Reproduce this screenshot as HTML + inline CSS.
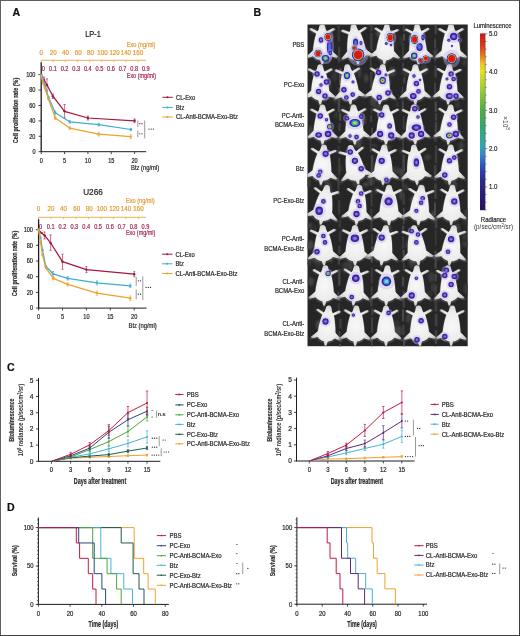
<!DOCTYPE html>
<html><head><meta charset="utf-8"><style>
html,body{margin:0;padding:0;background:#fff;}
svg{display:block;will-change:transform;}
text{font-family:"Liberation Sans",sans-serif;}
</style></head><body>
<svg width="520" height="636" viewBox="0 0 520 636">
<rect x="0" y="0" width="520" height="636" fill="#fff"/>
<text x="93.00" y="37.25" font-size="8.2" fill="#222" stroke="#222" stroke-width="0.2" text-anchor="middle" textLength="15.60" lengthAdjust="spacingAndGlyphs">LP-1</text>
<line x1="41.20" y1="60.30" x2="146.00" y2="60.30" stroke="#e59a30" stroke-width="0.8" />
<line x1="41.20" y1="60.30" x2="41.20" y2="62.10" stroke="#e59a30" stroke-width="0.7" />
<text x="41.20" y="54.54" font-size="6.5" fill="#e59a30" stroke="#e59a30" stroke-width="0.2" text-anchor="middle" textLength="3.43" lengthAdjust="spacingAndGlyphs">0</text>
<line x1="53.30" y1="60.30" x2="53.30" y2="62.10" stroke="#e59a30" stroke-width="0.7" />
<text x="53.30" y="54.54" font-size="6.5" fill="#e59a30" stroke="#e59a30" stroke-width="0.2" text-anchor="middle" textLength="6.87" lengthAdjust="spacingAndGlyphs">20</text>
<line x1="65.40" y1="60.30" x2="65.40" y2="62.10" stroke="#e59a30" stroke-width="0.7" />
<text x="65.40" y="54.54" font-size="6.5" fill="#e59a30" stroke="#e59a30" stroke-width="0.2" text-anchor="middle" textLength="6.87" lengthAdjust="spacingAndGlyphs">40</text>
<line x1="77.50" y1="60.30" x2="77.50" y2="62.10" stroke="#e59a30" stroke-width="0.7" />
<text x="78.30" y="54.54" font-size="6.5" fill="#e59a30" stroke="#e59a30" stroke-width="0.2" text-anchor="middle" textLength="6.87" lengthAdjust="spacingAndGlyphs">60</text>
<line x1="89.60" y1="60.30" x2="89.60" y2="62.10" stroke="#e59a30" stroke-width="0.7" />
<text x="90.40" y="54.54" font-size="6.5" fill="#e59a30" stroke="#e59a30" stroke-width="0.2" text-anchor="middle" textLength="6.87" lengthAdjust="spacingAndGlyphs">80</text>
<line x1="101.70" y1="60.30" x2="101.70" y2="62.10" stroke="#e59a30" stroke-width="0.7" />
<text x="102.50" y="54.54" font-size="6.5" fill="#e59a30" stroke="#e59a30" stroke-width="0.2" text-anchor="middle" textLength="10.30" lengthAdjust="spacingAndGlyphs">100</text>
<line x1="113.80" y1="60.30" x2="113.80" y2="62.10" stroke="#e59a30" stroke-width="0.7" />
<text x="114.60" y="54.54" font-size="6.5" fill="#e59a30" stroke="#e59a30" stroke-width="0.2" text-anchor="middle" textLength="10.30" lengthAdjust="spacingAndGlyphs">120</text>
<line x1="125.90" y1="60.30" x2="125.90" y2="62.10" stroke="#e59a30" stroke-width="0.7" />
<text x="125.90" y="54.54" font-size="6.5" fill="#e59a30" stroke="#e59a30" stroke-width="0.2" text-anchor="middle" textLength="10.30" lengthAdjust="spacingAndGlyphs">140</text>
<line x1="138.00" y1="60.30" x2="138.00" y2="62.10" stroke="#e59a30" stroke-width="0.7" />
<text x="138.00" y="54.54" font-size="6.5" fill="#e59a30" stroke="#e59a30" stroke-width="0.2" text-anchor="middle" textLength="10.30" lengthAdjust="spacingAndGlyphs">160</text>
<text x="126.80" y="47.48" font-size="6.9" fill="#e59a30" stroke="#e59a30" stroke-width="0.2" textLength="28.60" lengthAdjust="spacingAndGlyphs">Exo (ng/ml)</text>
<text x="43.20" y="71.18" font-size="6.6" fill="#a3254c" stroke="#a3254c" stroke-width="0.2" text-anchor="middle" textLength="3.12" lengthAdjust="spacingAndGlyphs">0</text>
<text x="53.00" y="71.18" font-size="6.6" fill="#a3254c" stroke="#a3254c" stroke-width="0.2" text-anchor="middle" textLength="7.80" lengthAdjust="spacingAndGlyphs">0.1</text>
<text x="64.60" y="71.18" font-size="6.6" fill="#a3254c" stroke="#a3254c" stroke-width="0.2" text-anchor="middle" textLength="7.80" lengthAdjust="spacingAndGlyphs">0.2</text>
<text x="76.20" y="71.18" font-size="6.6" fill="#a3254c" stroke="#a3254c" stroke-width="0.2" text-anchor="middle" textLength="7.80" lengthAdjust="spacingAndGlyphs">0.3</text>
<text x="87.80" y="71.18" font-size="6.6" fill="#a3254c" stroke="#a3254c" stroke-width="0.2" text-anchor="middle" textLength="7.80" lengthAdjust="spacingAndGlyphs">0.4</text>
<text x="99.40" y="71.18" font-size="6.6" fill="#a3254c" stroke="#a3254c" stroke-width="0.2" text-anchor="middle" textLength="7.80" lengthAdjust="spacingAndGlyphs">0.5</text>
<text x="111.00" y="71.18" font-size="6.6" fill="#a3254c" stroke="#a3254c" stroke-width="0.2" text-anchor="middle" textLength="7.80" lengthAdjust="spacingAndGlyphs">0.6</text>
<text x="122.60" y="71.18" font-size="6.6" fill="#a3254c" stroke="#a3254c" stroke-width="0.2" text-anchor="middle" textLength="7.80" lengthAdjust="spacingAndGlyphs">0.7</text>
<text x="134.20" y="71.18" font-size="6.6" fill="#a3254c" stroke="#a3254c" stroke-width="0.2" text-anchor="middle" textLength="7.80" lengthAdjust="spacingAndGlyphs">0.8</text>
<text x="145.80" y="71.18" font-size="6.6" fill="#a3254c" stroke="#a3254c" stroke-width="0.2" text-anchor="middle" textLength="7.80" lengthAdjust="spacingAndGlyphs">0.9</text>
<text x="126.80" y="78.08" font-size="6.9" fill="#a3254c" stroke="#a3254c" stroke-width="0.2" textLength="29.20" lengthAdjust="spacingAndGlyphs">Exo (mg/ml)</text>
<line x1="41.20" y1="62.30" x2="41.20" y2="152.10" stroke="#1c1c1c" stroke-width="1.3" />
<line x1="38.50" y1="151.70" x2="41.20" y2="151.70" stroke="#1c1c1c" stroke-width="0.8" />
<text x="35.50" y="154.08" font-size="6.6" fill="#262626" stroke="#262626" stroke-width="0.2" text-anchor="end" textLength="3.12" lengthAdjust="spacingAndGlyphs">0</text>
<line x1="38.50" y1="136.28" x2="41.20" y2="136.28" stroke="#1c1c1c" stroke-width="0.8" />
<text x="35.50" y="138.66" font-size="6.6" fill="#262626" stroke="#262626" stroke-width="0.2" text-anchor="end" textLength="6.24" lengthAdjust="spacingAndGlyphs">20</text>
<line x1="38.50" y1="120.86" x2="41.20" y2="120.86" stroke="#1c1c1c" stroke-width="0.8" />
<text x="35.50" y="123.24" font-size="6.6" fill="#262626" stroke="#262626" stroke-width="0.2" text-anchor="end" textLength="6.24" lengthAdjust="spacingAndGlyphs">40</text>
<line x1="38.50" y1="105.44" x2="41.20" y2="105.44" stroke="#1c1c1c" stroke-width="0.8" />
<text x="35.50" y="107.82" font-size="6.6" fill="#262626" stroke="#262626" stroke-width="0.2" text-anchor="end" textLength="6.24" lengthAdjust="spacingAndGlyphs">60</text>
<line x1="38.50" y1="90.02" x2="41.20" y2="90.02" stroke="#1c1c1c" stroke-width="0.8" />
<text x="35.50" y="92.40" font-size="6.6" fill="#262626" stroke="#262626" stroke-width="0.2" text-anchor="end" textLength="6.24" lengthAdjust="spacingAndGlyphs">80</text>
<line x1="38.50" y1="74.60" x2="41.20" y2="74.60" stroke="#1c1c1c" stroke-width="0.8" />
<text x="35.50" y="76.98" font-size="6.6" fill="#262626" stroke="#262626" stroke-width="0.2" text-anchor="end" textLength="9.36" lengthAdjust="spacingAndGlyphs">100</text>
<line x1="41.20" y1="151.70" x2="146.20" y2="151.70" stroke="#1c1c1c" stroke-width="1.0" />
<line x1="41.20" y1="151.70" x2="41.20" y2="154.10" stroke="#1c1c1c" stroke-width="0.8" />
<text x="41.20" y="162.98" font-size="6.6" fill="#262626" stroke="#262626" stroke-width="0.2" text-anchor="middle" textLength="3.12" lengthAdjust="spacingAndGlyphs">0</text>
<line x1="64.55" y1="151.70" x2="64.55" y2="154.10" stroke="#1c1c1c" stroke-width="0.8" />
<text x="64.55" y="162.98" font-size="6.6" fill="#262626" stroke="#262626" stroke-width="0.2" text-anchor="middle" textLength="3.12" lengthAdjust="spacingAndGlyphs">5</text>
<line x1="87.90" y1="151.70" x2="87.90" y2="154.10" stroke="#1c1c1c" stroke-width="0.8" />
<text x="87.90" y="162.98" font-size="6.6" fill="#262626" stroke="#262626" stroke-width="0.2" text-anchor="middle" textLength="6.24" lengthAdjust="spacingAndGlyphs">10</text>
<line x1="111.25" y1="151.70" x2="111.25" y2="154.10" stroke="#1c1c1c" stroke-width="0.8" />
<text x="111.25" y="162.98" font-size="6.6" fill="#262626" stroke="#262626" stroke-width="0.2" text-anchor="middle" textLength="6.24" lengthAdjust="spacingAndGlyphs">15</text>
<line x1="134.60" y1="151.70" x2="134.60" y2="154.10" stroke="#1c1c1c" stroke-width="0.8" />
<text x="134.60" y="162.98" font-size="6.6" fill="#262626" stroke="#262626" stroke-width="0.2" text-anchor="middle" textLength="6.24" lengthAdjust="spacingAndGlyphs">20</text>
<text x="131.00" y="170.35" font-size="6.8" fill="#262626" stroke="#262626" stroke-width="0.2" textLength="28.20" lengthAdjust="spacingAndGlyphs">Btz (ng/ml)</text>
<text transform="translate(16.00,110.40) rotate(-90)" x="0" y="2.48" font-size="6.9" fill="#2a2a2a" stroke="#2a2a2a" stroke-width="0.2" font-weight="bold" text-anchor="middle" textLength="65.50" lengthAdjust="spacingAndGlyphs">Cell proliferation rate (%)</text>
<line x1="47.00" y1="78.80" x2="47.00" y2="91.00" stroke="#a8163f" stroke-width="0.6" />
<line x1="45.90" y1="78.80" x2="48.10" y2="78.80" stroke="#a8163f" stroke-width="0.6" />
<line x1="45.90" y1="91.00" x2="48.10" y2="91.00" stroke="#a8163f" stroke-width="0.6" />
<line x1="52.90" y1="94.00" x2="52.90" y2="98.50" stroke="#a8163f" stroke-width="0.6" />
<line x1="51.80" y1="94.00" x2="54.00" y2="94.00" stroke="#a8163f" stroke-width="0.6" />
<line x1="51.80" y1="98.50" x2="54.00" y2="98.50" stroke="#a8163f" stroke-width="0.6" />
<line x1="64.55" y1="104.50" x2="64.55" y2="118.00" stroke="#a8163f" stroke-width="0.6" />
<line x1="63.45" y1="104.50" x2="65.65" y2="104.50" stroke="#a8163f" stroke-width="0.6" />
<line x1="63.45" y1="118.00" x2="65.65" y2="118.00" stroke="#a8163f" stroke-width="0.6" />
<line x1="87.90" y1="116.00" x2="87.90" y2="120.00" stroke="#a8163f" stroke-width="0.6" />
<line x1="86.80" y1="116.00" x2="89.00" y2="116.00" stroke="#a8163f" stroke-width="0.6" />
<line x1="86.80" y1="120.00" x2="89.00" y2="120.00" stroke="#a8163f" stroke-width="0.6" />
<line x1="134.60" y1="119.00" x2="134.60" y2="122.60" stroke="#a8163f" stroke-width="0.6" />
<line x1="133.50" y1="119.00" x2="135.70" y2="119.00" stroke="#a8163f" stroke-width="0.6" />
<line x1="133.50" y1="122.60" x2="135.70" y2="122.60" stroke="#a8163f" stroke-width="0.6" />
<line x1="44.10" y1="77.00" x2="44.10" y2="83.00" stroke="#a8163f" stroke-width="0.6" />
<line x1="43.00" y1="77.00" x2="45.20" y2="77.00" stroke="#a8163f" stroke-width="0.6" />
<line x1="43.00" y1="83.00" x2="45.20" y2="83.00" stroke="#a8163f" stroke-width="0.6" />
<polyline points="41.20,75.00 44.10,80.00 47.00,85.00 52.90,96.20 64.55,111.30 87.90,118.00 134.60,120.80" fill="none" stroke="#a8163f" stroke-width="1.25" stroke-linejoin="round" />
<circle cx="41.20" cy="75.00" r="1.2" fill="#a8163f"/>
<circle cx="44.10" cy="80.00" r="1.2" fill="#a8163f"/>
<circle cx="47.00" cy="85.00" r="1.2" fill="#a8163f"/>
<circle cx="52.90" cy="96.20" r="1.2" fill="#a8163f"/>
<circle cx="64.55" cy="111.30" r="1.2" fill="#a8163f"/>
<circle cx="87.90" cy="118.00" r="1.2" fill="#a8163f"/>
<circle cx="134.60" cy="120.80" r="1.2" fill="#a8163f"/>
<line x1="55.20" y1="111.00" x2="55.20" y2="114.60" stroke="#3eaed4" stroke-width="0.6" />
<line x1="54.10" y1="111.00" x2="56.30" y2="111.00" stroke="#3eaed4" stroke-width="0.6" />
<line x1="54.10" y1="114.60" x2="56.30" y2="114.60" stroke="#3eaed4" stroke-width="0.6" />
<line x1="69.70" y1="120.30" x2="69.70" y2="123.30" stroke="#3eaed4" stroke-width="0.6" />
<line x1="68.60" y1="120.30" x2="70.80" y2="120.30" stroke="#3eaed4" stroke-width="0.6" />
<line x1="68.60" y1="123.30" x2="70.80" y2="123.30" stroke="#3eaed4" stroke-width="0.6" />
<line x1="98.80" y1="123.20" x2="98.80" y2="126.00" stroke="#3eaed4" stroke-width="0.6" />
<line x1="97.70" y1="123.20" x2="99.90" y2="123.20" stroke="#3eaed4" stroke-width="0.6" />
<line x1="97.70" y1="126.00" x2="99.90" y2="126.00" stroke="#3eaed4" stroke-width="0.6" />
<line x1="130.80" y1="128.30" x2="130.80" y2="130.70" stroke="#3eaed4" stroke-width="0.6" />
<line x1="129.70" y1="128.30" x2="131.90" y2="128.30" stroke="#3eaed4" stroke-width="0.6" />
<line x1="129.70" y1="130.70" x2="131.90" y2="130.70" stroke="#3eaed4" stroke-width="0.6" />
<polyline points="41.20,75.00 43.00,79.00 44.80,85.00 48.40,97.00 55.20,112.80 69.70,121.80 98.80,124.60 130.80,129.50" fill="none" stroke="#3eaed4" stroke-width="1.25" stroke-linejoin="round" />
<circle cx="41.20" cy="75.00" r="1.2" fill="#3eaed4"/>
<circle cx="43.00" cy="79.00" r="1.2" fill="#3eaed4"/>
<circle cx="44.80" cy="85.00" r="1.2" fill="#3eaed4"/>
<circle cx="48.40" cy="97.00" r="1.2" fill="#3eaed4"/>
<circle cx="55.20" cy="112.80" r="1.2" fill="#3eaed4"/>
<circle cx="69.70" cy="121.80" r="1.2" fill="#3eaed4"/>
<circle cx="98.80" cy="124.60" r="1.2" fill="#3eaed4"/>
<circle cx="130.80" cy="129.50" r="1.2" fill="#3eaed4"/>
<line x1="55.30" y1="116.30" x2="55.30" y2="119.70" stroke="#eea22a" stroke-width="0.6" />
<line x1="54.20" y1="116.30" x2="56.40" y2="116.30" stroke="#eea22a" stroke-width="0.6" />
<line x1="54.20" y1="119.70" x2="56.40" y2="119.70" stroke="#eea22a" stroke-width="0.6" />
<line x1="69.70" y1="126.80" x2="69.70" y2="129.40" stroke="#eea22a" stroke-width="0.6" />
<line x1="68.60" y1="126.80" x2="70.80" y2="126.80" stroke="#eea22a" stroke-width="0.6" />
<line x1="68.60" y1="129.40" x2="70.80" y2="129.40" stroke="#eea22a" stroke-width="0.6" />
<line x1="98.80" y1="132.40" x2="98.80" y2="136.00" stroke="#eea22a" stroke-width="0.6" />
<line x1="97.70" y1="132.40" x2="99.90" y2="132.40" stroke="#eea22a" stroke-width="0.6" />
<line x1="97.70" y1="136.00" x2="99.90" y2="136.00" stroke="#eea22a" stroke-width="0.6" />
<line x1="130.80" y1="134.80" x2="130.80" y2="138.40" stroke="#eea22a" stroke-width="0.6" />
<line x1="129.70" y1="134.80" x2="131.90" y2="134.80" stroke="#eea22a" stroke-width="0.6" />
<line x1="129.70" y1="138.40" x2="131.90" y2="138.40" stroke="#eea22a" stroke-width="0.6" />
<polyline points="41.20,76.00 43.00,83.00 44.80,88.00 48.40,99.00 55.30,118.00 69.70,128.10 98.80,134.20 130.80,136.60" fill="none" stroke="#eea22a" stroke-width="1.25" stroke-linejoin="round" />
<circle cx="41.20" cy="76.00" r="1.2" fill="#eea22a"/>
<circle cx="43.00" cy="83.00" r="1.2" fill="#eea22a"/>
<circle cx="44.80" cy="88.00" r="1.2" fill="#eea22a"/>
<circle cx="48.40" cy="99.00" r="1.2" fill="#eea22a"/>
<circle cx="55.30" cy="118.00" r="1.2" fill="#eea22a"/>
<circle cx="69.70" cy="128.10" r="1.2" fill="#eea22a"/>
<circle cx="98.80" cy="134.20" r="1.2" fill="#eea22a"/>
<circle cx="130.80" cy="136.60" r="1.2" fill="#eea22a"/>
<line x1="162.30" y1="97.30" x2="172.80" y2="97.30" stroke="#a8163f" stroke-width="1.0" />
<circle cx="167.50" cy="97.30" r="1.0" fill="#a8163f"/>
<text x="176.00" y="99.60" font-size="6.4" fill="#262626" stroke="#262626" stroke-width="0.2" textLength="19.21" lengthAdjust="spacingAndGlyphs">CL-Exo</text>
<line x1="162.30" y1="107.40" x2="172.80" y2="107.40" stroke="#3eaed4" stroke-width="1.0" />
<circle cx="167.50" cy="107.40" r="1.0" fill="#3eaed4"/>
<text x="176.00" y="109.70" font-size="6.4" fill="#262626" stroke="#262626" stroke-width="0.2" textLength="8.32" lengthAdjust="spacingAndGlyphs">Btz</text>
<line x1="162.30" y1="117.00" x2="172.80" y2="117.00" stroke="#eea22a" stroke-width="1.0" />
<circle cx="167.50" cy="117.00" r="1.0" fill="#eea22a"/>
<text x="176.00" y="119.30" font-size="6.4" fill="#262626" stroke="#262626" stroke-width="0.2" textLength="61.90" lengthAdjust="spacingAndGlyphs">CL-Anti-BCMA-Exo-Btz</text>
<line x1="137.80" y1="120.50" x2="137.80" y2="127.10" stroke="#555" stroke-width="0.6" />
<line x1="137.80" y1="130.30" x2="137.80" y2="137.20" stroke="#555" stroke-width="0.6" />
<line x1="144.70" y1="120.50" x2="144.70" y2="138.40" stroke="#555" stroke-width="0.6" />
<circle cx="139.80" cy="123.70" r="0.62" fill="#222"/>
<circle cx="142.00" cy="123.70" r="0.62" fill="#222"/>
<circle cx="139.80" cy="133.75" r="0.62" fill="#222"/>
<circle cx="142.00" cy="133.75" r="0.62" fill="#222"/>
<circle cx="149.00" cy="129.10" r="0.62" fill="#222"/>
<circle cx="151.20" cy="129.10" r="0.62" fill="#222"/>
<circle cx="153.40" cy="129.10" r="0.62" fill="#222"/>
<text x="93.00" y="195.45" font-size="8.2" fill="#222" stroke="#222" stroke-width="0.2" text-anchor="middle">U266</text>
<line x1="38.50" y1="217.30" x2="146.00" y2="217.30" stroke="#e59a30" stroke-width="0.8" />
<line x1="38.50" y1="217.30" x2="38.50" y2="219.10" stroke="#e59a30" stroke-width="0.7" />
<text x="38.50" y="211.14" font-size="6.5" fill="#e59a30" stroke="#e59a30" stroke-width="0.2" text-anchor="middle" textLength="3.43" lengthAdjust="spacingAndGlyphs">0</text>
<line x1="51.00" y1="217.30" x2="51.00" y2="219.10" stroke="#e59a30" stroke-width="0.7" />
<text x="51.00" y="211.14" font-size="6.5" fill="#e59a30" stroke="#e59a30" stroke-width="0.2" text-anchor="middle" textLength="6.87" lengthAdjust="spacingAndGlyphs">20</text>
<line x1="63.50" y1="217.30" x2="63.50" y2="219.10" stroke="#e59a30" stroke-width="0.7" />
<text x="63.50" y="211.14" font-size="6.5" fill="#e59a30" stroke="#e59a30" stroke-width="0.2" text-anchor="middle" textLength="6.87" lengthAdjust="spacingAndGlyphs">40</text>
<line x1="76.00" y1="217.30" x2="76.00" y2="219.10" stroke="#e59a30" stroke-width="0.7" />
<text x="76.80" y="211.14" font-size="6.5" fill="#e59a30" stroke="#e59a30" stroke-width="0.2" text-anchor="middle" textLength="6.87" lengthAdjust="spacingAndGlyphs">60</text>
<line x1="88.50" y1="217.30" x2="88.50" y2="219.10" stroke="#e59a30" stroke-width="0.7" />
<text x="89.30" y="211.14" font-size="6.5" fill="#e59a30" stroke="#e59a30" stroke-width="0.2" text-anchor="middle" textLength="6.87" lengthAdjust="spacingAndGlyphs">80</text>
<line x1="101.00" y1="217.30" x2="101.00" y2="219.10" stroke="#e59a30" stroke-width="0.7" />
<text x="101.80" y="211.14" font-size="6.5" fill="#e59a30" stroke="#e59a30" stroke-width="0.2" text-anchor="middle" textLength="10.30" lengthAdjust="spacingAndGlyphs">100</text>
<line x1="113.50" y1="217.30" x2="113.50" y2="219.10" stroke="#e59a30" stroke-width="0.7" />
<text x="114.30" y="211.14" font-size="6.5" fill="#e59a30" stroke="#e59a30" stroke-width="0.2" text-anchor="middle" textLength="10.30" lengthAdjust="spacingAndGlyphs">120</text>
<line x1="126.00" y1="217.30" x2="126.00" y2="219.10" stroke="#e59a30" stroke-width="0.7" />
<text x="126.00" y="211.14" font-size="6.5" fill="#e59a30" stroke="#e59a30" stroke-width="0.2" text-anchor="middle" textLength="10.30" lengthAdjust="spacingAndGlyphs">140</text>
<line x1="138.50" y1="217.30" x2="138.50" y2="219.10" stroke="#e59a30" stroke-width="0.7" />
<text x="138.50" y="211.14" font-size="6.5" fill="#e59a30" stroke="#e59a30" stroke-width="0.2" text-anchor="middle" textLength="10.30" lengthAdjust="spacingAndGlyphs">160</text>
<text x="126.00" y="202.98" font-size="6.9" fill="#e59a30" stroke="#e59a30" stroke-width="0.2" textLength="28.60" lengthAdjust="spacingAndGlyphs">Exo (ng/ml)</text>
<text x="40.60" y="228.58" font-size="6.6" fill="#a3254c" stroke="#a3254c" stroke-width="0.2" text-anchor="middle" textLength="3.12" lengthAdjust="spacingAndGlyphs">0</text>
<text x="50.65" y="228.58" font-size="6.6" fill="#a3254c" stroke="#a3254c" stroke-width="0.2" text-anchor="middle" textLength="7.80" lengthAdjust="spacingAndGlyphs">0.1</text>
<text x="62.50" y="228.58" font-size="6.6" fill="#a3254c" stroke="#a3254c" stroke-width="0.2" text-anchor="middle" textLength="7.80" lengthAdjust="spacingAndGlyphs">0.2</text>
<text x="74.35" y="228.58" font-size="6.6" fill="#a3254c" stroke="#a3254c" stroke-width="0.2" text-anchor="middle" textLength="7.80" lengthAdjust="spacingAndGlyphs">0.3</text>
<text x="86.20" y="228.58" font-size="6.6" fill="#a3254c" stroke="#a3254c" stroke-width="0.2" text-anchor="middle" textLength="7.80" lengthAdjust="spacingAndGlyphs">0.4</text>
<text x="98.05" y="228.58" font-size="6.6" fill="#a3254c" stroke="#a3254c" stroke-width="0.2" text-anchor="middle" textLength="7.80" lengthAdjust="spacingAndGlyphs">0.5</text>
<text x="109.90" y="228.58" font-size="6.6" fill="#a3254c" stroke="#a3254c" stroke-width="0.2" text-anchor="middle" textLength="7.80" lengthAdjust="spacingAndGlyphs">0.6</text>
<text x="121.75" y="228.58" font-size="6.6" fill="#a3254c" stroke="#a3254c" stroke-width="0.2" text-anchor="middle" textLength="7.80" lengthAdjust="spacingAndGlyphs">0.7</text>
<text x="133.60" y="228.58" font-size="6.6" fill="#a3254c" stroke="#a3254c" stroke-width="0.2" text-anchor="middle" textLength="7.80" lengthAdjust="spacingAndGlyphs">0.8</text>
<text x="145.45" y="228.58" font-size="6.6" fill="#a3254c" stroke="#a3254c" stroke-width="0.2" text-anchor="middle" textLength="7.80" lengthAdjust="spacingAndGlyphs">0.9</text>
<text x="126.00" y="235.48" font-size="6.9" fill="#a3254c" stroke="#a3254c" stroke-width="0.2" textLength="29.20" lengthAdjust="spacingAndGlyphs">Exo (mg/ml)</text>
<line x1="38.60" y1="219.20" x2="38.60" y2="308.50" stroke="#1c1c1c" stroke-width="1.3" />
<line x1="35.90" y1="308.10" x2="38.60" y2="308.10" stroke="#1c1c1c" stroke-width="0.8" />
<text x="33.00" y="310.48" font-size="6.6" fill="#262626" stroke="#262626" stroke-width="0.2" text-anchor="end" textLength="3.12" lengthAdjust="spacingAndGlyphs">0</text>
<line x1="35.90" y1="292.40" x2="38.60" y2="292.40" stroke="#1c1c1c" stroke-width="0.8" />
<text x="33.00" y="294.78" font-size="6.6" fill="#262626" stroke="#262626" stroke-width="0.2" text-anchor="end" textLength="6.24" lengthAdjust="spacingAndGlyphs">20</text>
<line x1="35.90" y1="276.70" x2="38.60" y2="276.70" stroke="#1c1c1c" stroke-width="0.8" />
<text x="33.00" y="279.08" font-size="6.6" fill="#262626" stroke="#262626" stroke-width="0.2" text-anchor="end" textLength="6.24" lengthAdjust="spacingAndGlyphs">40</text>
<line x1="35.90" y1="261.00" x2="38.60" y2="261.00" stroke="#1c1c1c" stroke-width="0.8" />
<text x="33.00" y="263.38" font-size="6.6" fill="#262626" stroke="#262626" stroke-width="0.2" text-anchor="end" textLength="6.24" lengthAdjust="spacingAndGlyphs">60</text>
<line x1="35.90" y1="245.30" x2="38.60" y2="245.30" stroke="#1c1c1c" stroke-width="0.8" />
<text x="33.00" y="247.68" font-size="6.6" fill="#262626" stroke="#262626" stroke-width="0.2" text-anchor="end" textLength="6.24" lengthAdjust="spacingAndGlyphs">80</text>
<line x1="35.90" y1="229.60" x2="38.60" y2="229.60" stroke="#1c1c1c" stroke-width="0.8" />
<text x="33.00" y="231.98" font-size="6.6" fill="#262626" stroke="#262626" stroke-width="0.2" text-anchor="end" textLength="9.36" lengthAdjust="spacingAndGlyphs">100</text>
<line x1="38.60" y1="308.10" x2="146.60" y2="308.10" stroke="#1c1c1c" stroke-width="1.0" />
<line x1="38.60" y1="308.10" x2="38.60" y2="310.50" stroke="#1c1c1c" stroke-width="0.8" />
<text x="38.60" y="319.38" font-size="6.6" fill="#262626" stroke="#262626" stroke-width="0.2" text-anchor="middle" textLength="3.12" lengthAdjust="spacingAndGlyphs">0</text>
<line x1="62.50" y1="308.10" x2="62.50" y2="310.50" stroke="#1c1c1c" stroke-width="0.8" />
<text x="62.50" y="319.38" font-size="6.6" fill="#262626" stroke="#262626" stroke-width="0.2" text-anchor="middle" textLength="3.12" lengthAdjust="spacingAndGlyphs">5</text>
<line x1="86.40" y1="308.10" x2="86.40" y2="310.50" stroke="#1c1c1c" stroke-width="0.8" />
<text x="86.40" y="319.38" font-size="6.6" fill="#262626" stroke="#262626" stroke-width="0.2" text-anchor="middle" textLength="6.24" lengthAdjust="spacingAndGlyphs">10</text>
<line x1="110.30" y1="308.10" x2="110.30" y2="310.50" stroke="#1c1c1c" stroke-width="0.8" />
<text x="110.30" y="319.38" font-size="6.6" fill="#262626" stroke="#262626" stroke-width="0.2" text-anchor="middle" textLength="6.24" lengthAdjust="spacingAndGlyphs">15</text>
<line x1="134.20" y1="308.10" x2="134.20" y2="310.50" stroke="#1c1c1c" stroke-width="0.8" />
<text x="134.20" y="319.38" font-size="6.6" fill="#262626" stroke="#262626" stroke-width="0.2" text-anchor="middle" textLength="6.24" lengthAdjust="spacingAndGlyphs">20</text>
<text x="128.50" y="327.65" font-size="6.8" fill="#262626" stroke="#262626" stroke-width="0.2" textLength="28.20" lengthAdjust="spacingAndGlyphs">Btz (ng/ml)</text>
<text transform="translate(15.00,263.50) rotate(-90)" x="0" y="2.48" font-size="6.9" fill="#2a2a2a" stroke="#2a2a2a" stroke-width="0.2" font-weight="bold" text-anchor="middle" textLength="65.50" lengthAdjust="spacingAndGlyphs">Cell proliferation rate (%)</text>
<line x1="44.60" y1="232.00" x2="44.60" y2="239.00" stroke="#a8163f" stroke-width="0.6" />
<line x1="43.50" y1="232.00" x2="45.70" y2="232.00" stroke="#a8163f" stroke-width="0.6" />
<line x1="43.50" y1="239.00" x2="45.70" y2="239.00" stroke="#a8163f" stroke-width="0.6" />
<line x1="50.60" y1="234.90" x2="50.60" y2="250.40" stroke="#a8163f" stroke-width="0.6" />
<line x1="49.50" y1="234.90" x2="51.70" y2="234.90" stroke="#a8163f" stroke-width="0.6" />
<line x1="49.50" y1="250.40" x2="51.70" y2="250.40" stroke="#a8163f" stroke-width="0.6" />
<line x1="62.50" y1="254.20" x2="62.50" y2="269.30" stroke="#a8163f" stroke-width="0.6" />
<line x1="61.40" y1="254.20" x2="63.60" y2="254.20" stroke="#a8163f" stroke-width="0.6" />
<line x1="61.40" y1="269.30" x2="63.60" y2="269.30" stroke="#a8163f" stroke-width="0.6" />
<line x1="86.40" y1="266.60" x2="86.40" y2="272.60" stroke="#a8163f" stroke-width="0.6" />
<line x1="85.30" y1="266.60" x2="87.50" y2="266.60" stroke="#a8163f" stroke-width="0.6" />
<line x1="85.30" y1="272.60" x2="87.50" y2="272.60" stroke="#a8163f" stroke-width="0.6" />
<line x1="134.20" y1="271.70" x2="134.20" y2="276.70" stroke="#a8163f" stroke-width="0.6" />
<line x1="133.10" y1="271.70" x2="135.30" y2="271.70" stroke="#a8163f" stroke-width="0.6" />
<line x1="133.10" y1="276.70" x2="135.30" y2="276.70" stroke="#a8163f" stroke-width="0.6" />
<polyline points="38.60,229.60 41.60,233.10 44.60,235.40 50.60,242.90 62.50,261.70 86.40,269.60 134.20,274.20" fill="none" stroke="#a8163f" stroke-width="1.25" stroke-linejoin="round" />
<circle cx="38.60" cy="229.60" r="1.2" fill="#a8163f"/>
<circle cx="41.60" cy="233.10" r="1.2" fill="#a8163f"/>
<circle cx="44.60" cy="235.40" r="1.2" fill="#a8163f"/>
<circle cx="50.60" cy="242.90" r="1.2" fill="#a8163f"/>
<circle cx="62.50" cy="261.70" r="1.2" fill="#a8163f"/>
<circle cx="86.40" cy="269.60" r="1.2" fill="#a8163f"/>
<circle cx="134.20" cy="274.20" r="1.2" fill="#a8163f"/>
<line x1="52.90" y1="271.50" x2="52.90" y2="276.00" stroke="#3eaed4" stroke-width="0.6" />
<line x1="51.80" y1="271.50" x2="54.00" y2="271.50" stroke="#3eaed4" stroke-width="0.6" />
<line x1="51.80" y1="276.00" x2="54.00" y2="276.00" stroke="#3eaed4" stroke-width="0.6" />
<line x1="67.70" y1="276.60" x2="67.70" y2="280.00" stroke="#3eaed4" stroke-width="0.6" />
<line x1="66.60" y1="276.60" x2="68.80" y2="276.60" stroke="#3eaed4" stroke-width="0.6" />
<line x1="66.60" y1="280.00" x2="68.80" y2="280.00" stroke="#3eaed4" stroke-width="0.6" />
<line x1="96.90" y1="280.80" x2="96.90" y2="284.80" stroke="#3eaed4" stroke-width="0.6" />
<line x1="95.80" y1="280.80" x2="98.00" y2="280.80" stroke="#3eaed4" stroke-width="0.6" />
<line x1="95.80" y1="284.80" x2="98.00" y2="284.80" stroke="#3eaed4" stroke-width="0.6" />
<line x1="130.30" y1="284.00" x2="130.30" y2="287.60" stroke="#3eaed4" stroke-width="0.6" />
<line x1="129.20" y1="284.00" x2="131.40" y2="284.00" stroke="#3eaed4" stroke-width="0.6" />
<line x1="129.20" y1="287.60" x2="131.40" y2="287.60" stroke="#3eaed4" stroke-width="0.6" />
<polyline points="38.60,229.60 40.50,237.60 42.50,250.00 45.80,266.30 52.90,273.80 67.70,278.30 96.90,282.80 130.30,285.80" fill="none" stroke="#3eaed4" stroke-width="1.25" stroke-linejoin="round" />
<circle cx="38.60" cy="229.60" r="1.2" fill="#3eaed4"/>
<circle cx="40.50" cy="237.60" r="1.2" fill="#3eaed4"/>
<circle cx="42.50" cy="250.00" r="1.2" fill="#3eaed4"/>
<circle cx="45.80" cy="266.30" r="1.2" fill="#3eaed4"/>
<circle cx="52.90" cy="273.80" r="1.2" fill="#3eaed4"/>
<circle cx="67.70" cy="278.30" r="1.2" fill="#3eaed4"/>
<circle cx="96.90" cy="282.80" r="1.2" fill="#3eaed4"/>
<circle cx="130.30" cy="285.80" r="1.2" fill="#3eaed4"/>
<line x1="53.30" y1="276.50" x2="53.30" y2="280.00" stroke="#eea22a" stroke-width="0.6" />
<line x1="52.20" y1="276.50" x2="54.40" y2="276.50" stroke="#eea22a" stroke-width="0.6" />
<line x1="52.20" y1="280.00" x2="54.40" y2="280.00" stroke="#eea22a" stroke-width="0.6" />
<line x1="67.70" y1="282.80" x2="67.70" y2="286.00" stroke="#eea22a" stroke-width="0.6" />
<line x1="66.60" y1="282.80" x2="68.80" y2="282.80" stroke="#eea22a" stroke-width="0.6" />
<line x1="66.60" y1="286.00" x2="68.80" y2="286.00" stroke="#eea22a" stroke-width="0.6" />
<line x1="96.90" y1="291.00" x2="96.90" y2="295.20" stroke="#eea22a" stroke-width="0.6" />
<line x1="95.80" y1="291.00" x2="98.00" y2="291.00" stroke="#eea22a" stroke-width="0.6" />
<line x1="95.80" y1="295.20" x2="98.00" y2="295.20" stroke="#eea22a" stroke-width="0.6" />
<line x1="130.30" y1="296.00" x2="130.30" y2="300.40" stroke="#eea22a" stroke-width="0.6" />
<line x1="129.20" y1="296.00" x2="131.40" y2="296.00" stroke="#eea22a" stroke-width="0.6" />
<line x1="129.20" y1="300.40" x2="131.40" y2="300.40" stroke="#eea22a" stroke-width="0.6" />
<polyline points="38.60,229.60 40.50,242.00 42.50,255.00 45.80,267.80 53.30,278.30 67.70,284.40 96.90,293.10 130.30,298.20" fill="none" stroke="#eea22a" stroke-width="1.25" stroke-linejoin="round" />
<circle cx="38.60" cy="229.60" r="1.2" fill="#eea22a"/>
<circle cx="40.50" cy="242.00" r="1.2" fill="#eea22a"/>
<circle cx="42.50" cy="255.00" r="1.2" fill="#eea22a"/>
<circle cx="45.80" cy="267.80" r="1.2" fill="#eea22a"/>
<circle cx="53.30" cy="278.30" r="1.2" fill="#eea22a"/>
<circle cx="67.70" cy="284.40" r="1.2" fill="#eea22a"/>
<circle cx="96.90" cy="293.10" r="1.2" fill="#eea22a"/>
<circle cx="130.30" cy="298.20" r="1.2" fill="#eea22a"/>
<line x1="162.00" y1="254.20" x2="172.50" y2="254.20" stroke="#a8163f" stroke-width="1.0" />
<circle cx="167.20" cy="254.20" r="1.0" fill="#a8163f"/>
<text x="175.50" y="256.50" font-size="6.4" fill="#262626" stroke="#262626" stroke-width="0.2" textLength="19.21" lengthAdjust="spacingAndGlyphs">CL-Exo</text>
<line x1="162.00" y1="263.80" x2="172.50" y2="263.80" stroke="#3eaed4" stroke-width="1.0" />
<circle cx="167.20" cy="263.80" r="1.0" fill="#3eaed4"/>
<text x="175.50" y="266.10" font-size="6.4" fill="#262626" stroke="#262626" stroke-width="0.2" textLength="8.32" lengthAdjust="spacingAndGlyphs">Btz</text>
<line x1="162.00" y1="273.50" x2="172.50" y2="273.50" stroke="#eea22a" stroke-width="1.0" />
<circle cx="167.20" cy="273.50" r="1.0" fill="#eea22a"/>
<text x="175.50" y="275.80" font-size="6.4" fill="#262626" stroke="#262626" stroke-width="0.2" textLength="61.90" lengthAdjust="spacingAndGlyphs">CL-Anti-BCMA-Exo-Btz</text>
<line x1="136.20" y1="276.90" x2="136.20" y2="285.80" stroke="#555" stroke-width="0.6" />
<line x1="136.20" y1="289.50" x2="136.20" y2="299.20" stroke="#555" stroke-width="0.6" />
<line x1="142.80" y1="276.20" x2="142.80" y2="300.00" stroke="#555" stroke-width="0.6" />
<circle cx="138.30" cy="280.80" r="0.62" fill="#222"/>
<circle cx="140.50" cy="280.80" r="0.62" fill="#222"/>
<circle cx="138.30" cy="294.20" r="0.62" fill="#222"/>
<circle cx="140.50" cy="294.20" r="0.62" fill="#222"/>
<circle cx="146.10" cy="287.40" r="0.62" fill="#222"/>
<circle cx="148.30" cy="287.40" r="0.62" fill="#222"/>
<circle cx="150.50" cy="287.40" r="0.62" fill="#222"/>
<text x="12.60" y="15.77" font-size="10.6" fill="#111" stroke="#111" stroke-width="0.2" font-weight="bold">A</text>
<text x="253.60" y="15.82" font-size="10.6" fill="#111" stroke="#111" stroke-width="0.2" font-weight="bold">B</text>
<text x="7.00" y="371.42" font-size="10.6" fill="#111" stroke="#111" stroke-width="0.2" font-weight="bold">C</text>
<text x="7.00" y="510.82" font-size="10.6" fill="#111" stroke="#111" stroke-width="0.2" font-weight="bold">D</text>
<line x1="38.50" y1="378.00" x2="38.50" y2="461.70" stroke="#1c1c1c" stroke-width="1.0" />
<line x1="35.90" y1="461.30" x2="38.50" y2="461.30" stroke="#1c1c1c" stroke-width="0.8" />
<text x="31.50" y="463.68" font-size="6.6" fill="#262626" stroke="#262626" stroke-width="0.2" text-anchor="middle">0</text>
<line x1="35.90" y1="445.10" x2="38.50" y2="445.10" stroke="#1c1c1c" stroke-width="0.8" />
<text x="31.50" y="447.48" font-size="6.6" fill="#262626" stroke="#262626" stroke-width="0.2" text-anchor="middle">1</text>
<line x1="35.90" y1="428.90" x2="38.50" y2="428.90" stroke="#1c1c1c" stroke-width="0.8" />
<text x="31.50" y="431.28" font-size="6.6" fill="#262626" stroke="#262626" stroke-width="0.2" text-anchor="middle">2</text>
<line x1="35.90" y1="412.70" x2="38.50" y2="412.70" stroke="#1c1c1c" stroke-width="0.8" />
<text x="31.50" y="415.08" font-size="6.6" fill="#262626" stroke="#262626" stroke-width="0.2" text-anchor="middle">3</text>
<line x1="35.90" y1="396.50" x2="38.50" y2="396.50" stroke="#1c1c1c" stroke-width="0.8" />
<text x="31.50" y="398.88" font-size="6.6" fill="#262626" stroke="#262626" stroke-width="0.2" text-anchor="middle">4</text>
<line x1="35.90" y1="380.30" x2="38.50" y2="380.30" stroke="#1c1c1c" stroke-width="0.8" />
<text x="31.50" y="382.68" font-size="6.6" fill="#262626" stroke="#262626" stroke-width="0.2" text-anchor="middle">5</text>
<line x1="38.50" y1="461.30" x2="160.30" y2="461.30" stroke="#1c1c1c" stroke-width="1.0" />
<line x1="51.50" y1="461.30" x2="51.50" y2="463.70" stroke="#1c1c1c" stroke-width="0.8" />
<text x="51.50" y="472.38" font-size="6.6" fill="#262626" stroke="#262626" stroke-width="0.2" text-anchor="middle" textLength="3.30" lengthAdjust="spacingAndGlyphs">0</text>
<line x1="70.61" y1="461.30" x2="70.61" y2="463.70" stroke="#1c1c1c" stroke-width="0.8" />
<text x="70.61" y="472.38" font-size="6.6" fill="#262626" stroke="#262626" stroke-width="0.2" text-anchor="middle" textLength="3.30" lengthAdjust="spacingAndGlyphs">3</text>
<line x1="89.72" y1="461.30" x2="89.72" y2="463.70" stroke="#1c1c1c" stroke-width="0.8" />
<text x="89.72" y="472.38" font-size="6.6" fill="#262626" stroke="#262626" stroke-width="0.2" text-anchor="middle" textLength="3.30" lengthAdjust="spacingAndGlyphs">6</text>
<line x1="108.83" y1="461.30" x2="108.83" y2="463.70" stroke="#1c1c1c" stroke-width="0.8" />
<text x="108.83" y="472.38" font-size="6.6" fill="#262626" stroke="#262626" stroke-width="0.2" text-anchor="middle" textLength="3.30" lengthAdjust="spacingAndGlyphs">9</text>
<line x1="127.94" y1="461.30" x2="127.94" y2="463.70" stroke="#1c1c1c" stroke-width="0.8" />
<text x="127.94" y="472.38" font-size="6.6" fill="#262626" stroke="#262626" stroke-width="0.2" text-anchor="middle" textLength="6.61" lengthAdjust="spacingAndGlyphs">12</text>
<line x1="147.05" y1="461.30" x2="147.05" y2="463.70" stroke="#1c1c1c" stroke-width="0.8" />
<text x="147.05" y="472.38" font-size="6.6" fill="#262626" stroke="#262626" stroke-width="0.2" text-anchor="middle" textLength="6.61" lengthAdjust="spacingAndGlyphs">15</text>
<text x="100.00" y="484.15" font-size="8.2" fill="#2a2a2a" stroke="#2a2a2a" stroke-width="0.2" font-weight="bold" text-anchor="middle" textLength="52.40" lengthAdjust="spacingAndGlyphs">Days after treatment</text>
<text transform="translate(11.80,420.00) rotate(-90)" x="0" y="2.45" font-size="6.8" fill="#2a2a2a" stroke="#2a2a2a" stroke-width="0.2" font-weight="bold" text-anchor="middle" textLength="43.00" lengthAdjust="spacingAndGlyphs">Bioluminescence</text>
<text transform="translate(20.80,420.00) rotate(-90)" x="0" y="2.45" font-size="6.8" fill="#2a2a2a" font-weight="bold" text-anchor="middle" textLength="72.4" lengthAdjust="spacingAndGlyphs"><tspan>10</tspan><tspan font-size="4.42" dy="-2.58">8</tspan><tspan dy="2.58"> radiance (p/sec/cm</tspan><tspan font-size="4.42" dy="-2.58">2</tspan><tspan dy="2.58">/sr)</tspan></text>
<line x1="70.61" y1="457.50" x2="70.61" y2="459.00" stroke="#f0a22c" stroke-width="0.7" />
<line x1="69.41" y1="457.50" x2="71.81" y2="457.50" stroke="#f0a22c" stroke-width="0.7" />
<line x1="69.41" y1="459.00" x2="71.81" y2="459.00" stroke="#f0a22c" stroke-width="0.7" />
<line x1="89.72" y1="456.50" x2="89.72" y2="458.20" stroke="#f0a22c" stroke-width="0.7" />
<line x1="88.52" y1="456.50" x2="90.92" y2="456.50" stroke="#f0a22c" stroke-width="0.7" />
<line x1="88.52" y1="458.20" x2="90.92" y2="458.20" stroke="#f0a22c" stroke-width="0.7" />
<line x1="108.83" y1="455.70" x2="108.83" y2="457.30" stroke="#f0a22c" stroke-width="0.7" />
<line x1="107.63" y1="455.70" x2="110.03" y2="455.70" stroke="#f0a22c" stroke-width="0.7" />
<line x1="107.63" y1="457.30" x2="110.03" y2="457.30" stroke="#f0a22c" stroke-width="0.7" />
<line x1="127.94" y1="454.80" x2="127.94" y2="456.60" stroke="#f0a22c" stroke-width="0.7" />
<line x1="126.74" y1="454.80" x2="129.14" y2="454.80" stroke="#f0a22c" stroke-width="0.7" />
<line x1="126.74" y1="456.60" x2="129.14" y2="456.60" stroke="#f0a22c" stroke-width="0.7" />
<line x1="147.05" y1="454.20" x2="147.05" y2="456.00" stroke="#f0a22c" stroke-width="0.7" />
<line x1="145.85" y1="454.20" x2="148.25" y2="454.20" stroke="#f0a22c" stroke-width="0.7" />
<line x1="145.85" y1="456.00" x2="148.25" y2="456.00" stroke="#f0a22c" stroke-width="0.7" />
<polyline points="51.50,461.30 70.61,458.30 89.72,457.30 108.83,456.50 127.94,455.70 147.05,455.10" fill="none" stroke="#f0a22c" stroke-width="1.0" stroke-linejoin="round" />
<circle cx="70.61" cy="458.30" r="1.0" fill="#f0a22c"/>
<circle cx="89.72" cy="457.30" r="1.0" fill="#f0a22c"/>
<circle cx="108.83" cy="456.50" r="1.0" fill="#f0a22c"/>
<circle cx="127.94" cy="455.70" r="1.0" fill="#f0a22c"/>
<circle cx="147.05" cy="455.10" r="1.0" fill="#f0a22c"/>
<line x1="70.61" y1="457.00" x2="70.61" y2="458.60" stroke="#1d5a4c" stroke-width="0.7" />
<line x1="69.41" y1="457.00" x2="71.81" y2="457.00" stroke="#1d5a4c" stroke-width="0.7" />
<line x1="69.41" y1="458.60" x2="71.81" y2="458.60" stroke="#1d5a4c" stroke-width="0.7" />
<line x1="89.72" y1="455.00" x2="89.72" y2="457.20" stroke="#1d5a4c" stroke-width="0.7" />
<line x1="88.52" y1="455.00" x2="90.92" y2="455.00" stroke="#1d5a4c" stroke-width="0.7" />
<line x1="88.52" y1="457.20" x2="90.92" y2="457.20" stroke="#1d5a4c" stroke-width="0.7" />
<line x1="108.83" y1="453.20" x2="108.83" y2="456.00" stroke="#1d5a4c" stroke-width="0.7" />
<line x1="107.63" y1="453.20" x2="110.03" y2="453.20" stroke="#1d5a4c" stroke-width="0.7" />
<line x1="107.63" y1="456.00" x2="110.03" y2="456.00" stroke="#1d5a4c" stroke-width="0.7" />
<line x1="127.94" y1="449.60" x2="127.94" y2="452.60" stroke="#1d5a4c" stroke-width="0.7" />
<line x1="126.74" y1="449.60" x2="129.14" y2="449.60" stroke="#1d5a4c" stroke-width="0.7" />
<line x1="126.74" y1="452.60" x2="129.14" y2="452.60" stroke="#1d5a4c" stroke-width="0.7" />
<line x1="147.05" y1="446.40" x2="147.05" y2="449.60" stroke="#1d5a4c" stroke-width="0.7" />
<line x1="145.85" y1="446.40" x2="148.25" y2="446.40" stroke="#1d5a4c" stroke-width="0.7" />
<line x1="145.85" y1="449.60" x2="148.25" y2="449.60" stroke="#1d5a4c" stroke-width="0.7" />
<polyline points="51.50,461.30 70.61,457.80 89.72,456.10 108.83,454.60 127.94,451.10 147.05,448.00" fill="none" stroke="#1d5a4c" stroke-width="1.0" stroke-linejoin="round" />
<circle cx="70.61" cy="457.80" r="1.0" fill="#1d5a4c"/>
<circle cx="89.72" cy="456.10" r="1.0" fill="#1d5a4c"/>
<circle cx="108.83" cy="454.60" r="1.0" fill="#1d5a4c"/>
<circle cx="127.94" cy="451.10" r="1.0" fill="#1d5a4c"/>
<circle cx="147.05" cy="448.00" r="1.0" fill="#1d5a4c"/>
<line x1="70.61" y1="456.00" x2="70.61" y2="458.60" stroke="#44b2da" stroke-width="0.7" />
<line x1="69.41" y1="456.00" x2="71.81" y2="456.00" stroke="#44b2da" stroke-width="0.7" />
<line x1="69.41" y1="458.60" x2="71.81" y2="458.60" stroke="#44b2da" stroke-width="0.7" />
<line x1="89.72" y1="452.00" x2="89.72" y2="455.80" stroke="#44b2da" stroke-width="0.7" />
<line x1="88.52" y1="452.00" x2="90.92" y2="452.00" stroke="#44b2da" stroke-width="0.7" />
<line x1="88.52" y1="455.80" x2="90.92" y2="455.80" stroke="#44b2da" stroke-width="0.7" />
<line x1="108.83" y1="446.30" x2="108.83" y2="451.30" stroke="#44b2da" stroke-width="0.7" />
<line x1="107.63" y1="446.30" x2="110.03" y2="446.30" stroke="#44b2da" stroke-width="0.7" />
<line x1="107.63" y1="451.30" x2="110.03" y2="451.30" stroke="#44b2da" stroke-width="0.7" />
<line x1="127.94" y1="439.90" x2="127.94" y2="446.90" stroke="#44b2da" stroke-width="0.7" />
<line x1="126.74" y1="439.90" x2="129.14" y2="439.90" stroke="#44b2da" stroke-width="0.7" />
<line x1="126.74" y1="446.90" x2="129.14" y2="446.90" stroke="#44b2da" stroke-width="0.7" />
<line x1="147.05" y1="430.80" x2="147.05" y2="443.00" stroke="#44b2da" stroke-width="0.7" />
<line x1="145.85" y1="430.80" x2="148.25" y2="430.80" stroke="#44b2da" stroke-width="0.7" />
<line x1="145.85" y1="443.00" x2="148.25" y2="443.00" stroke="#44b2da" stroke-width="0.7" />
<polyline points="51.50,461.30 70.61,457.30 89.72,453.90 108.83,448.80 127.94,443.40 147.05,436.90" fill="none" stroke="#44b2da" stroke-width="1.0" stroke-linejoin="round" />
<circle cx="70.61" cy="457.30" r="1.0" fill="#44b2da"/>
<circle cx="89.72" cy="453.90" r="1.0" fill="#44b2da"/>
<circle cx="108.83" cy="448.80" r="1.0" fill="#44b2da"/>
<circle cx="127.94" cy="443.40" r="1.0" fill="#44b2da"/>
<circle cx="147.05" cy="436.90" r="1.0" fill="#44b2da"/>
<line x1="70.61" y1="455.80" x2="70.61" y2="458.20" stroke="#4aa83c" stroke-width="0.7" />
<line x1="69.41" y1="455.80" x2="71.81" y2="455.80" stroke="#4aa83c" stroke-width="0.7" />
<line x1="69.41" y1="458.20" x2="71.81" y2="458.20" stroke="#4aa83c" stroke-width="0.7" />
<line x1="89.72" y1="447.60" x2="89.72" y2="451.60" stroke="#4aa83c" stroke-width="0.7" />
<line x1="88.52" y1="447.60" x2="90.92" y2="447.60" stroke="#4aa83c" stroke-width="0.7" />
<line x1="88.52" y1="451.60" x2="90.92" y2="451.60" stroke="#4aa83c" stroke-width="0.7" />
<line x1="108.83" y1="437.60" x2="108.83" y2="445.60" stroke="#4aa83c" stroke-width="0.7" />
<line x1="107.63" y1="437.60" x2="110.03" y2="437.60" stroke="#4aa83c" stroke-width="0.7" />
<line x1="107.63" y1="445.60" x2="110.03" y2="445.60" stroke="#4aa83c" stroke-width="0.7" />
<line x1="127.94" y1="426.50" x2="127.94" y2="436.50" stroke="#4aa83c" stroke-width="0.7" />
<line x1="126.74" y1="426.50" x2="129.14" y2="426.50" stroke="#4aa83c" stroke-width="0.7" />
<line x1="126.74" y1="436.50" x2="129.14" y2="436.50" stroke="#4aa83c" stroke-width="0.7" />
<line x1="147.05" y1="412.90" x2="147.05" y2="420.90" stroke="#4aa83c" stroke-width="0.7" />
<line x1="145.85" y1="412.90" x2="148.25" y2="412.90" stroke="#4aa83c" stroke-width="0.7" />
<line x1="145.85" y1="420.90" x2="148.25" y2="420.90" stroke="#4aa83c" stroke-width="0.7" />
<polyline points="51.50,461.30 70.61,457.00 89.72,449.60 108.83,441.60 127.94,431.50 147.05,416.90" fill="none" stroke="#4aa83c" stroke-width="1.0" stroke-linejoin="round" />
<circle cx="70.61" cy="457.00" r="1.0" fill="#4aa83c"/>
<circle cx="89.72" cy="449.60" r="1.0" fill="#4aa83c"/>
<circle cx="108.83" cy="441.60" r="1.0" fill="#4aa83c"/>
<circle cx="127.94" cy="431.50" r="1.0" fill="#4aa83c"/>
<circle cx="147.05" cy="416.90" r="1.0" fill="#4aa83c"/>
<line x1="70.61" y1="454.50" x2="70.61" y2="457.10" stroke="#234a7c" stroke-width="0.7" />
<line x1="69.41" y1="454.50" x2="71.81" y2="454.50" stroke="#234a7c" stroke-width="0.7" />
<line x1="69.41" y1="457.10" x2="71.81" y2="457.10" stroke="#234a7c" stroke-width="0.7" />
<line x1="89.72" y1="446.10" x2="89.72" y2="450.10" stroke="#234a7c" stroke-width="0.7" />
<line x1="88.52" y1="446.10" x2="90.92" y2="446.10" stroke="#234a7c" stroke-width="0.7" />
<line x1="88.52" y1="450.10" x2="90.92" y2="450.10" stroke="#234a7c" stroke-width="0.7" />
<line x1="108.83" y1="426.30" x2="108.83" y2="438.30" stroke="#234a7c" stroke-width="0.7" />
<line x1="107.63" y1="426.30" x2="110.03" y2="426.30" stroke="#234a7c" stroke-width="0.7" />
<line x1="107.63" y1="438.30" x2="110.03" y2="438.30" stroke="#234a7c" stroke-width="0.7" />
<line x1="127.94" y1="413.70" x2="127.94" y2="425.70" stroke="#234a7c" stroke-width="0.7" />
<line x1="126.74" y1="413.70" x2="129.14" y2="413.70" stroke="#234a7c" stroke-width="0.7" />
<line x1="126.74" y1="425.70" x2="129.14" y2="425.70" stroke="#234a7c" stroke-width="0.7" />
<line x1="147.05" y1="407.20" x2="147.05" y2="415.20" stroke="#234a7c" stroke-width="0.7" />
<line x1="145.85" y1="407.20" x2="148.25" y2="407.20" stroke="#234a7c" stroke-width="0.7" />
<line x1="145.85" y1="415.20" x2="148.25" y2="415.20" stroke="#234a7c" stroke-width="0.7" />
<polyline points="51.50,461.30 70.61,455.80 89.72,448.10 108.83,432.30 127.94,419.70 147.05,411.20" fill="none" stroke="#234a7c" stroke-width="1.0" stroke-linejoin="round" />
<circle cx="70.61" cy="455.80" r="1.0" fill="#234a7c"/>
<circle cx="89.72" cy="448.10" r="1.0" fill="#234a7c"/>
<circle cx="108.83" cy="432.30" r="1.0" fill="#234a7c"/>
<circle cx="127.94" cy="419.70" r="1.0" fill="#234a7c"/>
<circle cx="147.05" cy="411.20" r="1.0" fill="#234a7c"/>
<line x1="70.61" y1="452.30" x2="70.61" y2="457.30" stroke="#c01a45" stroke-width="0.7" />
<line x1="69.41" y1="452.30" x2="71.81" y2="452.30" stroke="#c01a45" stroke-width="0.7" />
<line x1="69.41" y1="457.30" x2="71.81" y2="457.30" stroke="#c01a45" stroke-width="0.7" />
<line x1="89.72" y1="442.60" x2="89.72" y2="447.00" stroke="#c01a45" stroke-width="0.7" />
<line x1="88.52" y1="442.60" x2="90.92" y2="442.60" stroke="#c01a45" stroke-width="0.7" />
<line x1="88.52" y1="447.00" x2="90.92" y2="447.00" stroke="#c01a45" stroke-width="0.7" />
<line x1="108.83" y1="424.60" x2="108.83" y2="435.40" stroke="#c01a45" stroke-width="0.7" />
<line x1="107.63" y1="424.60" x2="110.03" y2="424.60" stroke="#c01a45" stroke-width="0.7" />
<line x1="107.63" y1="435.40" x2="110.03" y2="435.40" stroke="#c01a45" stroke-width="0.7" />
<line x1="127.94" y1="406.50" x2="127.94" y2="418.50" stroke="#c01a45" stroke-width="0.7" />
<line x1="126.74" y1="406.50" x2="129.14" y2="406.50" stroke="#c01a45" stroke-width="0.7" />
<line x1="126.74" y1="418.50" x2="129.14" y2="418.50" stroke="#c01a45" stroke-width="0.7" />
<line x1="147.05" y1="391.00" x2="147.05" y2="414.60" stroke="#c01a45" stroke-width="0.7" />
<line x1="145.85" y1="391.00" x2="148.25" y2="391.00" stroke="#c01a45" stroke-width="0.7" />
<line x1="145.85" y1="414.60" x2="148.25" y2="414.60" stroke="#c01a45" stroke-width="0.7" />
<polyline points="51.50,461.30 70.61,454.30 89.72,444.80 108.83,430.60 127.94,412.60 147.05,403.00" fill="none" stroke="#c01a45" stroke-width="1.0" stroke-linejoin="round" />
<circle cx="70.61" cy="454.30" r="1.0" fill="#c01a45"/>
<circle cx="89.72" cy="444.80" r="1.0" fill="#c01a45"/>
<circle cx="108.83" cy="430.60" r="1.0" fill="#c01a45"/>
<circle cx="127.94" cy="412.60" r="1.0" fill="#c01a45"/>
<circle cx="147.05" cy="403.00" r="1.0" fill="#c01a45"/>
<line x1="175.30" y1="394.50" x2="183.50" y2="394.50" stroke="#c01a45" stroke-width="1.0" />
<circle cx="179.40" cy="394.50" r="0.9" fill="#c01a45"/>
<text x="186.80" y="396.84" font-size="6.5" fill="#262626" stroke="#262626" stroke-width="0.2" textLength="11.97" lengthAdjust="spacingAndGlyphs">PBS</text>
<line x1="175.30" y1="404.90" x2="183.50" y2="404.90" stroke="#234a7c" stroke-width="1.0" />
<circle cx="179.40" cy="404.90" r="0.9" fill="#234a7c"/>
<text x="186.80" y="407.24" font-size="6.5" fill="#262626" stroke="#262626" stroke-width="0.2" textLength="20.60" lengthAdjust="spacingAndGlyphs">PC-Exo</text>
<line x1="175.30" y1="414.80" x2="183.50" y2="414.80" stroke="#4aa83c" stroke-width="1.0" />
<circle cx="179.40" cy="414.80" r="0.9" fill="#4aa83c"/>
<text x="186.80" y="417.14" font-size="6.5" fill="#262626" stroke="#262626" stroke-width="0.2" textLength="52.17" lengthAdjust="spacingAndGlyphs">PC-Anti-BCMA-Exo</text>
<line x1="175.30" y1="424.40" x2="183.50" y2="424.40" stroke="#44b2da" stroke-width="1.0" />
<circle cx="179.40" cy="424.40" r="0.9" fill="#44b2da"/>
<text x="186.80" y="426.74" font-size="6.5" fill="#262626" stroke="#262626" stroke-width="0.2" textLength="8.64" lengthAdjust="spacingAndGlyphs">Btz</text>
<line x1="175.30" y1="434.30" x2="183.50" y2="434.30" stroke="#1d5a4c" stroke-width="1.0" />
<circle cx="179.40" cy="434.30" r="0.9" fill="#1d5a4c"/>
<text x="186.80" y="436.64" font-size="6.5" fill="#262626" stroke="#262626" stroke-width="0.2" textLength="31.23" lengthAdjust="spacingAndGlyphs">PC-Exo-Btz</text>
<line x1="175.30" y1="443.80" x2="183.50" y2="443.80" stroke="#f0a22c" stroke-width="1.0" />
<circle cx="179.40" cy="443.80" r="0.9" fill="#f0a22c"/>
<text x="186.80" y="446.14" font-size="6.5" fill="#262626" stroke="#262626" stroke-width="0.2" textLength="63.20" lengthAdjust="spacingAndGlyphs">PC-Anti-BCMA-Exo-Btz</text>
<circle cx="152.10" cy="410.50" r="0.62" fill="#222"/>
<circle cx="152.10" cy="417.00" r="0.62" fill="#222"/>
<line x1="156.60" y1="410.80" x2="156.60" y2="417.70" stroke="#555" stroke-width="0.6" />
<text x="157.70" y="416.18" font-size="5.5" fill="#333" stroke="#333" stroke-width="0.2" textLength="7.70" lengthAdjust="spacingAndGlyphs">n.s</text>
<circle cx="152.30" cy="438.20" r="0.62" fill="#222"/>
<circle cx="154.50" cy="438.20" r="0.62" fill="#222"/>
<circle cx="156.70" cy="438.20" r="0.62" fill="#222"/>
<circle cx="152.30" cy="447.20" r="0.62" fill="#222"/>
<circle cx="154.50" cy="447.20" r="0.62" fill="#222"/>
<circle cx="156.70" cy="447.20" r="0.62" fill="#222"/>
<circle cx="152.10" cy="455.10" r="0.62" fill="#222"/>
<circle cx="154.30" cy="455.10" r="0.62" fill="#222"/>
<circle cx="156.50" cy="455.10" r="0.62" fill="#222"/>
<circle cx="158.70" cy="455.10" r="0.62" fill="#222"/>
<line x1="159.20" y1="436.20" x2="159.20" y2="446.20" stroke="#555" stroke-width="0.6" />
<circle cx="163.10" cy="440.00" r="0.62" fill="#222"/>
<circle cx="165.30" cy="440.00" r="0.62" fill="#222"/>
<line x1="161.20" y1="448.50" x2="161.20" y2="456.20" stroke="#555" stroke-width="0.6" />
<circle cx="164.10" cy="452.00" r="0.62" fill="#222"/>
<circle cx="166.30" cy="452.00" r="0.62" fill="#222"/>
<circle cx="168.50" cy="452.00" r="0.62" fill="#222"/>
<line x1="296.50" y1="377.70" x2="296.50" y2="461.40" stroke="#1c1c1c" stroke-width="1.0" />
<line x1="293.90" y1="461.00" x2="296.50" y2="461.00" stroke="#1c1c1c" stroke-width="0.8" />
<text x="290.20" y="463.38" font-size="6.6" fill="#262626" stroke="#262626" stroke-width="0.2" text-anchor="middle">0</text>
<line x1="293.90" y1="444.80" x2="296.50" y2="444.80" stroke="#1c1c1c" stroke-width="0.8" />
<text x="290.20" y="447.18" font-size="6.6" fill="#262626" stroke="#262626" stroke-width="0.2" text-anchor="middle">1</text>
<line x1="293.90" y1="428.60" x2="296.50" y2="428.60" stroke="#1c1c1c" stroke-width="0.8" />
<text x="290.20" y="430.98" font-size="6.6" fill="#262626" stroke="#262626" stroke-width="0.2" text-anchor="middle">2</text>
<line x1="293.90" y1="412.40" x2="296.50" y2="412.40" stroke="#1c1c1c" stroke-width="0.8" />
<text x="290.20" y="414.78" font-size="6.6" fill="#262626" stroke="#262626" stroke-width="0.2" text-anchor="middle">3</text>
<line x1="293.90" y1="396.20" x2="296.50" y2="396.20" stroke="#1c1c1c" stroke-width="0.8" />
<text x="290.20" y="398.58" font-size="6.6" fill="#262626" stroke="#262626" stroke-width="0.2" text-anchor="middle">4</text>
<line x1="293.90" y1="380.00" x2="296.50" y2="380.00" stroke="#1c1c1c" stroke-width="0.8" />
<text x="290.20" y="382.38" font-size="6.6" fill="#262626" stroke="#262626" stroke-width="0.2" text-anchor="middle">5</text>
<line x1="296.50" y1="461.00" x2="414.60" y2="461.00" stroke="#1c1c1c" stroke-width="1.0" />
<line x1="309.30" y1="461.00" x2="309.30" y2="463.40" stroke="#1c1c1c" stroke-width="0.8" />
<text x="309.30" y="472.38" font-size="6.6" fill="#262626" stroke="#262626" stroke-width="0.2" text-anchor="middle" textLength="3.30" lengthAdjust="spacingAndGlyphs">0</text>
<line x1="327.81" y1="461.00" x2="327.81" y2="463.40" stroke="#1c1c1c" stroke-width="0.8" />
<text x="327.81" y="472.38" font-size="6.6" fill="#262626" stroke="#262626" stroke-width="0.2" text-anchor="middle" textLength="3.30" lengthAdjust="spacingAndGlyphs">3</text>
<line x1="346.32" y1="461.00" x2="346.32" y2="463.40" stroke="#1c1c1c" stroke-width="0.8" />
<text x="346.32" y="472.38" font-size="6.6" fill="#262626" stroke="#262626" stroke-width="0.2" text-anchor="middle" textLength="3.30" lengthAdjust="spacingAndGlyphs">6</text>
<line x1="364.83" y1="461.00" x2="364.83" y2="463.40" stroke="#1c1c1c" stroke-width="0.8" />
<text x="364.83" y="472.38" font-size="6.6" fill="#262626" stroke="#262626" stroke-width="0.2" text-anchor="middle" textLength="3.30" lengthAdjust="spacingAndGlyphs">9</text>
<line x1="383.34" y1="461.00" x2="383.34" y2="463.40" stroke="#1c1c1c" stroke-width="0.8" />
<text x="383.34" y="472.38" font-size="6.6" fill="#262626" stroke="#262626" stroke-width="0.2" text-anchor="middle" textLength="6.61" lengthAdjust="spacingAndGlyphs">12</text>
<line x1="401.85" y1="461.00" x2="401.85" y2="463.40" stroke="#1c1c1c" stroke-width="0.8" />
<text x="401.85" y="472.38" font-size="6.6" fill="#262626" stroke="#262626" stroke-width="0.2" text-anchor="middle" textLength="6.61" lengthAdjust="spacingAndGlyphs">15</text>
<text x="356.90" y="484.15" font-size="8.2" fill="#2a2a2a" stroke="#2a2a2a" stroke-width="0.2" font-weight="bold" text-anchor="middle" textLength="52.40" lengthAdjust="spacingAndGlyphs">Days after treatment</text>
<text transform="translate(269.80,420.00) rotate(-90)" x="0" y="2.45" font-size="6.8" fill="#2a2a2a" stroke="#2a2a2a" stroke-width="0.2" font-weight="bold" text-anchor="middle" textLength="43.00" lengthAdjust="spacingAndGlyphs">Bioluminescence</text>
<text transform="translate(278.80,420.00) rotate(-90)" x="0" y="2.45" font-size="6.8" fill="#2a2a2a" font-weight="bold" text-anchor="middle" textLength="72.4" lengthAdjust="spacingAndGlyphs"><tspan>10</tspan><tspan font-size="4.42" dy="-2.58">8</tspan><tspan dy="2.58"> radiance (p/sec/cm</tspan><tspan font-size="4.42" dy="-2.58">2</tspan><tspan dy="2.58">/sr)</tspan></text>
<line x1="327.81" y1="458.20" x2="327.81" y2="459.80" stroke="#f0a22c" stroke-width="0.7" />
<line x1="326.61" y1="458.20" x2="329.01" y2="458.20" stroke="#f0a22c" stroke-width="0.7" />
<line x1="326.61" y1="459.80" x2="329.01" y2="459.80" stroke="#f0a22c" stroke-width="0.7" />
<line x1="346.32" y1="457.90" x2="346.32" y2="459.50" stroke="#f0a22c" stroke-width="0.7" />
<line x1="345.12" y1="457.90" x2="347.52" y2="457.90" stroke="#f0a22c" stroke-width="0.7" />
<line x1="345.12" y1="459.50" x2="347.52" y2="459.50" stroke="#f0a22c" stroke-width="0.7" />
<line x1="364.83" y1="457.20" x2="364.83" y2="458.80" stroke="#f0a22c" stroke-width="0.7" />
<line x1="363.63" y1="457.20" x2="366.03" y2="457.20" stroke="#f0a22c" stroke-width="0.7" />
<line x1="363.63" y1="458.80" x2="366.03" y2="458.80" stroke="#f0a22c" stroke-width="0.7" />
<line x1="383.34" y1="456.50" x2="383.34" y2="458.10" stroke="#f0a22c" stroke-width="0.7" />
<line x1="382.14" y1="456.50" x2="384.54" y2="456.50" stroke="#f0a22c" stroke-width="0.7" />
<line x1="382.14" y1="458.10" x2="384.54" y2="458.10" stroke="#f0a22c" stroke-width="0.7" />
<line x1="401.85" y1="455.60" x2="401.85" y2="457.60" stroke="#f0a22c" stroke-width="0.7" />
<line x1="400.65" y1="455.60" x2="403.05" y2="455.60" stroke="#f0a22c" stroke-width="0.7" />
<line x1="400.65" y1="457.60" x2="403.05" y2="457.60" stroke="#f0a22c" stroke-width="0.7" />
<polyline points="309.30,461.00 327.81,459.00 346.32,458.70 364.83,458.00 383.34,457.30 401.85,456.60" fill="none" stroke="#f0a22c" stroke-width="1.0" stroke-linejoin="round" />
<circle cx="327.81" cy="459.00" r="1.0" fill="#f0a22c"/>
<circle cx="346.32" cy="458.70" r="1.0" fill="#f0a22c"/>
<circle cx="364.83" cy="458.00" r="1.0" fill="#f0a22c"/>
<circle cx="383.34" cy="457.30" r="1.0" fill="#f0a22c"/>
<circle cx="401.85" cy="456.60" r="1.0" fill="#f0a22c"/>
<line x1="327.81" y1="455.70" x2="327.81" y2="458.30" stroke="#44b2da" stroke-width="0.7" />
<line x1="326.61" y1="455.70" x2="329.01" y2="455.70" stroke="#44b2da" stroke-width="0.7" />
<line x1="326.61" y1="458.30" x2="329.01" y2="458.30" stroke="#44b2da" stroke-width="0.7" />
<line x1="346.32" y1="451.10" x2="346.32" y2="454.70" stroke="#44b2da" stroke-width="0.7" />
<line x1="345.12" y1="451.10" x2="347.52" y2="451.10" stroke="#44b2da" stroke-width="0.7" />
<line x1="345.12" y1="454.70" x2="347.52" y2="454.70" stroke="#44b2da" stroke-width="0.7" />
<line x1="364.83" y1="446.50" x2="364.83" y2="450.50" stroke="#44b2da" stroke-width="0.7" />
<line x1="363.63" y1="446.50" x2="366.03" y2="446.50" stroke="#44b2da" stroke-width="0.7" />
<line x1="363.63" y1="450.50" x2="366.03" y2="450.50" stroke="#44b2da" stroke-width="0.7" />
<line x1="383.34" y1="440.20" x2="383.34" y2="448.20" stroke="#44b2da" stroke-width="0.7" />
<line x1="382.14" y1="440.20" x2="384.54" y2="440.20" stroke="#44b2da" stroke-width="0.7" />
<line x1="382.14" y1="448.20" x2="384.54" y2="448.20" stroke="#44b2da" stroke-width="0.7" />
<line x1="401.85" y1="430.40" x2="401.85" y2="442.40" stroke="#44b2da" stroke-width="0.7" />
<line x1="400.65" y1="430.40" x2="403.05" y2="430.40" stroke="#44b2da" stroke-width="0.7" />
<line x1="400.65" y1="442.40" x2="403.05" y2="442.40" stroke="#44b2da" stroke-width="0.7" />
<polyline points="309.30,461.00 327.81,457.00 346.32,452.90 364.83,448.50 383.34,444.20 401.85,436.40" fill="none" stroke="#44b2da" stroke-width="1.0" stroke-linejoin="round" />
<circle cx="327.81" cy="457.00" r="1.0" fill="#44b2da"/>
<circle cx="346.32" cy="452.90" r="1.0" fill="#44b2da"/>
<circle cx="364.83" cy="448.50" r="1.0" fill="#44b2da"/>
<circle cx="383.34" cy="444.20" r="1.0" fill="#44b2da"/>
<circle cx="401.85" cy="436.40" r="1.0" fill="#44b2da"/>
<line x1="327.81" y1="454.50" x2="327.81" y2="457.10" stroke="#5a2a78" stroke-width="0.7" />
<line x1="326.61" y1="454.50" x2="329.01" y2="454.50" stroke="#5a2a78" stroke-width="0.7" />
<line x1="326.61" y1="457.10" x2="329.01" y2="457.10" stroke="#5a2a78" stroke-width="0.7" />
<line x1="346.32" y1="446.50" x2="346.32" y2="450.50" stroke="#5a2a78" stroke-width="0.7" />
<line x1="345.12" y1="446.50" x2="347.52" y2="446.50" stroke="#5a2a78" stroke-width="0.7" />
<line x1="345.12" y1="450.50" x2="347.52" y2="450.50" stroke="#5a2a78" stroke-width="0.7" />
<line x1="364.83" y1="440.10" x2="364.83" y2="447.10" stroke="#5a2a78" stroke-width="0.7" />
<line x1="363.63" y1="440.10" x2="366.03" y2="440.10" stroke="#5a2a78" stroke-width="0.7" />
<line x1="363.63" y1="447.10" x2="366.03" y2="447.10" stroke="#5a2a78" stroke-width="0.7" />
<line x1="383.34" y1="425.70" x2="383.34" y2="439.70" stroke="#5a2a78" stroke-width="0.7" />
<line x1="382.14" y1="425.70" x2="384.54" y2="425.70" stroke="#5a2a78" stroke-width="0.7" />
<line x1="382.14" y1="439.70" x2="384.54" y2="439.70" stroke="#5a2a78" stroke-width="0.7" />
<line x1="401.85" y1="414.10" x2="401.85" y2="428.10" stroke="#5a2a78" stroke-width="0.7" />
<line x1="400.65" y1="414.10" x2="403.05" y2="414.10" stroke="#5a2a78" stroke-width="0.7" />
<line x1="400.65" y1="428.10" x2="403.05" y2="428.10" stroke="#5a2a78" stroke-width="0.7" />
<polyline points="309.30,461.00 327.81,455.80 346.32,448.50 364.83,443.60 383.34,432.70 401.85,421.10" fill="none" stroke="#5a2a78" stroke-width="1.0" stroke-linejoin="round" />
<circle cx="327.81" cy="455.80" r="1.0" fill="#5a2a78"/>
<circle cx="346.32" cy="448.50" r="1.0" fill="#5a2a78"/>
<circle cx="364.83" cy="443.60" r="1.0" fill="#5a2a78"/>
<circle cx="383.34" cy="432.70" r="1.0" fill="#5a2a78"/>
<circle cx="401.85" cy="421.10" r="1.0" fill="#5a2a78"/>
<line x1="327.81" y1="451.50" x2="327.81" y2="455.50" stroke="#c01a45" stroke-width="0.7" />
<line x1="326.61" y1="451.50" x2="329.01" y2="451.50" stroke="#c01a45" stroke-width="0.7" />
<line x1="326.61" y1="455.50" x2="329.01" y2="455.50" stroke="#c01a45" stroke-width="0.7" />
<line x1="346.32" y1="443.10" x2="346.32" y2="447.10" stroke="#c01a45" stroke-width="0.7" />
<line x1="345.12" y1="443.10" x2="347.52" y2="443.10" stroke="#c01a45" stroke-width="0.7" />
<line x1="345.12" y1="447.10" x2="347.52" y2="447.10" stroke="#c01a45" stroke-width="0.7" />
<line x1="364.83" y1="424.40" x2="364.83" y2="436.40" stroke="#c01a45" stroke-width="0.7" />
<line x1="363.63" y1="424.40" x2="366.03" y2="424.40" stroke="#c01a45" stroke-width="0.7" />
<line x1="363.63" y1="436.40" x2="366.03" y2="436.40" stroke="#c01a45" stroke-width="0.7" />
<line x1="383.34" y1="406.50" x2="383.34" y2="418.50" stroke="#c01a45" stroke-width="0.7" />
<line x1="382.14" y1="406.50" x2="384.54" y2="406.50" stroke="#c01a45" stroke-width="0.7" />
<line x1="382.14" y1="418.50" x2="384.54" y2="418.50" stroke="#c01a45" stroke-width="0.7" />
<line x1="401.85" y1="390.90" x2="401.85" y2="413.90" stroke="#c01a45" stroke-width="0.7" />
<line x1="400.65" y1="390.90" x2="403.05" y2="390.90" stroke="#c01a45" stroke-width="0.7" />
<line x1="400.65" y1="413.90" x2="403.05" y2="413.90" stroke="#c01a45" stroke-width="0.7" />
<polyline points="309.30,461.00 327.81,453.50 346.32,445.10 364.83,430.40 383.34,412.50 401.85,402.40" fill="none" stroke="#c01a45" stroke-width="1.0" stroke-linejoin="round" />
<circle cx="327.81" cy="453.50" r="1.0" fill="#c01a45"/>
<circle cx="346.32" cy="445.10" r="1.0" fill="#c01a45"/>
<circle cx="364.83" cy="430.40" r="1.0" fill="#c01a45"/>
<circle cx="383.34" cy="412.50" r="1.0" fill="#c01a45"/>
<circle cx="401.85" cy="402.40" r="1.0" fill="#c01a45"/>
<line x1="430.60" y1="404.40" x2="438.80" y2="404.40" stroke="#c01a45" stroke-width="1.0" />
<circle cx="434.70" cy="404.40" r="0.9" fill="#c01a45"/>
<text x="441.70" y="406.74" font-size="6.5" fill="#262626" stroke="#262626" stroke-width="0.2" textLength="11.97" lengthAdjust="spacingAndGlyphs">PBS</text>
<line x1="430.60" y1="414.40" x2="438.80" y2="414.40" stroke="#5a2a78" stroke-width="1.0" />
<circle cx="434.70" cy="414.40" r="0.9" fill="#5a2a78"/>
<text x="441.70" y="416.74" font-size="6.5" fill="#262626" stroke="#262626" stroke-width="0.2" textLength="51.50" lengthAdjust="spacingAndGlyphs">CL-Anti-BCMA-Exo</text>
<line x1="430.60" y1="424.20" x2="438.80" y2="424.20" stroke="#44b2da" stroke-width="1.0" />
<circle cx="434.70" cy="424.20" r="0.9" fill="#44b2da"/>
<text x="441.70" y="426.54" font-size="6.5" fill="#262626" stroke="#262626" stroke-width="0.2" textLength="8.64" lengthAdjust="spacingAndGlyphs">Btz</text>
<line x1="430.60" y1="434.20" x2="438.80" y2="434.20" stroke="#f0a22c" stroke-width="1.0" />
<circle cx="434.70" cy="434.20" r="0.9" fill="#f0a22c"/>
<text x="441.70" y="436.54" font-size="6.5" fill="#262626" stroke="#262626" stroke-width="0.2" textLength="62.50" lengthAdjust="spacingAndGlyphs">CL-Anti-BCMA-Exo-Btz</text>
<circle cx="405.40" cy="421.10" r="0.62" fill="#222"/>
<circle cx="407.60" cy="421.10" r="0.62" fill="#222"/>
<circle cx="405.40" cy="436.40" r="0.62" fill="#222"/>
<circle cx="407.60" cy="436.40" r="0.62" fill="#222"/>
<circle cx="409.80" cy="436.40" r="0.62" fill="#222"/>
<circle cx="405.49" cy="456.60" r="0.62" fill="#222"/>
<circle cx="407.86" cy="456.60" r="0.62" fill="#222"/>
<circle cx="410.24" cy="456.60" r="0.62" fill="#222"/>
<circle cx="412.61" cy="456.60" r="0.62" fill="#222"/>
<line x1="413.40" y1="419.70" x2="413.40" y2="435.60" stroke="#555" stroke-width="0.6" />
<circle cx="417.60" cy="428.40" r="0.62" fill="#222"/>
<circle cx="419.80" cy="428.40" r="0.62" fill="#222"/>
<line x1="415.50" y1="437.00" x2="415.50" y2="456.60" stroke="#555" stroke-width="0.6" />
<circle cx="419.10" cy="445.70" r="0.62" fill="#222"/>
<circle cx="421.30" cy="445.70" r="0.62" fill="#222"/>
<circle cx="423.50" cy="445.70" r="0.62" fill="#222"/>
<line x1="38.40" y1="517.50" x2="38.40" y2="604.80" stroke="#1c1c1c" stroke-width="1.0" />
<line x1="37.00" y1="604.40" x2="38.40" y2="604.40" stroke="#1c1c1c" stroke-width="0.6" />
<line x1="37.00" y1="600.56" x2="38.40" y2="600.56" stroke="#1c1c1c" stroke-width="0.6" />
<line x1="37.00" y1="596.72" x2="38.40" y2="596.72" stroke="#1c1c1c" stroke-width="0.6" />
<line x1="37.00" y1="592.88" x2="38.40" y2="592.88" stroke="#1c1c1c" stroke-width="0.6" />
<line x1="37.00" y1="589.04" x2="38.40" y2="589.04" stroke="#1c1c1c" stroke-width="0.6" />
<line x1="37.00" y1="585.20" x2="38.40" y2="585.20" stroke="#1c1c1c" stroke-width="0.6" />
<line x1="37.00" y1="581.36" x2="38.40" y2="581.36" stroke="#1c1c1c" stroke-width="0.6" />
<line x1="37.00" y1="577.52" x2="38.40" y2="577.52" stroke="#1c1c1c" stroke-width="0.6" />
<line x1="37.00" y1="573.68" x2="38.40" y2="573.68" stroke="#1c1c1c" stroke-width="0.6" />
<line x1="37.00" y1="569.84" x2="38.40" y2="569.84" stroke="#1c1c1c" stroke-width="0.6" />
<line x1="37.00" y1="566.00" x2="38.40" y2="566.00" stroke="#1c1c1c" stroke-width="0.6" />
<line x1="37.00" y1="562.16" x2="38.40" y2="562.16" stroke="#1c1c1c" stroke-width="0.6" />
<line x1="37.00" y1="558.32" x2="38.40" y2="558.32" stroke="#1c1c1c" stroke-width="0.6" />
<line x1="37.00" y1="554.48" x2="38.40" y2="554.48" stroke="#1c1c1c" stroke-width="0.6" />
<line x1="37.00" y1="550.64" x2="38.40" y2="550.64" stroke="#1c1c1c" stroke-width="0.6" />
<line x1="37.00" y1="546.80" x2="38.40" y2="546.80" stroke="#1c1c1c" stroke-width="0.6" />
<line x1="37.00" y1="542.96" x2="38.40" y2="542.96" stroke="#1c1c1c" stroke-width="0.6" />
<line x1="37.00" y1="539.12" x2="38.40" y2="539.12" stroke="#1c1c1c" stroke-width="0.6" />
<line x1="37.00" y1="535.28" x2="38.40" y2="535.28" stroke="#1c1c1c" stroke-width="0.6" />
<line x1="37.00" y1="531.44" x2="38.40" y2="531.44" stroke="#1c1c1c" stroke-width="0.6" />
<line x1="37.00" y1="527.60" x2="38.40" y2="527.60" stroke="#1c1c1c" stroke-width="0.6" />
<line x1="37.00" y1="523.76" x2="38.40" y2="523.76" stroke="#1c1c1c" stroke-width="0.6" />
<line x1="37.00" y1="519.92" x2="38.40" y2="519.92" stroke="#1c1c1c" stroke-width="0.6" />
<line x1="35.80" y1="604.40" x2="38.40" y2="604.40" stroke="#1c1c1c" stroke-width="0.8" />
<text x="33.60" y="606.78" font-size="6.6" fill="#262626" stroke="#262626" stroke-width="0.2" text-anchor="end" textLength="3.30" lengthAdjust="spacingAndGlyphs">0</text>
<line x1="35.80" y1="566.00" x2="38.40" y2="566.00" stroke="#1c1c1c" stroke-width="0.8" />
<text x="33.60" y="568.38" font-size="6.6" fill="#262626" stroke="#262626" stroke-width="0.2" text-anchor="end" textLength="6.61" lengthAdjust="spacingAndGlyphs">50</text>
<line x1="35.80" y1="527.60" x2="38.40" y2="527.60" stroke="#1c1c1c" stroke-width="0.8" />
<text x="33.60" y="529.98" font-size="6.6" fill="#262626" stroke="#262626" stroke-width="0.2" text-anchor="end" textLength="9.91" lengthAdjust="spacingAndGlyphs">100</text>
<line x1="38.40" y1="604.40" x2="168.80" y2="604.40" stroke="#1c1c1c" stroke-width="1.0" />
<line x1="38.40" y1="604.40" x2="38.40" y2="606.80" stroke="#1c1c1c" stroke-width="0.8" />
<text x="38.40" y="616.18" font-size="6.6" fill="#262626" stroke="#262626" stroke-width="0.2" text-anchor="middle" textLength="3.30" lengthAdjust="spacingAndGlyphs">0</text>
<line x1="70.10" y1="604.40" x2="70.10" y2="606.80" stroke="#1c1c1c" stroke-width="0.8" />
<text x="70.10" y="616.18" font-size="6.6" fill="#262626" stroke="#262626" stroke-width="0.2" text-anchor="middle" textLength="6.61" lengthAdjust="spacingAndGlyphs">20</text>
<line x1="101.80" y1="604.40" x2="101.80" y2="606.80" stroke="#1c1c1c" stroke-width="0.8" />
<text x="101.80" y="616.18" font-size="6.6" fill="#262626" stroke="#262626" stroke-width="0.2" text-anchor="middle" textLength="6.61" lengthAdjust="spacingAndGlyphs">40</text>
<line x1="133.50" y1="604.40" x2="133.50" y2="606.80" stroke="#1c1c1c" stroke-width="0.8" />
<text x="133.50" y="616.18" font-size="6.6" fill="#262626" stroke="#262626" stroke-width="0.2" text-anchor="middle" textLength="6.61" lengthAdjust="spacingAndGlyphs">60</text>
<line x1="165.20" y1="604.40" x2="165.20" y2="606.80" stroke="#1c1c1c" stroke-width="0.8" />
<text x="165.20" y="616.18" font-size="6.6" fill="#262626" stroke="#262626" stroke-width="0.2" text-anchor="middle" textLength="6.61" lengthAdjust="spacingAndGlyphs">80</text>
<text x="103.40" y="626.72" font-size="8.4" fill="#2a2a2a" stroke="#2a2a2a" stroke-width="0.2" font-weight="bold" text-anchor="middle" textLength="29.60" lengthAdjust="spacingAndGlyphs">Time (days)</text>
<text transform="translate(13.90,560.80) rotate(-90)" x="0" y="2.66" font-size="7.4" fill="#2a2a2a" stroke="#2a2a2a" stroke-width="0.2" font-weight="bold" text-anchor="middle" textLength="31.00" lengthAdjust="spacingAndGlyphs">Survival (%)</text>
<polyline points="38.40,527.60 134.20,527.60 134.20,558.32 143.70,558.32 143.70,573.68 148.10,573.68 148.10,589.04 155.30,589.04 155.30,604.40" fill="none" stroke="#f0a22c" stroke-width="1.0" stroke-linejoin="round" stroke-linejoin="miter" stroke-linecap="butt"/>
<polyline points="38.40,527.60 121.20,527.60 121.20,542.96 133.10,542.96 133.10,573.68 139.00,573.68 139.00,589.04 144.00,589.04 144.00,604.40" fill="none" stroke="#1d5a4c" stroke-width="1.0" stroke-linejoin="round" stroke-linejoin="miter" stroke-linecap="butt"/>
<polyline points="38.40,527.60 100.80,527.60 100.80,558.32 110.90,558.32 110.90,573.68 123.80,573.68 123.80,589.04 132.50,589.04 132.50,604.40" fill="none" stroke="#44b2da" stroke-width="1.0" stroke-linejoin="round" stroke-linejoin="miter" stroke-linecap="butt"/>
<polyline points="38.40,527.60 92.70,527.60 92.70,558.32 107.10,558.32 107.10,573.68 116.60,573.68 116.60,589.04 121.20,589.04 121.20,604.40" fill="none" stroke="#4aa83c" stroke-width="1.0" stroke-linejoin="round" stroke-linejoin="miter" stroke-linecap="butt"/>
<polyline points="38.40,527.60 78.70,527.60 78.70,542.96 94.20,542.96 94.20,573.68 101.90,573.68 101.90,589.04 105.60,589.04 105.60,604.40" fill="none" stroke="#234a7c" stroke-width="1.0" stroke-linejoin="round" stroke-linejoin="miter" stroke-linecap="butt"/>
<polyline points="38.40,527.60 76.30,527.60 76.30,542.96 79.60,542.96 79.60,558.32 88.30,558.32 88.30,573.68 92.70,573.68 92.70,589.04 96.00,589.04 96.00,604.40" fill="none" stroke="#c01a45" stroke-width="1.0" stroke-linejoin="round" stroke-linejoin="miter" stroke-linecap="butt"/>
<line x1="156.80" y1="535.60" x2="166.10" y2="535.60" stroke="#c01a45" stroke-width="1.0" />
<circle cx="161.40" cy="535.60" r="0.8" fill="#c01a45"/>
<text x="169.50" y="537.94" font-size="6.5" fill="#262626" stroke="#262626" stroke-width="0.2" textLength="11.97" lengthAdjust="spacingAndGlyphs">PBS</text>
<line x1="156.80" y1="545.70" x2="166.10" y2="545.70" stroke="#234a7c" stroke-width="1.0" />
<circle cx="161.40" cy="545.70" r="0.8" fill="#234a7c"/>
<text x="169.50" y="548.04" font-size="6.5" fill="#262626" stroke="#262626" stroke-width="0.2" textLength="20.60" lengthAdjust="spacingAndGlyphs">PC-Exo</text>
<line x1="156.80" y1="555.70" x2="166.10" y2="555.70" stroke="#4aa83c" stroke-width="1.0" />
<circle cx="161.40" cy="555.70" r="0.8" fill="#4aa83c"/>
<text x="169.50" y="558.04" font-size="6.5" fill="#262626" stroke="#262626" stroke-width="0.2" textLength="52.17" lengthAdjust="spacingAndGlyphs">PC-Anti-BCMA-Exo</text>
<line x1="156.80" y1="565.30" x2="166.10" y2="565.30" stroke="#44b2da" stroke-width="1.0" />
<circle cx="161.40" cy="565.30" r="0.8" fill="#44b2da"/>
<text x="169.50" y="567.64" font-size="6.5" fill="#262626" stroke="#262626" stroke-width="0.2" textLength="8.64" lengthAdjust="spacingAndGlyphs">Btz</text>
<line x1="156.80" y1="575.20" x2="166.10" y2="575.20" stroke="#1d5a4c" stroke-width="1.0" />
<circle cx="161.40" cy="575.20" r="0.8" fill="#1d5a4c"/>
<text x="169.50" y="577.54" font-size="6.5" fill="#262626" stroke="#262626" stroke-width="0.2" textLength="31.23" lengthAdjust="spacingAndGlyphs">PC-Exo-Btz</text>
<line x1="156.80" y1="585.30" x2="166.10" y2="585.30" stroke="#f0a22c" stroke-width="1.0" />
<circle cx="161.40" cy="585.30" r="0.8" fill="#f0a22c"/>
<text x="169.50" y="587.64" font-size="6.5" fill="#262626" stroke="#262626" stroke-width="0.2" textLength="62.60" lengthAdjust="spacingAndGlyphs">PC-Anti-BCMA-Exo-Btz</text>
<circle cx="236.90" cy="544.50" r="0.62" fill="#222"/>
<circle cx="236.90" cy="553.60" r="0.62" fill="#222"/>
<circle cx="236.90" cy="563.50" r="0.62" fill="#222"/>
<circle cx="236.70" cy="573.70" r="0.62" fill="#222"/>
<circle cx="238.90" cy="573.70" r="0.62" fill="#222"/>
<circle cx="236.70" cy="583.80" r="0.62" fill="#222"/>
<circle cx="238.90" cy="583.80" r="0.62" fill="#222"/>
<line x1="242.70" y1="562.70" x2="242.70" y2="574.10" stroke="#555" stroke-width="0.6" />
<circle cx="247.90" cy="568.40" r="0.62" fill="#222"/>
<line x1="296.90" y1="517.30" x2="296.90" y2="604.60" stroke="#1c1c1c" stroke-width="1.0" />
<line x1="295.50" y1="604.20" x2="296.90" y2="604.20" stroke="#1c1c1c" stroke-width="0.6" />
<line x1="295.50" y1="600.36" x2="296.90" y2="600.36" stroke="#1c1c1c" stroke-width="0.6" />
<line x1="295.50" y1="596.52" x2="296.90" y2="596.52" stroke="#1c1c1c" stroke-width="0.6" />
<line x1="295.50" y1="592.68" x2="296.90" y2="592.68" stroke="#1c1c1c" stroke-width="0.6" />
<line x1="295.50" y1="588.84" x2="296.90" y2="588.84" stroke="#1c1c1c" stroke-width="0.6" />
<line x1="295.50" y1="585.00" x2="296.90" y2="585.00" stroke="#1c1c1c" stroke-width="0.6" />
<line x1="295.50" y1="581.16" x2="296.90" y2="581.16" stroke="#1c1c1c" stroke-width="0.6" />
<line x1="295.50" y1="577.32" x2="296.90" y2="577.32" stroke="#1c1c1c" stroke-width="0.6" />
<line x1="295.50" y1="573.48" x2="296.90" y2="573.48" stroke="#1c1c1c" stroke-width="0.6" />
<line x1="295.50" y1="569.64" x2="296.90" y2="569.64" stroke="#1c1c1c" stroke-width="0.6" />
<line x1="295.50" y1="565.80" x2="296.90" y2="565.80" stroke="#1c1c1c" stroke-width="0.6" />
<line x1="295.50" y1="561.96" x2="296.90" y2="561.96" stroke="#1c1c1c" stroke-width="0.6" />
<line x1="295.50" y1="558.12" x2="296.90" y2="558.12" stroke="#1c1c1c" stroke-width="0.6" />
<line x1="295.50" y1="554.28" x2="296.90" y2="554.28" stroke="#1c1c1c" stroke-width="0.6" />
<line x1="295.50" y1="550.44" x2="296.90" y2="550.44" stroke="#1c1c1c" stroke-width="0.6" />
<line x1="295.50" y1="546.60" x2="296.90" y2="546.60" stroke="#1c1c1c" stroke-width="0.6" />
<line x1="295.50" y1="542.76" x2="296.90" y2="542.76" stroke="#1c1c1c" stroke-width="0.6" />
<line x1="295.50" y1="538.92" x2="296.90" y2="538.92" stroke="#1c1c1c" stroke-width="0.6" />
<line x1="295.50" y1="535.08" x2="296.90" y2="535.08" stroke="#1c1c1c" stroke-width="0.6" />
<line x1="295.50" y1="531.24" x2="296.90" y2="531.24" stroke="#1c1c1c" stroke-width="0.6" />
<line x1="295.50" y1="527.40" x2="296.90" y2="527.40" stroke="#1c1c1c" stroke-width="0.6" />
<line x1="295.50" y1="523.56" x2="296.90" y2="523.56" stroke="#1c1c1c" stroke-width="0.6" />
<line x1="295.50" y1="519.72" x2="296.90" y2="519.72" stroke="#1c1c1c" stroke-width="0.6" />
<line x1="294.30" y1="604.20" x2="296.90" y2="604.20" stroke="#1c1c1c" stroke-width="0.8" />
<text x="292.20" y="606.58" font-size="6.6" fill="#262626" stroke="#262626" stroke-width="0.2" text-anchor="end" textLength="3.30" lengthAdjust="spacingAndGlyphs">0</text>
<line x1="294.30" y1="565.90" x2="296.90" y2="565.90" stroke="#1c1c1c" stroke-width="0.8" />
<text x="292.20" y="568.28" font-size="6.6" fill="#262626" stroke="#262626" stroke-width="0.2" text-anchor="end" textLength="6.61" lengthAdjust="spacingAndGlyphs">50</text>
<line x1="294.30" y1="527.60" x2="296.90" y2="527.60" stroke="#1c1c1c" stroke-width="0.8" />
<text x="292.20" y="529.98" font-size="6.6" fill="#262626" stroke="#262626" stroke-width="0.2" text-anchor="end" textLength="9.91" lengthAdjust="spacingAndGlyphs">100</text>
<line x1="296.90" y1="604.20" x2="427.00" y2="604.20" stroke="#1c1c1c" stroke-width="1.0" />
<line x1="296.90" y1="604.20" x2="296.90" y2="606.60" stroke="#1c1c1c" stroke-width="0.8" />
<text x="296.90" y="616.18" font-size="6.6" fill="#262626" stroke="#262626" stroke-width="0.2" text-anchor="middle" textLength="3.30" lengthAdjust="spacingAndGlyphs">0</text>
<line x1="322.18" y1="604.20" x2="322.18" y2="606.60" stroke="#1c1c1c" stroke-width="0.8" />
<text x="322.18" y="616.18" font-size="6.6" fill="#262626" stroke="#262626" stroke-width="0.2" text-anchor="middle" textLength="6.61" lengthAdjust="spacingAndGlyphs">20</text>
<line x1="347.46" y1="604.20" x2="347.46" y2="606.60" stroke="#1c1c1c" stroke-width="0.8" />
<text x="347.46" y="616.18" font-size="6.6" fill="#262626" stroke="#262626" stroke-width="0.2" text-anchor="middle" textLength="6.61" lengthAdjust="spacingAndGlyphs">40</text>
<line x1="372.74" y1="604.20" x2="372.74" y2="606.60" stroke="#1c1c1c" stroke-width="0.8" />
<text x="372.74" y="616.18" font-size="6.6" fill="#262626" stroke="#262626" stroke-width="0.2" text-anchor="middle" textLength="6.61" lengthAdjust="spacingAndGlyphs">60</text>
<line x1="398.02" y1="604.20" x2="398.02" y2="606.60" stroke="#1c1c1c" stroke-width="0.8" />
<text x="398.02" y="616.18" font-size="6.6" fill="#262626" stroke="#262626" stroke-width="0.2" text-anchor="middle" textLength="6.61" lengthAdjust="spacingAndGlyphs">80</text>
<line x1="423.30" y1="604.20" x2="423.30" y2="606.60" stroke="#1c1c1c" stroke-width="0.8" />
<text x="423.30" y="616.18" font-size="6.6" fill="#262626" stroke="#262626" stroke-width="0.2" text-anchor="middle" textLength="9.91" lengthAdjust="spacingAndGlyphs">100</text>
<text x="362.10" y="626.72" font-size="8.4" fill="#2a2a2a" stroke="#2a2a2a" stroke-width="0.2" font-weight="bold" text-anchor="middle" textLength="29.60" lengthAdjust="spacingAndGlyphs">Time (days)</text>
<text transform="translate(272.10,560.80) rotate(-90)" x="0" y="2.66" font-size="7.4" fill="#2a2a2a" stroke="#2a2a2a" stroke-width="0.2" font-weight="bold" text-anchor="middle" textLength="31.00" lengthAdjust="spacingAndGlyphs">Survival (%)</text>
<polyline points="296.90,527.60 372.00,527.60 372.00,542.92 373.50,542.92 373.50,558.24 377.20,558.24 377.20,573.56 384.90,573.56 384.90,588.88 395.40,588.88 395.40,604.20" fill="none" stroke="#f0a22c" stroke-width="1.0" stroke-linejoin="round" stroke-linejoin="miter" stroke-linecap="butt"/>
<polyline points="296.90,527.60 346.50,527.60 346.50,542.92 347.70,542.92 347.70,558.24 355.70,558.24 355.70,573.56 365.70,573.56 365.70,588.88 372.30,588.88 372.30,604.20" fill="none" stroke="#44b2da" stroke-width="1.0" stroke-linejoin="round" stroke-linejoin="miter" stroke-linecap="butt"/>
<polyline points="296.90,527.60 341.50,527.60 341.50,558.24 350.50,558.24 350.50,573.56 358.20,573.56 358.20,588.88 364.60,588.88 364.60,604.20" fill="none" stroke="#5a2a78" stroke-width="1.0" stroke-linejoin="round" stroke-linejoin="miter" stroke-linecap="butt"/>
<polyline points="296.90,527.60 327.20,527.60 327.20,542.92 330.00,542.92 330.00,558.24 336.20,558.24 336.20,573.56 340.00,573.56 340.00,588.88 342.80,588.88 342.80,604.20" fill="none" stroke="#c01a45" stroke-width="1.0" stroke-linejoin="round" stroke-linejoin="miter" stroke-linecap="butt"/>
<line x1="414.30" y1="545.70" x2="423.60" y2="545.70" stroke="#c01a45" stroke-width="1.0" />
<circle cx="418.90" cy="545.70" r="0.8" fill="#c01a45"/>
<text x="425.80" y="548.04" font-size="6.5" fill="#262626" stroke="#262626" stroke-width="0.2" textLength="11.97" lengthAdjust="spacingAndGlyphs">PBS</text>
<line x1="414.30" y1="555.40" x2="423.60" y2="555.40" stroke="#5a2a78" stroke-width="1.0" />
<circle cx="418.90" cy="555.40" r="0.8" fill="#5a2a78"/>
<text x="425.80" y="557.74" font-size="6.5" fill="#262626" stroke="#262626" stroke-width="0.2" textLength="51.50" lengthAdjust="spacingAndGlyphs">CL-Anti-BCMA-Exo</text>
<line x1="414.30" y1="565.10" x2="423.60" y2="565.10" stroke="#44b2da" stroke-width="1.0" />
<circle cx="418.90" cy="565.10" r="0.8" fill="#44b2da"/>
<text x="425.80" y="567.44" font-size="6.5" fill="#262626" stroke="#262626" stroke-width="0.2" textLength="8.64" lengthAdjust="spacingAndGlyphs">Btz</text>
<line x1="414.30" y1="575.00" x2="423.60" y2="575.00" stroke="#f0a22c" stroke-width="1.0" />
<circle cx="418.90" cy="575.00" r="0.8" fill="#f0a22c"/>
<text x="425.80" y="577.34" font-size="6.5" fill="#262626" stroke="#262626" stroke-width="0.2" textLength="62.40" lengthAdjust="spacingAndGlyphs">CL-Anti-BCMA-Exo-Btz</text>
<circle cx="493.00" cy="553.50" r="0.62" fill="#222"/>
<circle cx="492.70" cy="564.20" r="0.62" fill="#222"/>
<circle cx="494.90" cy="564.20" r="0.62" fill="#222"/>
<circle cx="492.70" cy="573.40" r="0.62" fill="#222"/>
<circle cx="494.90" cy="573.40" r="0.62" fill="#222"/>
<line x1="499.70" y1="563.50" x2="499.70" y2="574.30" stroke="#555" stroke-width="0.6" />
<circle cx="503.10" cy="568.10" r="0.62" fill="#222"/>
<circle cx="505.30" cy="568.10" r="0.62" fill="#222"/>
<defs><radialGradient id="mg" cx="50%" cy="50%" r="60%"><stop offset="0" stop-color="#f8f8f8"/><stop offset="0.6" stop-color="#ececec"/><stop offset="0.85" stop-color="#d0d0d0"/><stop offset="1" stop-color="#9a9a9a"/></radialGradient><linearGradient id="cb" x1="0" y1="0" x2="0" y2="1"><stop offset="0" stop-color="#c81818"/><stop offset="0.07" stop-color="#dc3a18"/><stop offset="0.13" stop-color="#e88020"/><stop offset="0.17" stop-color="#f0c020"/><stop offset="0.21" stop-color="#e8e020"/><stop offset="0.31" stop-color="#a0d030"/><stop offset="0.43" stop-color="#50b040"/><stop offset="0.53" stop-color="#30a870"/><stop offset="0.63" stop-color="#30a8b0"/><stop offset="0.68" stop-color="#3090d0"/><stop offset="0.75" stop-color="#3050c0"/><stop offset="0.83" stop-color="#2a2a90"/><stop offset="1" stop-color="#2a1060"/></linearGradient><filter id="bl" x="-20%" y="-20%" width="140%" height="140%"><feGaussianBlur stdDeviation="0.45"/></filter><filter id="bl2" x="-20%" y="-20%" width="140%" height="140%"><feGaussianBlur stdDeviation="1.2"/></filter><clipPath id="pc"><rect x="307.5" y="24.5" width="160.2" height="321.7"/></clipPath></defs>
<rect x="307.5" y="24.5" width="160.2" height="321.7" fill="#262626"/>
<g clip-path="url(#pc)">
<g filter="url(#bl2)">
<ellipse cx="359.4" cy="73.0" rx="1.6" ry="5.3" fill="#484848" opacity="0.8"/>
<ellipse cx="322.6" cy="212.0" rx="2.0" ry="2.3" fill="#444444" opacity="0.8"/>
<ellipse cx="374.5" cy="101.9" rx="2.6" ry="5.3" fill="#454545" opacity="0.8"/>
<ellipse cx="327.3" cy="96.3" rx="3.0" ry="2.2" fill="#484848" opacity="0.8"/>
<ellipse cx="401.3" cy="40.5" rx="1.6" ry="5.4" fill="#3b3b3b" opacity="0.8"/>
<ellipse cx="353.9" cy="70.9" rx="2.9" ry="4.2" fill="#373737" opacity="0.8"/>
<ellipse cx="416.8" cy="57.7" rx="3.1" ry="3.5" fill="#464646" opacity="0.8"/>
<ellipse cx="395.2" cy="44.7" rx="3.0" ry="4.0" fill="#353535" opacity="0.8"/>
<ellipse cx="392.7" cy="274.5" rx="3.0" ry="3.8" fill="#424242" opacity="0.8"/>
<ellipse cx="355.5" cy="280.1" rx="3.4" ry="2.3" fill="#4a4a4a" opacity="0.8"/>
<ellipse cx="355.6" cy="183.8" rx="3.3" ry="3.2" fill="#3e3e3e" opacity="0.8"/>
<ellipse cx="464.5" cy="62.5" rx="1.9" ry="3.4" fill="#414141" opacity="0.8"/>
<ellipse cx="457.0" cy="160.2" rx="1.7" ry="4.2" fill="#494949" opacity="0.8"/>
<ellipse cx="433.9" cy="287.8" rx="3.2" ry="4.4" fill="#3e3e3e" opacity="0.8"/>
<ellipse cx="400.4" cy="171.3" rx="1.7" ry="3.1" fill="#4e4e4e" opacity="0.8"/>
<ellipse cx="419.2" cy="45.4" rx="3.3" ry="4.6" fill="#4b4b4b" opacity="0.8"/>
<ellipse cx="466.6" cy="288.9" rx="3.3" ry="5.5" fill="#3d3d3d" opacity="0.8"/>
<ellipse cx="363.1" cy="327.1" rx="1.9" ry="2.5" fill="#3f3f3f" opacity="0.8"/>
<ellipse cx="316.9" cy="271.6" rx="3.3" ry="3.6" fill="#383838" opacity="0.8"/>
<ellipse cx="454.4" cy="184.2" rx="2.6" ry="4.2" fill="#393939" opacity="0.8"/>
<ellipse cx="449.0" cy="288.1" rx="2.9" ry="4.8" fill="#4f4f4f" opacity="0.8"/>
<ellipse cx="465.5" cy="244.1" rx="3.9" ry="2.6" fill="#404040" opacity="0.8"/>
<ellipse cx="335.7" cy="99.1" rx="1.5" ry="5.3" fill="#3b3b3b" opacity="0.8"/>
<ellipse cx="336.7" cy="115.2" rx="2.5" ry="3.5" fill="#383838" opacity="0.8"/>
<ellipse cx="398.2" cy="331.1" rx="3.6" ry="5.8" fill="#4a4a4a" opacity="0.8"/>
<ellipse cx="412.4" cy="262.5" rx="3.7" ry="5.1" fill="#424242" opacity="0.8"/>
<ellipse cx="447.6" cy="281.2" rx="2.5" ry="3.6" fill="#404040" opacity="0.8"/>
<ellipse cx="384.6" cy="153.3" rx="1.7" ry="2.8" fill="#3a3a3a" opacity="0.8"/>
<ellipse cx="333.5" cy="133.9" rx="1.8" ry="4.3" fill="#353535" opacity="0.8"/>
<ellipse cx="393.5" cy="329.8" rx="1.6" ry="5.5" fill="#474747" opacity="0.8"/>
<ellipse cx="405.9" cy="72.3" rx="3.9" ry="4.4" fill="#3c3c3c" opacity="0.8"/>
<ellipse cx="383.5" cy="61.6" rx="4.0" ry="3.9" fill="#434343" opacity="0.8"/>
<ellipse cx="385.0" cy="52.1" rx="3.4" ry="5.0" fill="#373737" opacity="0.8"/>
<ellipse cx="384.2" cy="247.1" rx="1.6" ry="5.8" fill="#444444" opacity="0.8"/>
<ellipse cx="392.1" cy="71.7" rx="3.8" ry="5.0" fill="#454545" opacity="0.8"/>
<ellipse cx="355.3" cy="231.3" rx="3.2" ry="3.0" fill="#363636" opacity="0.8"/>
<ellipse cx="366.2" cy="78.2" rx="2.1" ry="4.2" fill="#4c4c4c" opacity="0.8"/>
<ellipse cx="388.0" cy="229.2" rx="3.5" ry="5.9" fill="#474747" opacity="0.8"/>
<ellipse cx="444.1" cy="283.8" rx="2.5" ry="5.2" fill="#4e4e4e" opacity="0.8"/>
<ellipse cx="339.5" cy="183.0" rx="1.6" ry="2.1" fill="#4b4b4b" opacity="0.8"/>
<ellipse cx="352.3" cy="107.9" rx="3.0" ry="3.4" fill="#4a4a4a" opacity="0.8"/>
<ellipse cx="437.0" cy="257.1" rx="3.9" ry="3.5" fill="#3f3f3f" opacity="0.8"/>
<ellipse cx="342.8" cy="97.5" rx="2.3" ry="3.9" fill="#3a3a3a" opacity="0.8"/>
<ellipse cx="465.3" cy="220.8" rx="2.7" ry="4.6" fill="#343434" opacity="0.8"/>
<ellipse cx="435.6" cy="51.8" rx="1.8" ry="3.6" fill="#494949" opacity="0.8"/>
<ellipse cx="421.5" cy="88.6" rx="1.9" ry="5.2" fill="#505050" opacity="0.8"/>
<ellipse cx="360.8" cy="282.1" rx="2.5" ry="3.6" fill="#4b4b4b" opacity="0.8"/>
<ellipse cx="459.2" cy="257.7" rx="4.0" ry="2.1" fill="#393939" opacity="0.8"/>
<ellipse cx="402.1" cy="174.2" rx="1.9" ry="5.3" fill="#484848" opacity="0.8"/>
<ellipse cx="464.5" cy="235.9" rx="1.9" ry="4.2" fill="#3f3f3f" opacity="0.8"/>
<ellipse cx="310.9" cy="281.7" rx="3.1" ry="4.1" fill="#4b4b4b" opacity="0.8"/>
<ellipse cx="457.1" cy="164.1" rx="2.0" ry="5.5" fill="#4f4f4f" opacity="0.8"/>
<ellipse cx="312.0" cy="93.0" rx="2.1" ry="4.3" fill="#444444" opacity="0.8"/>
<ellipse cx="349.1" cy="159.3" rx="1.7" ry="5.0" fill="#383838" opacity="0.8"/>
<ellipse cx="451.3" cy="237.6" rx="3.8" ry="3.7" fill="#4e4e4e" opacity="0.8"/>
<ellipse cx="454.5" cy="185.9" rx="1.9" ry="4.0" fill="#454545" opacity="0.8"/>
<ellipse cx="447.3" cy="274.3" rx="1.5" ry="5.2" fill="#474747" opacity="0.8"/>
<ellipse cx="335.1" cy="176.8" rx="1.8" ry="2.2" fill="#4b4b4b" opacity="0.8"/>
<ellipse cx="416.8" cy="195.2" rx="3.5" ry="2.4" fill="#434343" opacity="0.8"/>
<ellipse cx="397.3" cy="104.4" rx="1.6" ry="2.4" fill="#3c3c3c" opacity="0.8"/>
<ellipse cx="379.9" cy="33.5" rx="3.8" ry="3.8" fill="#505050" opacity="0.8"/>
<ellipse cx="405.6" cy="187.1" rx="2.0" ry="3.1" fill="#444444" opacity="0.8"/>
<ellipse cx="388.9" cy="284.2" rx="3.9" ry="4.8" fill="#444444" opacity="0.8"/>
<ellipse cx="447.9" cy="327.6" rx="3.8" ry="5.6" fill="#3c3c3c" opacity="0.8"/>
<ellipse cx="340.0" cy="168.5" rx="1.8" ry="3.8" fill="#414141" opacity="0.8"/>
<ellipse cx="319.1" cy="101.9" rx="2.0" ry="3.2" fill="#363636" opacity="0.8"/>
<ellipse cx="327.1" cy="274.4" rx="3.1" ry="3.5" fill="#4a4a4a" opacity="0.8"/>
<ellipse cx="348.0" cy="68.7" rx="2.0" ry="5.8" fill="#424242" opacity="0.8"/>
<ellipse cx="371.3" cy="181.3" rx="3.6" ry="2.6" fill="#494949" opacity="0.8"/>
<ellipse cx="376.6" cy="190.4" rx="2.6" ry="3.4" fill="#3e3e3e" opacity="0.8"/>
<ellipse cx="322.3" cy="142.2" rx="2.9" ry="3.8" fill="#3e3e3e" opacity="0.8"/>
<ellipse cx="310.4" cy="131.1" rx="2.2" ry="5.8" fill="#474747" opacity="0.8"/>
<ellipse cx="325.6" cy="320.0" rx="3.9" ry="2.4" fill="#3b3b3b" opacity="0.8"/>
<ellipse cx="350.0" cy="37.2" rx="2.0" ry="5.0" fill="#4c4c4c" opacity="0.8"/>
<ellipse cx="438.8" cy="297.8" rx="3.5" ry="3.0" fill="#494949" opacity="0.8"/>
<ellipse cx="331.4" cy="320.2" rx="2.7" ry="3.3" fill="#464646" opacity="0.8"/>
<ellipse cx="352.2" cy="281.7" rx="2.6" ry="2.3" fill="#393939" opacity="0.8"/>
<ellipse cx="457.8" cy="228.6" rx="2.2" ry="4.4" fill="#4d4d4d" opacity="0.8"/>
<ellipse cx="343.1" cy="109.6" rx="2.6" ry="3.4" fill="#373737" opacity="0.8"/>
<ellipse cx="396.1" cy="322.6" rx="3.1" ry="2.2" fill="#3c3c3c" opacity="0.8"/>
<ellipse cx="421.2" cy="326.3" rx="2.2" ry="2.7" fill="#393939" opacity="0.8"/>
<ellipse cx="456.8" cy="226.7" rx="3.4" ry="3.2" fill="#444444" opacity="0.8"/>
<ellipse cx="387.6" cy="81.7" rx="3.5" ry="6.0" fill="#3f3f3f" opacity="0.8"/>
<ellipse cx="313.4" cy="30.4" rx="2.9" ry="2.8" fill="#444444" opacity="0.8"/>
<ellipse cx="383.6" cy="325.2" rx="3.1" ry="4.6" fill="#373737" opacity="0.8"/>
<ellipse cx="412.7" cy="200.1" rx="2.5" ry="4.0" fill="#505050" opacity="0.8"/>
<ellipse cx="417.7" cy="340.6" rx="2.0" ry="5.5" fill="#3e3e3e" opacity="0.8"/>
<ellipse cx="424.3" cy="69.4" rx="4.0" ry="5.3" fill="#3f3f3f" opacity="0.8"/>
<ellipse cx="309.8" cy="225.7" rx="2.1" ry="2.7" fill="#505050" opacity="0.8"/>
<ellipse cx="321.0" cy="295.1" rx="2.8" ry="5.9" fill="#4f4f4f" opacity="0.8"/>
<ellipse cx="403.4" cy="247.3" rx="2.6" ry="2.6" fill="#353535" opacity="0.8"/>
<ellipse cx="378.9" cy="109.2" rx="3.9" ry="4.2" fill="#3e3e3e" opacity="0.8"/>
<ellipse cx="346.7" cy="335.2" rx="2.0" ry="2.7" fill="#3d3d3d" opacity="0.8"/>
<ellipse cx="361.2" cy="51.5" rx="2.8" ry="2.8" fill="#3c3c3c" opacity="0.8"/>
<ellipse cx="388.4" cy="26.1" rx="3.5" ry="2.6" fill="#3c3c3c" opacity="0.8"/>
<ellipse cx="401.5" cy="151.2" rx="2.3" ry="2.9" fill="#3d3d3d" opacity="0.8"/>
<ellipse cx="401.3" cy="194.7" rx="1.9" ry="5.6" fill="#4c4c4c" opacity="0.8"/>
<ellipse cx="433.1" cy="216.4" rx="2.3" ry="5.9" fill="#4c4c4c" opacity="0.8"/>
<ellipse cx="331.4" cy="257.5" rx="1.9" ry="5.3" fill="#484848" opacity="0.8"/>
<ellipse cx="422.0" cy="189.5" rx="3.3" ry="5.2" fill="#414141" opacity="0.8"/>
<ellipse cx="329.8" cy="193.0" rx="2.9" ry="5.3" fill="#444444" opacity="0.8"/>
<ellipse cx="310.1" cy="245.3" rx="3.7" ry="4.7" fill="#4d4d4d" opacity="0.8"/>
<ellipse cx="418.6" cy="98.5" rx="1.6" ry="4.5" fill="#343434" opacity="0.8"/>
<ellipse cx="461.2" cy="145.7" rx="2.9" ry="4.5" fill="#424242" opacity="0.8"/>
<ellipse cx="407.8" cy="243.5" rx="2.2" ry="3.8" fill="#434343" opacity="0.8"/>
<ellipse cx="318.7" cy="324.5" rx="2.8" ry="4.6" fill="#505050" opacity="0.8"/>
<ellipse cx="318.1" cy="261.5" rx="3.5" ry="5.4" fill="#3c3c3c" opacity="0.8"/>
<ellipse cx="345.1" cy="267.8" rx="3.3" ry="5.9" fill="#3b3b3b" opacity="0.8"/>
<ellipse cx="386.6" cy="147.6" rx="3.8" ry="3.1" fill="#434343" opacity="0.8"/>
<ellipse cx="315.0" cy="228.1" rx="1.7" ry="2.6" fill="#3a3a3a" opacity="0.8"/>
<ellipse cx="348.2" cy="263.6" rx="3.1" ry="2.5" fill="#3d3d3d" opacity="0.8"/>
<ellipse cx="384.8" cy="180.8" rx="1.7" ry="2.9" fill="#494949" opacity="0.8"/>
<ellipse cx="385.9" cy="252.5" rx="2.7" ry="3.9" fill="#3d3d3d" opacity="0.8"/>
<ellipse cx="326.5" cy="312.0" rx="2.3" ry="2.3" fill="#3a3a3a" opacity="0.8"/>
<ellipse cx="383.3" cy="117.7" rx="3.5" ry="5.9" fill="#363636" opacity="0.8"/>
<ellipse cx="379.5" cy="110.9" rx="3.8" ry="5.7" fill="#3a3a3a" opacity="0.8"/>
<ellipse cx="319.5" cy="53.6" rx="2.8" ry="5.8" fill="#4b4b4b" opacity="0.8"/>
<ellipse cx="328.7" cy="288.4" rx="2.2" ry="2.5" fill="#444444" opacity="0.8"/>
<ellipse cx="366.0" cy="184.7" rx="2.7" ry="2.1" fill="#505050" opacity="0.8"/>
<ellipse cx="308.1" cy="182.7" rx="2.5" ry="4.9" fill="#424242" opacity="0.8"/>
<ellipse cx="374.2" cy="145.5" rx="3.6" ry="2.0" fill="#373737" opacity="0.8"/>
<ellipse cx="427.8" cy="294.4" rx="3.8" ry="2.8" fill="#373737" opacity="0.8"/>
<ellipse cx="309.4" cy="262.5" rx="2.4" ry="3.6" fill="#3c3c3c" opacity="0.8"/>
<ellipse cx="467.5" cy="214.0" rx="3.8" ry="5.0" fill="#3f3f3f" opacity="0.8"/>
<ellipse cx="444.4" cy="114.8" rx="3.6" ry="3.1" fill="#353535" opacity="0.8"/>
<ellipse cx="457.4" cy="104.7" rx="2.6" ry="3.3" fill="#3c3c3c" opacity="0.8"/>
<ellipse cx="431.4" cy="277.1" rx="3.7" ry="5.2" fill="#414141" opacity="0.8"/>
<ellipse cx="408.6" cy="318.3" rx="2.9" ry="4.9" fill="#454545" opacity="0.8"/>
<ellipse cx="315.4" cy="260.1" rx="3.0" ry="2.6" fill="#424242" opacity="0.8"/>
<ellipse cx="446.8" cy="180.7" rx="1.8" ry="3.9" fill="#454545" opacity="0.8"/>
<ellipse cx="362.6" cy="120.3" rx="3.3" ry="4.6" fill="#4b4b4b" opacity="0.8"/>
<ellipse cx="372.6" cy="101.3" rx="2.9" ry="3.6" fill="#434343" opacity="0.8"/>
<ellipse cx="334.3" cy="76.5" rx="2.8" ry="5.2" fill="#3a3a3a" opacity="0.8"/>
<ellipse cx="395.7" cy="170.2" rx="4.0" ry="3.8" fill="#3e3e3e" opacity="0.8"/>
<ellipse cx="329.9" cy="86.4" rx="1.9" ry="4.2" fill="#363636" opacity="0.8"/>
<ellipse cx="358.6" cy="143.0" rx="2.9" ry="5.5" fill="#4d4d4d" opacity="0.8"/>
<ellipse cx="427.6" cy="157.3" rx="3.4" ry="2.8" fill="#414141" opacity="0.8"/>
<ellipse cx="350.8" cy="266.5" rx="2.2" ry="5.9" fill="#434343" opacity="0.8"/>
<ellipse cx="327.7" cy="186.4" rx="3.5" ry="5.4" fill="#484848" opacity="0.8"/>
<ellipse cx="322.3" cy="313.0" rx="2.5" ry="3.8" fill="#404040" opacity="0.8"/>
</g>
<g filter="url(#bl)">
<rect x="337.7" y="24.5" width="2.1" height="17.4" fill="#383838"/>
<rect x="338.3" y="46.8" width="1.6" height="15.7" fill="#4a4a4a"/>
<rect x="338.9" y="68.1" width="2.8" height="17.1" fill="#484848"/>
<rect x="337.8" y="87.4" width="2.8" height="7.3" fill="#3c3c3c"/>
<rect x="337.7" y="96.3" width="2.5" height="15.9" fill="#464646"/>
<rect x="339.0" y="113.2" width="2.3" height="7.5" fill="#4a4a4a"/>
<rect x="338.4" y="123.2" width="2.1" height="7.5" fill="#404040"/>
<rect x="338.4" y="135.6" width="2.3" height="7.2" fill="#414141"/>
<rect x="337.6" y="145.7" width="1.9" height="8.7" fill="#383838"/>
<rect x="338.3" y="157.7" width="1.8" height="17.5" fill="#3f3f3f"/>
<rect x="337.6" y="177.5" width="1.8" height="17.5" fill="#414141"/>
<rect x="338.0" y="200.4" width="2.4" height="13.8" fill="#3a3a3a"/>
<rect x="338.7" y="219.8" width="2.4" height="8.7" fill="#393939"/>
<rect x="338.8" y="231.3" width="2.5" height="10.8" fill="#383838"/>
<rect x="338.0" y="245.6" width="2.6" height="8.5" fill="#3e3e3e"/>
<rect x="337.7" y="256.2" width="2.3" height="8.7" fill="#414141"/>
<rect x="338.2" y="268.9" width="2.4" height="16.8" fill="#474747"/>
<rect x="337.6" y="291.4" width="1.5" height="7.8" fill="#444444"/>
<rect x="337.8" y="303.2" width="2.1" height="11.0" fill="#393939"/>
<rect x="339.1" y="318.7" width="2.7" height="9.8" fill="#3b3b3b"/>
<rect x="338.7" y="331.1" width="1.5" height="8.2" fill="#484848"/>
<rect x="339.1" y="343.7" width="2.1" height="10.5" fill="#434343"/>
<rect x="370.1" y="24.5" width="2.7" height="6.9" fill="#3a3a3a"/>
<rect x="370.2" y="33.1" width="2.5" height="17.6" fill="#3e3e3e"/>
<rect x="369.7" y="53.2" width="2.1" height="15.6" fill="#3a3a3a"/>
<rect x="370.1" y="71.7" width="2.5" height="17.0" fill="#3e3e3e"/>
<rect x="370.9" y="92.1" width="2.5" height="13.6" fill="#3f3f3f"/>
<rect x="370.9" y="106.9" width="1.6" height="6.4" fill="#3a3a3a"/>
<rect x="370.2" y="115.3" width="1.9" height="6.8" fill="#424242"/>
<rect x="371.1" y="127.8" width="1.9" height="6.5" fill="#424242"/>
<rect x="369.6" y="138.9" width="1.8" height="13.1" fill="#3a3a3a"/>
<rect x="370.8" y="155.4" width="2.7" height="17.5" fill="#444444"/>
<rect x="369.9" y="178.0" width="2.5" height="7.6" fill="#474747"/>
<rect x="370.6" y="190.3" width="1.9" height="15.9" fill="#3c3c3c"/>
<rect x="370.4" y="208.8" width="2.0" height="10.3" fill="#3a3a3a"/>
<rect x="370.4" y="220.9" width="2.2" height="10.9" fill="#393939"/>
<rect x="371.2" y="233.6" width="1.8" height="11.1" fill="#3b3b3b"/>
<rect x="371.2" y="246.1" width="2.8" height="7.2" fill="#474747"/>
<rect x="370.6" y="255.2" width="2.4" height="7.6" fill="#464646"/>
<rect x="370.8" y="267.5" width="1.9" height="16.2" fill="#3b3b3b"/>
<rect x="370.8" y="286.1" width="1.8" height="9.2" fill="#404040"/>
<rect x="370.0" y="297.5" width="2.7" height="8.9" fill="#3c3c3c"/>
<rect x="371.2" y="308.4" width="2.2" height="6.8" fill="#404040"/>
<rect x="371.2" y="317.3" width="1.6" height="15.7" fill="#464646"/>
<rect x="371.0" y="336.4" width="1.6" height="15.8" fill="#464646"/>
<rect x="402.6" y="24.5" width="2.6" height="7.4" fill="#3e3e3e"/>
<rect x="403.0" y="33.9" width="2.1" height="6.9" fill="#484848"/>
<rect x="401.8" y="43.1" width="2.3" height="15.3" fill="#383838"/>
<rect x="402.2" y="62.5" width="1.6" height="8.6" fill="#434343"/>
<rect x="402.9" y="77.1" width="2.6" height="6.5" fill="#3e3e3e"/>
<rect x="401.7" y="86.7" width="1.5" height="10.5" fill="#414141"/>
<rect x="401.8" y="100.6" width="2.0" height="11.8" fill="#454545"/>
<rect x="402.7" y="116.1" width="2.0" height="13.7" fill="#3a3a3a"/>
<rect x="402.3" y="132.2" width="1.6" height="17.9" fill="#414141"/>
<rect x="402.3" y="154.8" width="2.6" height="16.6" fill="#454545"/>
<rect x="402.2" y="177.3" width="2.0" height="10.4" fill="#3e3e3e"/>
<rect x="402.3" y="193.4" width="2.6" height="11.2" fill="#3d3d3d"/>
<rect x="402.9" y="207.7" width="1.7" height="16.6" fill="#464646"/>
<rect x="401.8" y="225.5" width="2.3" height="7.7" fill="#444444"/>
<rect x="402.2" y="236.1" width="1.7" height="12.1" fill="#3c3c3c"/>
<rect x="402.4" y="250.0" width="2.5" height="6.8" fill="#444444"/>
<rect x="403.0" y="262.6" width="1.6" height="8.4" fill="#3c3c3c"/>
<rect x="401.8" y="276.6" width="2.4" height="9.8" fill="#444444"/>
<rect x="402.6" y="290.8" width="2.3" height="16.7" fill="#3f3f3f"/>
<rect x="402.0" y="309.4" width="2.0" height="11.7" fill="#4a4a4a"/>
<rect x="401.9" y="324.7" width="2.8" height="10.6" fill="#3b3b3b"/>
<rect x="403.0" y="340.4" width="2.4" height="8.3" fill="#494949"/>
<rect x="434.6" y="24.5" width="2.2" height="9.9" fill="#444444"/>
<rect x="434.2" y="38.5" width="1.8" height="9.7" fill="#454545"/>
<rect x="434.4" y="51.1" width="1.5" height="10.4" fill="#484848"/>
<rect x="434.4" y="65.7" width="2.3" height="11.9" fill="#3f3f3f"/>
<rect x="434.3" y="82.6" width="1.6" height="16.0" fill="#474747"/>
<rect x="434.5" y="101.5" width="2.4" height="10.4" fill="#464646"/>
<rect x="434.9" y="113.0" width="2.2" height="7.6" fill="#424242"/>
<rect x="434.7" y="121.9" width="2.5" height="12.0" fill="#444444"/>
<rect x="434.0" y="135.0" width="2.8" height="6.8" fill="#3b3b3b"/>
<rect x="434.8" y="145.3" width="2.4" height="17.5" fill="#3d3d3d"/>
<rect x="433.9" y="164.9" width="2.7" height="16.0" fill="#404040"/>
<rect x="434.1" y="183.3" width="2.8" height="15.8" fill="#3c3c3c"/>
<rect x="434.0" y="202.4" width="2.0" height="13.1" fill="#484848"/>
<rect x="434.7" y="217.5" width="2.7" height="10.8" fill="#404040"/>
<rect x="434.9" y="230.2" width="1.6" height="15.4" fill="#3b3b3b"/>
<rect x="434.5" y="250.9" width="2.3" height="17.6" fill="#464646"/>
<rect x="434.7" y="273.9" width="2.0" height="7.3" fill="#494949"/>
<rect x="434.6" y="286.2" width="2.0" height="9.2" fill="#434343"/>
<rect x="434.6" y="300.2" width="2.7" height="11.3" fill="#3d3d3d"/>
<rect x="434.7" y="314.0" width="2.8" height="12.2" fill="#414141"/>
<rect x="434.8" y="330.1" width="2.5" height="14.0" fill="#424242"/>
<rect x="434.3" y="346.2" width="2.0" height="9.5" fill="#454545"/>
</g>
<g filter="url(#bl)">
<path d="M0,0 C1.8,0 2.6,1 2.9,2.6 L3.6,5.6 L4.6,7.4 L10.8,4.2 L12.6,4.6 L12.2,6.2 L6,9.6 C7.4,14 8.6,20 9.2,27 L14,31.5 L16,33.2 L14.6,34.6 L8.8,33 C7,35 4.6,36.4 2,36.8 L0.8,41 L-0.8,41 L-2,36.8 C-4.6,36.4 -7,35 -8.8,33 L-14.6,34.6 L-16,33.2 L-14,31.5 L-9.2,27 C-8.6,20 -7.4,14 -6,9.6 L-12.2,6.2 L-12.6,4.6 L-10.8,4.2 L-4.6,7.4 L-3.6,5.6 L-2.9,2.6 C-2.6,1 -1.8,0 0,0 Z" transform="translate(322.2,44.0) rotate(0.0) translate(0,-20) scale(1.10,1.03)" fill="#606060" opacity="0.5"/>
<path d="M0,0 C1.8,0 2.6,1 2.9,2.6 L3.6,5.6 L4.6,7.4 L10.8,4.2 L12.6,4.6 L12.2,6.2 L6,9.6 C7.4,14 8.6,20 9.2,27 L14,31.5 L16,33.2 L14.6,34.6 L8.8,33 C7,35 4.6,36.4 2,36.8 L0.8,41 L-0.8,41 L-2,36.8 C-4.6,36.4 -7,35 -8.8,33 L-14.6,34.6 L-16,33.2 L-14,31.5 L-9.2,27 C-8.6,20 -7.4,14 -6,9.6 L-12.2,6.2 L-12.6,4.6 L-10.8,4.2 L-4.6,7.4 L-3.6,5.6 L-2.9,2.6 C-2.6,1 -1.8,0 0,0 Z" transform="translate(322.2,44.0) rotate(0.0) translate(0,-20) scale(1.00,0.98)" fill="url(#mg)"/>
<path d="M0,0 C1.8,0 2.6,1 2.9,2.6 L3.6,5.6 L4.6,7.4 L10.8,4.2 L12.6,4.6 L12.2,6.2 L6,9.6 C7.4,14 8.6,20 9.2,27 L14,31.5 L16,33.2 L14.6,34.6 L8.8,33 C7,35 4.6,36.4 2,36.8 L0.8,41 L-0.8,41 L-2,36.8 C-4.6,36.4 -7,35 -8.8,33 L-14.6,34.6 L-16,33.2 L-14,31.5 L-9.2,27 C-8.6,20 -7.4,14 -6,9.6 L-12.2,6.2 L-12.6,4.6 L-10.8,4.2 L-4.6,7.4 L-3.6,5.6 L-2.9,2.6 C-2.6,1 -1.8,0 0,0 Z" transform="translate(355.7,44.0) rotate(-7.0) translate(0,-20) scale(1.11,1.03)" fill="#606060" opacity="0.5"/>
<path d="M0,0 C1.8,0 2.6,1 2.9,2.6 L3.6,5.6 L4.6,7.4 L10.8,4.2 L12.6,4.6 L12.2,6.2 L6,9.6 C7.4,14 8.6,20 9.2,27 L14,31.5 L16,33.2 L14.6,34.6 L8.8,33 C7,35 4.6,36.4 2,36.8 L0.8,41 L-0.8,41 L-2,36.8 C-4.6,36.4 -7,35 -8.8,33 L-14.6,34.6 L-16,33.2 L-14,31.5 L-9.2,27 C-8.6,20 -7.4,14 -6,9.6 L-12.2,6.2 L-12.6,4.6 L-10.8,4.2 L-4.6,7.4 L-3.6,5.6 L-2.9,2.6 C-2.6,1 -1.8,0 0,0 Z" transform="translate(355.7,44.0) rotate(-7.0) translate(0,-20) scale(1.01,0.98)" fill="url(#mg)"/>
<path d="M0,0 C1.8,0 2.6,1 2.9,2.6 L3.6,5.6 L4.6,7.4 L10.8,4.2 L12.6,4.6 L12.2,6.2 L6,9.6 C7.4,14 8.6,20 9.2,27 L14,31.5 L16,33.2 L14.6,34.6 L8.8,33 C7,35 4.6,36.4 2,36.8 L0.8,41 L-0.8,41 L-2,36.8 C-4.6,36.4 -7,35 -8.8,33 L-14.6,34.6 L-16,33.2 L-14,31.5 L-9.2,27 C-8.6,20 -7.4,14 -6,9.6 L-12.2,6.2 L-12.6,4.6 L-10.8,4.2 L-4.6,7.4 L-3.6,5.6 L-2.9,2.6 C-2.6,1 -1.8,0 0,0 Z" transform="translate(385.6,44.0) rotate(4.0) translate(0,-20) scale(1.06,1.03)" fill="#606060" opacity="0.5"/>
<path d="M0,0 C1.8,0 2.6,1 2.9,2.6 L3.6,5.6 L4.6,7.4 L10.8,4.2 L12.6,4.6 L12.2,6.2 L6,9.6 C7.4,14 8.6,20 9.2,27 L14,31.5 L16,33.2 L14.6,34.6 L8.8,33 C7,35 4.6,36.4 2,36.8 L0.8,41 L-0.8,41 L-2,36.8 C-4.6,36.4 -7,35 -8.8,33 L-14.6,34.6 L-16,33.2 L-14,31.5 L-9.2,27 C-8.6,20 -7.4,14 -6,9.6 L-12.2,6.2 L-12.6,4.6 L-10.8,4.2 L-4.6,7.4 L-3.6,5.6 L-2.9,2.6 C-2.6,1 -1.8,0 0,0 Z" transform="translate(385.6,44.0) rotate(4.0) translate(0,-20) scale(0.96,0.98)" fill="url(#mg)"/>
<path d="M0,0 C1.8,0 2.6,1 2.9,2.6 L3.6,5.6 L4.6,7.4 L10.8,4.2 L12.6,4.6 L12.2,6.2 L6,9.6 C7.4,14 8.6,20 9.2,27 L14,31.5 L16,33.2 L14.6,34.6 L8.8,33 C7,35 4.6,36.4 2,36.8 L0.8,41 L-0.8,41 L-2,36.8 C-4.6,36.4 -7,35 -8.8,33 L-14.6,34.6 L-16,33.2 L-14,31.5 L-9.2,27 C-8.6,20 -7.4,14 -6,9.6 L-12.2,6.2 L-12.6,4.6 L-10.8,4.2 L-4.6,7.4 L-3.6,5.6 L-2.9,2.6 C-2.6,1 -1.8,0 0,0 Z" transform="translate(417.7,44.0) rotate(-2.0) translate(0,-20) scale(1.06,1.03)" fill="#606060" opacity="0.5"/>
<path d="M0,0 C1.8,0 2.6,1 2.9,2.6 L3.6,5.6 L4.6,7.4 L10.8,4.2 L12.6,4.6 L12.2,6.2 L6,9.6 C7.4,14 8.6,20 9.2,27 L14,31.5 L16,33.2 L14.6,34.6 L8.8,33 C7,35 4.6,36.4 2,36.8 L0.8,41 L-0.8,41 L-2,36.8 C-4.6,36.4 -7,35 -8.8,33 L-14.6,34.6 L-16,33.2 L-14,31.5 L-9.2,27 C-8.6,20 -7.4,14 -6,9.6 L-12.2,6.2 L-12.6,4.6 L-10.8,4.2 L-4.6,7.4 L-3.6,5.6 L-2.9,2.6 C-2.6,1 -1.8,0 0,0 Z" transform="translate(417.7,44.0) rotate(-2.0) translate(0,-20) scale(0.96,0.98)" fill="url(#mg)"/>
<path d="M0,0 C1.8,0 2.6,1 2.9,2.6 L3.6,5.6 L4.6,7.4 L10.8,4.2 L12.6,4.6 L12.2,6.2 L6,9.6 C7.4,14 8.6,20 9.2,27 L14,31.5 L16,33.2 L14.6,34.6 L8.8,33 C7,35 4.6,36.4 2,36.8 L0.8,41 L-0.8,41 L-2,36.8 C-4.6,36.4 -7,35 -8.8,33 L-14.6,34.6 L-16,33.2 L-14,31.5 L-9.2,27 C-8.6,20 -7.4,14 -6,9.6 L-12.2,6.2 L-12.6,4.6 L-10.8,4.2 L-4.6,7.4 L-3.6,5.6 L-2.9,2.6 C-2.6,1 -1.8,0 0,0 Z" transform="translate(451.0,44.0) rotate(0.0) translate(0,-20) scale(1.11,1.03)" fill="#606060" opacity="0.5"/>
<path d="M0,0 C1.8,0 2.6,1 2.9,2.6 L3.6,5.6 L4.6,7.4 L10.8,4.2 L12.6,4.6 L12.2,6.2 L6,9.6 C7.4,14 8.6,20 9.2,27 L14,31.5 L16,33.2 L14.6,34.6 L8.8,33 C7,35 4.6,36.4 2,36.8 L0.8,41 L-0.8,41 L-2,36.8 C-4.6,36.4 -7,35 -8.8,33 L-14.6,34.6 L-16,33.2 L-14,31.5 L-9.2,27 C-8.6,20 -7.4,14 -6,9.6 L-12.2,6.2 L-12.6,4.6 L-10.8,4.2 L-4.6,7.4 L-3.6,5.6 L-2.9,2.6 C-2.6,1 -1.8,0 0,0 Z" transform="translate(451.0,44.0) rotate(0.0) translate(0,-20) scale(1.01,0.98)" fill="url(#mg)"/>
<path d="M0,0 C1.8,0 2.6,1 2.9,2.6 L3.6,5.6 L4.6,7.4 L10.8,4.2 L12.6,4.6 L12.2,6.2 L6,9.6 C7.4,14 8.6,20 9.2,27 L14,31.5 L16,33.2 L14.6,34.6 L8.8,33 C7,35 4.6,36.4 2,36.8 L0.8,41 L-0.8,41 L-2,36.8 C-4.6,36.4 -7,35 -8.8,33 L-14.6,34.6 L-16,33.2 L-14,31.5 L-9.2,27 C-8.6,20 -7.4,14 -6,9.6 L-12.2,6.2 L-12.6,4.6 L-10.8,4.2 L-4.6,7.4 L-3.6,5.6 L-2.9,2.6 C-2.6,1 -1.8,0 0,0 Z" transform="translate(320.2,84.2) rotate(0.0) translate(0,-20) scale(1.08,1.03)" fill="#606060" opacity="0.5"/>
<path d="M0,0 C1.8,0 2.6,1 2.9,2.6 L3.6,5.6 L4.6,7.4 L10.8,4.2 L12.6,4.6 L12.2,6.2 L6,9.6 C7.4,14 8.6,20 9.2,27 L14,31.5 L16,33.2 L14.6,34.6 L8.8,33 C7,35 4.6,36.4 2,36.8 L0.8,41 L-0.8,41 L-2,36.8 C-4.6,36.4 -7,35 -8.8,33 L-14.6,34.6 L-16,33.2 L-14,31.5 L-9.2,27 C-8.6,20 -7.4,14 -6,9.6 L-12.2,6.2 L-12.6,4.6 L-10.8,4.2 L-4.6,7.4 L-3.6,5.6 L-2.9,2.6 C-2.6,1 -1.8,0 0,0 Z" transform="translate(320.2,84.2) rotate(0.0) translate(0,-20) scale(0.98,0.98)" fill="url(#mg)"/>
<path d="M0,0 C1.8,0 2.6,1 2.9,2.6 L3.6,5.6 L4.6,7.4 L10.8,4.2 L12.6,4.6 L12.2,6.2 L6,9.6 C7.4,14 8.6,20 9.2,27 L14,31.5 L16,33.2 L14.6,34.6 L8.8,33 C7,35 4.6,36.4 2,36.8 L0.8,41 L-0.8,41 L-2,36.8 C-4.6,36.4 -7,35 -8.8,33 L-14.6,34.6 L-16,33.2 L-14,31.5 L-9.2,27 C-8.6,20 -7.4,14 -6,9.6 L-12.2,6.2 L-12.6,4.6 L-10.8,4.2 L-4.6,7.4 L-3.6,5.6 L-2.9,2.6 C-2.6,1 -1.8,0 0,0 Z" transform="translate(348.8,84.2) rotate(-5.0) translate(0,-20) scale(1.10,1.03)" fill="#606060" opacity="0.5"/>
<path d="M0,0 C1.8,0 2.6,1 2.9,2.6 L3.6,5.6 L4.6,7.4 L10.8,4.2 L12.6,4.6 L12.2,6.2 L6,9.6 C7.4,14 8.6,20 9.2,27 L14,31.5 L16,33.2 L14.6,34.6 L8.8,33 C7,35 4.6,36.4 2,36.8 L0.8,41 L-0.8,41 L-2,36.8 C-4.6,36.4 -7,35 -8.8,33 L-14.6,34.6 L-16,33.2 L-14,31.5 L-9.2,27 C-8.6,20 -7.4,14 -6,9.6 L-12.2,6.2 L-12.6,4.6 L-10.8,4.2 L-4.6,7.4 L-3.6,5.6 L-2.9,2.6 C-2.6,1 -1.8,0 0,0 Z" transform="translate(348.8,84.2) rotate(-5.0) translate(0,-20) scale(1.00,0.98)" fill="url(#mg)"/>
<path d="M0,0 C1.8,0 2.6,1 2.9,2.6 L3.6,5.6 L4.6,7.4 L10.8,4.2 L12.6,4.6 L12.2,6.2 L6,9.6 C7.4,14 8.6,20 9.2,27 L14,31.5 L16,33.2 L14.6,34.6 L8.8,33 C7,35 4.6,36.4 2,36.8 L0.8,41 L-0.8,41 L-2,36.8 C-4.6,36.4 -7,35 -8.8,33 L-14.6,34.6 L-16,33.2 L-14,31.5 L-9.2,27 C-8.6,20 -7.4,14 -6,9.6 L-12.2,6.2 L-12.6,4.6 L-10.8,4.2 L-4.6,7.4 L-3.6,5.6 L-2.9,2.6 C-2.6,1 -1.8,0 0,0 Z" transform="translate(381.3,84.2) rotate(5.0) translate(0,-20) scale(1.10,1.03)" fill="#606060" opacity="0.5"/>
<path d="M0,0 C1.8,0 2.6,1 2.9,2.6 L3.6,5.6 L4.6,7.4 L10.8,4.2 L12.6,4.6 L12.2,6.2 L6,9.6 C7.4,14 8.6,20 9.2,27 L14,31.5 L16,33.2 L14.6,34.6 L8.8,33 C7,35 4.6,36.4 2,36.8 L0.8,41 L-0.8,41 L-2,36.8 C-4.6,36.4 -7,35 -8.8,33 L-14.6,34.6 L-16,33.2 L-14,31.5 L-9.2,27 C-8.6,20 -7.4,14 -6,9.6 L-12.2,6.2 L-12.6,4.6 L-10.8,4.2 L-4.6,7.4 L-3.6,5.6 L-2.9,2.6 C-2.6,1 -1.8,0 0,0 Z" transform="translate(381.3,84.2) rotate(5.0) translate(0,-20) scale(1.00,0.98)" fill="url(#mg)"/>
<path d="M0,0 C1.8,0 2.6,1 2.9,2.6 L3.6,5.6 L4.6,7.4 L10.8,4.2 L12.6,4.6 L12.2,6.2 L6,9.6 C7.4,14 8.6,20 9.2,27 L14,31.5 L16,33.2 L14.6,34.6 L8.8,33 C7,35 4.6,36.4 2,36.8 L0.8,41 L-0.8,41 L-2,36.8 C-4.6,36.4 -7,35 -8.8,33 L-14.6,34.6 L-16,33.2 L-14,31.5 L-9.2,27 C-8.6,20 -7.4,14 -6,9.6 L-12.2,6.2 L-12.6,4.6 L-10.8,4.2 L-4.6,7.4 L-3.6,5.6 L-2.9,2.6 C-2.6,1 -1.8,0 0,0 Z" transform="translate(415.4,84.2) rotate(0.0) translate(0,-20) scale(1.09,1.03)" fill="#606060" opacity="0.5"/>
<path d="M0,0 C1.8,0 2.6,1 2.9,2.6 L3.6,5.6 L4.6,7.4 L10.8,4.2 L12.6,4.6 L12.2,6.2 L6,9.6 C7.4,14 8.6,20 9.2,27 L14,31.5 L16,33.2 L14.6,34.6 L8.8,33 C7,35 4.6,36.4 2,36.8 L0.8,41 L-0.8,41 L-2,36.8 C-4.6,36.4 -7,35 -8.8,33 L-14.6,34.6 L-16,33.2 L-14,31.5 L-9.2,27 C-8.6,20 -7.4,14 -6,9.6 L-12.2,6.2 L-12.6,4.6 L-10.8,4.2 L-4.6,7.4 L-3.6,5.6 L-2.9,2.6 C-2.6,1 -1.8,0 0,0 Z" transform="translate(415.4,84.2) rotate(0.0) translate(0,-20) scale(0.99,0.98)" fill="url(#mg)"/>
<path d="M0,0 C1.8,0 2.6,1 2.9,2.6 L3.6,5.6 L4.6,7.4 L10.8,4.2 L12.6,4.6 L12.2,6.2 L6,9.6 C7.4,14 8.6,20 9.2,27 L14,31.5 L16,33.2 L14.6,34.6 L8.8,33 C7,35 4.6,36.4 2,36.8 L0.8,41 L-0.8,41 L-2,36.8 C-4.6,36.4 -7,35 -8.8,33 L-14.6,34.6 L-16,33.2 L-14,31.5 L-9.2,27 C-8.6,20 -7.4,14 -6,9.6 L-12.2,6.2 L-12.6,4.6 L-10.8,4.2 L-4.6,7.4 L-3.6,5.6 L-2.9,2.6 C-2.6,1 -1.8,0 0,0 Z" transform="translate(448.7,84.2) rotate(2.0) translate(0,-20) scale(1.08,1.03)" fill="#606060" opacity="0.5"/>
<path d="M0,0 C1.8,0 2.6,1 2.9,2.6 L3.6,5.6 L4.6,7.4 L10.8,4.2 L12.6,4.6 L12.2,6.2 L6,9.6 C7.4,14 8.6,20 9.2,27 L14,31.5 L16,33.2 L14.6,34.6 L8.8,33 C7,35 4.6,36.4 2,36.8 L0.8,41 L-0.8,41 L-2,36.8 C-4.6,36.4 -7,35 -8.8,33 L-14.6,34.6 L-16,33.2 L-14,31.5 L-9.2,27 C-8.6,20 -7.4,14 -6,9.6 L-12.2,6.2 L-12.6,4.6 L-10.8,4.2 L-4.6,7.4 L-3.6,5.6 L-2.9,2.6 C-2.6,1 -1.8,0 0,0 Z" transform="translate(448.7,84.2) rotate(2.0) translate(0,-20) scale(0.98,0.98)" fill="url(#mg)"/>
<path d="M0,0 C1.8,0 2.6,1 2.9,2.6 L3.6,5.6 L4.6,7.4 L10.8,4.2 L12.6,4.6 L12.2,6.2 L6,9.6 C7.4,14 8.6,20 9.2,27 L14,31.5 L16,33.2 L14.6,34.6 L8.8,33 C7,35 4.6,36.4 2,36.8 L0.8,41 L-0.8,41 L-2,36.8 C-4.6,36.4 -7,35 -8.8,33 L-14.6,34.6 L-16,33.2 L-14,31.5 L-9.2,27 C-8.6,20 -7.4,14 -6,9.6 L-12.2,6.2 L-12.6,4.6 L-10.8,4.2 L-4.6,7.4 L-3.6,5.6 L-2.9,2.6 C-2.6,1 -1.8,0 0,0 Z" transform="translate(322.5,124.4) rotate(0.0) translate(0,-20) scale(1.07,1.03)" fill="#606060" opacity="0.5"/>
<path d="M0,0 C1.8,0 2.6,1 2.9,2.6 L3.6,5.6 L4.6,7.4 L10.8,4.2 L12.6,4.6 L12.2,6.2 L6,9.6 C7.4,14 8.6,20 9.2,27 L14,31.5 L16,33.2 L14.6,34.6 L8.8,33 C7,35 4.6,36.4 2,36.8 L0.8,41 L-0.8,41 L-2,36.8 C-4.6,36.4 -7,35 -8.8,33 L-14.6,34.6 L-16,33.2 L-14,31.5 L-9.2,27 C-8.6,20 -7.4,14 -6,9.6 L-12.2,6.2 L-12.6,4.6 L-10.8,4.2 L-4.6,7.4 L-3.6,5.6 L-2.9,2.6 C-2.6,1 -1.8,0 0,0 Z" transform="translate(322.5,124.4) rotate(0.0) translate(0,-20) scale(0.97,0.98)" fill="url(#mg)"/>
<path d="M0,0 C1.8,0 2.6,1 2.9,2.6 L3.6,5.6 L4.6,7.4 L10.8,4.2 L12.6,4.6 L12.2,6.2 L6,9.6 C7.4,14 8.6,20 9.2,27 L14,31.5 L16,33.2 L14.6,34.6 L8.8,33 C7,35 4.6,36.4 2,36.8 L0.8,41 L-0.8,41 L-2,36.8 C-4.6,36.4 -7,35 -8.8,33 L-14.6,34.6 L-16,33.2 L-14,31.5 L-9.2,27 C-8.6,20 -7.4,14 -6,9.6 L-12.2,6.2 L-12.6,4.6 L-10.8,4.2 L-4.6,7.4 L-3.6,5.6 L-2.9,2.6 C-2.6,1 -1.8,0 0,0 Z" transform="translate(354.2,124.4) rotate(-2.0) translate(0,-20) scale(1.09,1.03)" fill="#606060" opacity="0.5"/>
<path d="M0,0 C1.8,0 2.6,1 2.9,2.6 L3.6,5.6 L4.6,7.4 L10.8,4.2 L12.6,4.6 L12.2,6.2 L6,9.6 C7.4,14 8.6,20 9.2,27 L14,31.5 L16,33.2 L14.6,34.6 L8.8,33 C7,35 4.6,36.4 2,36.8 L0.8,41 L-0.8,41 L-2,36.8 C-4.6,36.4 -7,35 -8.8,33 L-14.6,34.6 L-16,33.2 L-14,31.5 L-9.2,27 C-8.6,20 -7.4,14 -6,9.6 L-12.2,6.2 L-12.6,4.6 L-10.8,4.2 L-4.6,7.4 L-3.6,5.6 L-2.9,2.6 C-2.6,1 -1.8,0 0,0 Z" transform="translate(354.2,124.4) rotate(-2.0) translate(0,-20) scale(0.99,0.98)" fill="url(#mg)"/>
<path d="M0,0 C1.8,0 2.6,1 2.9,2.6 L3.6,5.6 L4.6,7.4 L10.8,4.2 L12.6,4.6 L12.2,6.2 L6,9.6 C7.4,14 8.6,20 9.2,27 L14,31.5 L16,33.2 L14.6,34.6 L8.8,33 C7,35 4.6,36.4 2,36.8 L0.8,41 L-0.8,41 L-2,36.8 C-4.6,36.4 -7,35 -8.8,33 L-14.6,34.6 L-16,33.2 L-14,31.5 L-9.2,27 C-8.6,20 -7.4,14 -6,9.6 L-12.2,6.2 L-12.6,4.6 L-10.8,4.2 L-4.6,7.4 L-3.6,5.6 L-2.9,2.6 C-2.6,1 -1.8,0 0,0 Z" transform="translate(386.0,124.4) rotate(0.0) translate(0,-20) scale(1.13,1.03)" fill="#606060" opacity="0.5"/>
<path d="M0,0 C1.8,0 2.6,1 2.9,2.6 L3.6,5.6 L4.6,7.4 L10.8,4.2 L12.6,4.6 L12.2,6.2 L6,9.6 C7.4,14 8.6,20 9.2,27 L14,31.5 L16,33.2 L14.6,34.6 L8.8,33 C7,35 4.6,36.4 2,36.8 L0.8,41 L-0.8,41 L-2,36.8 C-4.6,36.4 -7,35 -8.8,33 L-14.6,34.6 L-16,33.2 L-14,31.5 L-9.2,27 C-8.6,20 -7.4,14 -6,9.6 L-12.2,6.2 L-12.6,4.6 L-10.8,4.2 L-4.6,7.4 L-3.6,5.6 L-2.9,2.6 C-2.6,1 -1.8,0 0,0 Z" transform="translate(386.0,124.4) rotate(0.0) translate(0,-20) scale(1.03,0.98)" fill="url(#mg)"/>
<path d="M0,0 C1.8,0 2.6,1 2.9,2.6 L3.6,5.6 L4.6,7.4 L10.8,4.2 L12.6,4.6 L12.2,6.2 L6,9.6 C7.4,14 8.6,20 9.2,27 L14,31.5 L16,33.2 L14.6,34.6 L8.8,33 C7,35 4.6,36.4 2,36.8 L0.8,41 L-0.8,41 L-2,36.8 C-4.6,36.4 -7,35 -8.8,33 L-14.6,34.6 L-16,33.2 L-14,31.5 L-9.2,27 C-8.6,20 -7.4,14 -6,9.6 L-12.2,6.2 L-12.6,4.6 L-10.8,4.2 L-4.6,7.4 L-3.6,5.6 L-2.9,2.6 C-2.6,1 -1.8,0 0,0 Z" transform="translate(414.6,124.4) rotate(-2.0) translate(0,-20) scale(1.07,1.03)" fill="#606060" opacity="0.5"/>
<path d="M0,0 C1.8,0 2.6,1 2.9,2.6 L3.6,5.6 L4.6,7.4 L10.8,4.2 L12.6,4.6 L12.2,6.2 L6,9.6 C7.4,14 8.6,20 9.2,27 L14,31.5 L16,33.2 L14.6,34.6 L8.8,33 C7,35 4.6,36.4 2,36.8 L0.8,41 L-0.8,41 L-2,36.8 C-4.6,36.4 -7,35 -8.8,33 L-14.6,34.6 L-16,33.2 L-14,31.5 L-9.2,27 C-8.6,20 -7.4,14 -6,9.6 L-12.2,6.2 L-12.6,4.6 L-10.8,4.2 L-4.6,7.4 L-3.6,5.6 L-2.9,2.6 C-2.6,1 -1.8,0 0,0 Z" transform="translate(414.6,124.4) rotate(-2.0) translate(0,-20) scale(0.97,0.98)" fill="url(#mg)"/>
<path d="M0,0 C1.8,0 2.6,1 2.9,2.6 L3.6,5.6 L4.6,7.4 L10.8,4.2 L12.6,4.6 L12.2,6.2 L6,9.6 C7.4,14 8.6,20 9.2,27 L14,31.5 L16,33.2 L14.6,34.6 L8.8,33 C7,35 4.6,36.4 2,36.8 L0.8,41 L-0.8,41 L-2,36.8 C-4.6,36.4 -7,35 -8.8,33 L-14.6,34.6 L-16,33.2 L-14,31.5 L-9.2,27 C-8.6,20 -7.4,14 -6,9.6 L-12.2,6.2 L-12.6,4.6 L-10.8,4.2 L-4.6,7.4 L-3.6,5.6 L-2.9,2.6 C-2.6,1 -1.8,0 0,0 Z" transform="translate(449.5,124.4) rotate(4.0) translate(0,-20) scale(1.06,1.03)" fill="#606060" opacity="0.5"/>
<path d="M0,0 C1.8,0 2.6,1 2.9,2.6 L3.6,5.6 L4.6,7.4 L10.8,4.2 L12.6,4.6 L12.2,6.2 L6,9.6 C7.4,14 8.6,20 9.2,27 L14,31.5 L16,33.2 L14.6,34.6 L8.8,33 C7,35 4.6,36.4 2,36.8 L0.8,41 L-0.8,41 L-2,36.8 C-4.6,36.4 -7,35 -8.8,33 L-14.6,34.6 L-16,33.2 L-14,31.5 L-9.2,27 C-8.6,20 -7.4,14 -6,9.6 L-12.2,6.2 L-12.6,4.6 L-10.8,4.2 L-4.6,7.4 L-3.6,5.6 L-2.9,2.6 C-2.6,1 -1.8,0 0,0 Z" transform="translate(449.5,124.4) rotate(4.0) translate(0,-20) scale(0.96,0.98)" fill="url(#mg)"/>
<path d="M0,0 C1.8,0 2.6,1 2.9,2.6 L3.6,5.6 L4.6,7.4 L10.8,4.2 L12.6,4.6 L12.2,6.2 L6,9.6 C7.4,14 8.6,20 9.2,27 L14,31.5 L16,33.2 L14.6,34.6 L8.8,33 C7,35 4.6,36.4 2,36.8 L0.8,41 L-0.8,41 L-2,36.8 C-4.6,36.4 -7,35 -8.8,33 L-14.6,34.6 L-16,33.2 L-14,31.5 L-9.2,27 C-8.6,20 -7.4,14 -6,9.6 L-12.2,6.2 L-12.6,4.6 L-10.8,4.2 L-4.6,7.4 L-3.6,5.6 L-2.9,2.6 C-2.6,1 -1.8,0 0,0 Z" transform="translate(322.5,164.6) rotate(5.0) translate(0,-20) scale(1.13,1.03)" fill="#606060" opacity="0.5"/>
<path d="M0,0 C1.8,0 2.6,1 2.9,2.6 L3.6,5.6 L4.6,7.4 L10.8,4.2 L12.6,4.6 L12.2,6.2 L6,9.6 C7.4,14 8.6,20 9.2,27 L14,31.5 L16,33.2 L14.6,34.6 L8.8,33 C7,35 4.6,36.4 2,36.8 L0.8,41 L-0.8,41 L-2,36.8 C-4.6,36.4 -7,35 -8.8,33 L-14.6,34.6 L-16,33.2 L-14,31.5 L-9.2,27 C-8.6,20 -7.4,14 -6,9.6 L-12.2,6.2 L-12.6,4.6 L-10.8,4.2 L-4.6,7.4 L-3.6,5.6 L-2.9,2.6 C-2.6,1 -1.8,0 0,0 Z" transform="translate(322.5,164.6) rotate(5.0) translate(0,-20) scale(1.02,0.98)" fill="url(#mg)"/>
<path d="M0,0 C1.8,0 2.6,1 2.9,2.6 L3.6,5.6 L4.6,7.4 L10.8,4.2 L12.6,4.6 L12.2,6.2 L6,9.6 C7.4,14 8.6,20 9.2,27 L14,31.5 L16,33.2 L14.6,34.6 L8.8,33 C7,35 4.6,36.4 2,36.8 L0.8,41 L-0.8,41 L-2,36.8 C-4.6,36.4 -7,35 -8.8,33 L-14.6,34.6 L-16,33.2 L-14,31.5 L-9.2,27 C-8.6,20 -7.4,14 -6,9.6 L-12.2,6.2 L-12.6,4.6 L-10.8,4.2 L-4.6,7.4 L-3.6,5.6 L-2.9,2.6 C-2.6,1 -1.8,0 0,0 Z" transform="translate(354.2,164.6) rotate(-12.0) translate(0,-20) scale(1.12,1.03)" fill="#606060" opacity="0.5"/>
<path d="M0,0 C1.8,0 2.6,1 2.9,2.6 L3.6,5.6 L4.6,7.4 L10.8,4.2 L12.6,4.6 L12.2,6.2 L6,9.6 C7.4,14 8.6,20 9.2,27 L14,31.5 L16,33.2 L14.6,34.6 L8.8,33 C7,35 4.6,36.4 2,36.8 L0.8,41 L-0.8,41 L-2,36.8 C-4.6,36.4 -7,35 -8.8,33 L-14.6,34.6 L-16,33.2 L-14,31.5 L-9.2,27 C-8.6,20 -7.4,14 -6,9.6 L-12.2,6.2 L-12.6,4.6 L-10.8,4.2 L-4.6,7.4 L-3.6,5.6 L-2.9,2.6 C-2.6,1 -1.8,0 0,0 Z" transform="translate(354.2,164.6) rotate(-12.0) translate(0,-20) scale(1.02,0.98)" fill="url(#mg)"/>
<path d="M0,0 C1.8,0 2.6,1 2.9,2.6 L3.6,5.6 L4.6,7.4 L10.8,4.2 L12.6,4.6 L12.2,6.2 L6,9.6 C7.4,14 8.6,20 9.2,27 L14,31.5 L16,33.2 L14.6,34.6 L8.8,33 C7,35 4.6,36.4 2,36.8 L0.8,41 L-0.8,41 L-2,36.8 C-4.6,36.4 -7,35 -8.8,33 L-14.6,34.6 L-16,33.2 L-14,31.5 L-9.2,27 C-8.6,20 -7.4,14 -6,9.6 L-12.2,6.2 L-12.6,4.6 L-10.8,4.2 L-4.6,7.4 L-3.6,5.6 L-2.9,2.6 C-2.6,1 -1.8,0 0,0 Z" transform="translate(383.6,164.6) rotate(2.0) translate(0,-20) scale(1.10,1.03)" fill="#606060" opacity="0.5"/>
<path d="M0,0 C1.8,0 2.6,1 2.9,2.6 L3.6,5.6 L4.6,7.4 L10.8,4.2 L12.6,4.6 L12.2,6.2 L6,9.6 C7.4,14 8.6,20 9.2,27 L14,31.5 L16,33.2 L14.6,34.6 L8.8,33 C7,35 4.6,36.4 2,36.8 L0.8,41 L-0.8,41 L-2,36.8 C-4.6,36.4 -7,35 -8.8,33 L-14.6,34.6 L-16,33.2 L-14,31.5 L-9.2,27 C-8.6,20 -7.4,14 -6,9.6 L-12.2,6.2 L-12.6,4.6 L-10.8,4.2 L-4.6,7.4 L-3.6,5.6 L-2.9,2.6 C-2.6,1 -1.8,0 0,0 Z" transform="translate(383.6,164.6) rotate(2.0) translate(0,-20) scale(1.00,0.98)" fill="url(#mg)"/>
<path d="M0,0 C1.8,0 2.6,1 2.9,2.6 L3.6,5.6 L4.6,7.4 L10.8,4.2 L12.6,4.6 L12.2,6.2 L6,9.6 C7.4,14 8.6,20 9.2,27 L14,31.5 L16,33.2 L14.6,34.6 L8.8,33 C7,35 4.6,36.4 2,36.8 L0.8,41 L-0.8,41 L-2,36.8 C-4.6,36.4 -7,35 -8.8,33 L-14.6,34.6 L-16,33.2 L-14,31.5 L-9.2,27 C-8.6,20 -7.4,14 -6,9.6 L-12.2,6.2 L-12.6,4.6 L-10.8,4.2 L-4.6,7.4 L-3.6,5.6 L-2.9,2.6 C-2.6,1 -1.8,0 0,0 Z" transform="translate(415.4,164.6) rotate(-5.0) translate(0,-20) scale(1.06,1.03)" fill="#606060" opacity="0.5"/>
<path d="M0,0 C1.8,0 2.6,1 2.9,2.6 L3.6,5.6 L4.6,7.4 L10.8,4.2 L12.6,4.6 L12.2,6.2 L6,9.6 C7.4,14 8.6,20 9.2,27 L14,31.5 L16,33.2 L14.6,34.6 L8.8,33 C7,35 4.6,36.4 2,36.8 L0.8,41 L-0.8,41 L-2,36.8 C-4.6,36.4 -7,35 -8.8,33 L-14.6,34.6 L-16,33.2 L-14,31.5 L-9.2,27 C-8.6,20 -7.4,14 -6,9.6 L-12.2,6.2 L-12.6,4.6 L-10.8,4.2 L-4.6,7.4 L-3.6,5.6 L-2.9,2.6 C-2.6,1 -1.8,0 0,0 Z" transform="translate(415.4,164.6) rotate(-5.0) translate(0,-20) scale(0.97,0.98)" fill="url(#mg)"/>
<path d="M0,0 C1.8,0 2.6,1 2.9,2.6 L3.6,5.6 L4.6,7.4 L10.8,4.2 L12.6,4.6 L12.2,6.2 L6,9.6 C7.4,14 8.6,20 9.2,27 L14,31.5 L16,33.2 L14.6,34.6 L8.8,33 C7,35 4.6,36.4 2,36.8 L0.8,41 L-0.8,41 L-2,36.8 C-4.6,36.4 -7,35 -8.8,33 L-14.6,34.6 L-16,33.2 L-14,31.5 L-9.2,27 C-8.6,20 -7.4,14 -6,9.6 L-12.2,6.2 L-12.6,4.6 L-10.8,4.2 L-4.6,7.4 L-3.6,5.6 L-2.9,2.6 C-2.6,1 -1.8,0 0,0 Z" transform="translate(450.2,164.6) rotate(2.0) translate(0,-20) scale(1.07,1.03)" fill="#606060" opacity="0.5"/>
<path d="M0,0 C1.8,0 2.6,1 2.9,2.6 L3.6,5.6 L4.6,7.4 L10.8,4.2 L12.6,4.6 L12.2,6.2 L6,9.6 C7.4,14 8.6,20 9.2,27 L14,31.5 L16,33.2 L14.6,34.6 L8.8,33 C7,35 4.6,36.4 2,36.8 L0.8,41 L-0.8,41 L-2,36.8 C-4.6,36.4 -7,35 -8.8,33 L-14.6,34.6 L-16,33.2 L-14,31.5 L-9.2,27 C-8.6,20 -7.4,14 -6,9.6 L-12.2,6.2 L-12.6,4.6 L-10.8,4.2 L-4.6,7.4 L-3.6,5.6 L-2.9,2.6 C-2.6,1 -1.8,0 0,0 Z" transform="translate(450.2,164.6) rotate(2.0) translate(0,-20) scale(0.97,0.98)" fill="url(#mg)"/>
<path d="M0,0 C1.8,0 2.6,1 2.9,2.6 L3.6,5.6 L4.6,7.4 L10.8,4.2 L12.6,4.6 L12.2,6.2 L6,9.6 C7.4,14 8.6,20 9.2,27 L14,31.5 L16,33.2 L14.6,34.6 L8.8,33 C7,35 4.6,36.4 2,36.8 L0.8,41 L-0.8,41 L-2,36.8 C-4.6,36.4 -7,35 -8.8,33 L-14.6,34.6 L-16,33.2 L-14,31.5 L-9.2,27 C-8.6,20 -7.4,14 -6,9.6 L-12.2,6.2 L-12.6,4.6 L-10.8,4.2 L-4.6,7.4 L-3.6,5.6 L-2.9,2.6 C-2.6,1 -1.8,0 0,0 Z" transform="translate(324.0,204.8) rotate(10.0) translate(0,-20) scale(1.11,1.03)" fill="#606060" opacity="0.5"/>
<path d="M0,0 C1.8,0 2.6,1 2.9,2.6 L3.6,5.6 L4.6,7.4 L10.8,4.2 L12.6,4.6 L12.2,6.2 L6,9.6 C7.4,14 8.6,20 9.2,27 L14,31.5 L16,33.2 L14.6,34.6 L8.8,33 C7,35 4.6,36.4 2,36.8 L0.8,41 L-0.8,41 L-2,36.8 C-4.6,36.4 -7,35 -8.8,33 L-14.6,34.6 L-16,33.2 L-14,31.5 L-9.2,27 C-8.6,20 -7.4,14 -6,9.6 L-12.2,6.2 L-12.6,4.6 L-10.8,4.2 L-4.6,7.4 L-3.6,5.6 L-2.9,2.6 C-2.6,1 -1.8,0 0,0 Z" transform="translate(324.0,204.8) rotate(10.0) translate(0,-20) scale(1.01,0.98)" fill="url(#mg)"/>
<path d="M0,0 C1.8,0 2.6,1 2.9,2.6 L3.6,5.6 L4.6,7.4 L10.8,4.2 L12.6,4.6 L12.2,6.2 L6,9.6 C7.4,14 8.6,20 9.2,27 L14,31.5 L16,33.2 L14.6,34.6 L8.8,33 C7,35 4.6,36.4 2,36.8 L0.8,41 L-0.8,41 L-2,36.8 C-4.6,36.4 -7,35 -8.8,33 L-14.6,34.6 L-16,33.2 L-14,31.5 L-9.2,27 C-8.6,20 -7.4,14 -6,9.6 L-12.2,6.2 L-12.6,4.6 L-10.8,4.2 L-4.6,7.4 L-3.6,5.6 L-2.9,2.6 C-2.6,1 -1.8,0 0,0 Z" transform="translate(358.0,204.8) rotate(5.0) translate(0,-20) scale(1.08,1.03)" fill="#606060" opacity="0.5"/>
<path d="M0,0 C1.8,0 2.6,1 2.9,2.6 L3.6,5.6 L4.6,7.4 L10.8,4.2 L12.6,4.6 L12.2,6.2 L6,9.6 C7.4,14 8.6,20 9.2,27 L14,31.5 L16,33.2 L14.6,34.6 L8.8,33 C7,35 4.6,36.4 2,36.8 L0.8,41 L-0.8,41 L-2,36.8 C-4.6,36.4 -7,35 -8.8,33 L-14.6,34.6 L-16,33.2 L-14,31.5 L-9.2,27 C-8.6,20 -7.4,14 -6,9.6 L-12.2,6.2 L-12.6,4.6 L-10.8,4.2 L-4.6,7.4 L-3.6,5.6 L-2.9,2.6 C-2.6,1 -1.8,0 0,0 Z" transform="translate(358.0,204.8) rotate(5.0) translate(0,-20) scale(0.98,0.98)" fill="url(#mg)"/>
<path d="M0,0 C1.8,0 2.6,1 2.9,2.6 L3.6,5.6 L4.6,7.4 L10.8,4.2 L12.6,4.6 L12.2,6.2 L6,9.6 C7.4,14 8.6,20 9.2,27 L14,31.5 L16,33.2 L14.6,34.6 L8.8,33 C7,35 4.6,36.4 2,36.8 L0.8,41 L-0.8,41 L-2,36.8 C-4.6,36.4 -7,35 -8.8,33 L-14.6,34.6 L-16,33.2 L-14,31.5 L-9.2,27 C-8.6,20 -7.4,14 -6,9.6 L-12.2,6.2 L-12.6,4.6 L-10.8,4.2 L-4.6,7.4 L-3.6,5.6 L-2.9,2.6 C-2.6,1 -1.8,0 0,0 Z" transform="translate(389.0,204.8) rotate(0.0) translate(0,-20) scale(1.13,1.03)" fill="#606060" opacity="0.5"/>
<path d="M0,0 C1.8,0 2.6,1 2.9,2.6 L3.6,5.6 L4.6,7.4 L10.8,4.2 L12.6,4.6 L12.2,6.2 L6,9.6 C7.4,14 8.6,20 9.2,27 L14,31.5 L16,33.2 L14.6,34.6 L8.8,33 C7,35 4.6,36.4 2,36.8 L0.8,41 L-0.8,41 L-2,36.8 C-4.6,36.4 -7,35 -8.8,33 L-14.6,34.6 L-16,33.2 L-14,31.5 L-9.2,27 C-8.6,20 -7.4,14 -6,9.6 L-12.2,6.2 L-12.6,4.6 L-10.8,4.2 L-4.6,7.4 L-3.6,5.6 L-2.9,2.6 C-2.6,1 -1.8,0 0,0 Z" transform="translate(389.0,204.8) rotate(0.0) translate(0,-20) scale(1.02,0.98)" fill="url(#mg)"/>
<path d="M0,0 C1.8,0 2.6,1 2.9,2.6 L3.6,5.6 L4.6,7.4 L10.8,4.2 L12.6,4.6 L12.2,6.2 L6,9.6 C7.4,14 8.6,20 9.2,27 L14,31.5 L16,33.2 L14.6,34.6 L8.8,33 C7,35 4.6,36.4 2,36.8 L0.8,41 L-0.8,41 L-2,36.8 C-4.6,36.4 -7,35 -8.8,33 L-14.6,34.6 L-16,33.2 L-14,31.5 L-9.2,27 C-8.6,20 -7.4,14 -6,9.6 L-12.2,6.2 L-12.6,4.6 L-10.8,4.2 L-4.6,7.4 L-3.6,5.6 L-2.9,2.6 C-2.6,1 -1.8,0 0,0 Z" transform="translate(420.0,204.8) rotate(5.0) translate(0,-20) scale(1.14,1.03)" fill="#606060" opacity="0.5"/>
<path d="M0,0 C1.8,0 2.6,1 2.9,2.6 L3.6,5.6 L4.6,7.4 L10.8,4.2 L12.6,4.6 L12.2,6.2 L6,9.6 C7.4,14 8.6,20 9.2,27 L14,31.5 L16,33.2 L14.6,34.6 L8.8,33 C7,35 4.6,36.4 2,36.8 L0.8,41 L-0.8,41 L-2,36.8 C-4.6,36.4 -7,35 -8.8,33 L-14.6,34.6 L-16,33.2 L-14,31.5 L-9.2,27 C-8.6,20 -7.4,14 -6,9.6 L-12.2,6.2 L-12.6,4.6 L-10.8,4.2 L-4.6,7.4 L-3.6,5.6 L-2.9,2.6 C-2.6,1 -1.8,0 0,0 Z" transform="translate(420.0,204.8) rotate(5.0) translate(0,-20) scale(1.04,0.98)" fill="url(#mg)"/>
<path d="M0,0 C1.8,0 2.6,1 2.9,2.6 L3.6,5.6 L4.6,7.4 L10.8,4.2 L12.6,4.6 L12.2,6.2 L6,9.6 C7.4,14 8.6,20 9.2,27 L14,31.5 L16,33.2 L14.6,34.6 L8.8,33 C7,35 4.6,36.4 2,36.8 L0.8,41 L-0.8,41 L-2,36.8 C-4.6,36.4 -7,35 -8.8,33 L-14.6,34.6 L-16,33.2 L-14,31.5 L-9.2,27 C-8.6,20 -7.4,14 -6,9.6 L-12.2,6.2 L-12.6,4.6 L-10.8,4.2 L-4.6,7.4 L-3.6,5.6 L-2.9,2.6 C-2.6,1 -1.8,0 0,0 Z" transform="translate(451.8,204.8) rotate(2.0) translate(0,-20) scale(1.06,1.03)" fill="#606060" opacity="0.5"/>
<path d="M0,0 C1.8,0 2.6,1 2.9,2.6 L3.6,5.6 L4.6,7.4 L10.8,4.2 L12.6,4.6 L12.2,6.2 L6,9.6 C7.4,14 8.6,20 9.2,27 L14,31.5 L16,33.2 L14.6,34.6 L8.8,33 C7,35 4.6,36.4 2,36.8 L0.8,41 L-0.8,41 L-2,36.8 C-4.6,36.4 -7,35 -8.8,33 L-14.6,34.6 L-16,33.2 L-14,31.5 L-9.2,27 C-8.6,20 -7.4,14 -6,9.6 L-12.2,6.2 L-12.6,4.6 L-10.8,4.2 L-4.6,7.4 L-3.6,5.6 L-2.9,2.6 C-2.6,1 -1.8,0 0,0 Z" transform="translate(451.8,204.8) rotate(2.0) translate(0,-20) scale(0.96,0.98)" fill="url(#mg)"/>
<path d="M0,0 C1.8,0 2.6,1 2.9,2.6 L3.6,5.6 L4.6,7.4 L10.8,4.2 L12.6,4.6 L12.2,6.2 L6,9.6 C7.4,14 8.6,20 9.2,27 L14,31.5 L16,33.2 L14.6,34.6 L8.8,33 C7,35 4.6,36.4 2,36.8 L0.8,41 L-0.8,41 L-2,36.8 C-4.6,36.4 -7,35 -8.8,33 L-14.6,34.6 L-16,33.2 L-14,31.5 L-9.2,27 C-8.6,20 -7.4,14 -6,9.6 L-12.2,6.2 L-12.6,4.6 L-10.8,4.2 L-4.6,7.4 L-3.6,5.6 L-2.9,2.6 C-2.6,1 -1.8,0 0,0 Z" transform="translate(323.3,245.1) rotate(-2.0) translate(0,-20) scale(1.13,1.03)" fill="#606060" opacity="0.5"/>
<path d="M0,0 C1.8,0 2.6,1 2.9,2.6 L3.6,5.6 L4.6,7.4 L10.8,4.2 L12.6,4.6 L12.2,6.2 L6,9.6 C7.4,14 8.6,20 9.2,27 L14,31.5 L16,33.2 L14.6,34.6 L8.8,33 C7,35 4.6,36.4 2,36.8 L0.8,41 L-0.8,41 L-2,36.8 C-4.6,36.4 -7,35 -8.8,33 L-14.6,34.6 L-16,33.2 L-14,31.5 L-9.2,27 C-8.6,20 -7.4,14 -6,9.6 L-12.2,6.2 L-12.6,4.6 L-10.8,4.2 L-4.6,7.4 L-3.6,5.6 L-2.9,2.6 C-2.6,1 -1.8,0 0,0 Z" transform="translate(323.3,245.1) rotate(-2.0) translate(0,-20) scale(1.03,0.98)" fill="url(#mg)"/>
<path d="M0,0 C1.8,0 2.6,1 2.9,2.6 L3.6,5.6 L4.6,7.4 L10.8,4.2 L12.6,4.6 L12.2,6.2 L6,9.6 C7.4,14 8.6,20 9.2,27 L14,31.5 L16,33.2 L14.6,34.6 L8.8,33 C7,35 4.6,36.4 2,36.8 L0.8,41 L-0.8,41 L-2,36.8 C-4.6,36.4 -7,35 -8.8,33 L-14.6,34.6 L-16,33.2 L-14,31.5 L-9.2,27 C-8.6,20 -7.4,14 -6,9.6 L-12.2,6.2 L-12.6,4.6 L-10.8,4.2 L-4.6,7.4 L-3.6,5.6 L-2.9,2.6 C-2.6,1 -1.8,0 0,0 Z" transform="translate(355.0,245.1) rotate(0.0) translate(0,-20) scale(1.13,1.03)" fill="#606060" opacity="0.5"/>
<path d="M0,0 C1.8,0 2.6,1 2.9,2.6 L3.6,5.6 L4.6,7.4 L10.8,4.2 L12.6,4.6 L12.2,6.2 L6,9.6 C7.4,14 8.6,20 9.2,27 L14,31.5 L16,33.2 L14.6,34.6 L8.8,33 C7,35 4.6,36.4 2,36.8 L0.8,41 L-0.8,41 L-2,36.8 C-4.6,36.4 -7,35 -8.8,33 L-14.6,34.6 L-16,33.2 L-14,31.5 L-9.2,27 C-8.6,20 -7.4,14 -6,9.6 L-12.2,6.2 L-12.6,4.6 L-10.8,4.2 L-4.6,7.4 L-3.6,5.6 L-2.9,2.6 C-2.6,1 -1.8,0 0,0 Z" transform="translate(355.0,245.1) rotate(0.0) translate(0,-20) scale(1.03,0.98)" fill="url(#mg)"/>
<path d="M0,0 C1.8,0 2.6,1 2.9,2.6 L3.6,5.6 L4.6,7.4 L10.8,4.2 L12.6,4.6 L12.2,6.2 L6,9.6 C7.4,14 8.6,20 9.2,27 L14,31.5 L16,33.2 L14.6,34.6 L8.8,33 C7,35 4.6,36.4 2,36.8 L0.8,41 L-0.8,41 L-2,36.8 C-4.6,36.4 -7,35 -8.8,33 L-14.6,34.6 L-16,33.2 L-14,31.5 L-9.2,27 C-8.6,20 -7.4,14 -6,9.6 L-12.2,6.2 L-12.6,4.6 L-10.8,4.2 L-4.6,7.4 L-3.6,5.6 L-2.9,2.6 C-2.6,1 -1.8,0 0,0 Z" transform="translate(383.7,245.1) rotate(7.0) translate(0,-20) scale(1.11,1.03)" fill="#606060" opacity="0.5"/>
<path d="M0,0 C1.8,0 2.6,1 2.9,2.6 L3.6,5.6 L4.6,7.4 L10.8,4.2 L12.6,4.6 L12.2,6.2 L6,9.6 C7.4,14 8.6,20 9.2,27 L14,31.5 L16,33.2 L14.6,34.6 L8.8,33 C7,35 4.6,36.4 2,36.8 L0.8,41 L-0.8,41 L-2,36.8 C-4.6,36.4 -7,35 -8.8,33 L-14.6,34.6 L-16,33.2 L-14,31.5 L-9.2,27 C-8.6,20 -7.4,14 -6,9.6 L-12.2,6.2 L-12.6,4.6 L-10.8,4.2 L-4.6,7.4 L-3.6,5.6 L-2.9,2.6 C-2.6,1 -1.8,0 0,0 Z" transform="translate(383.7,245.1) rotate(7.0) translate(0,-20) scale(1.01,0.98)" fill="url(#mg)"/>
<path d="M0,0 C1.8,0 2.6,1 2.9,2.6 L3.6,5.6 L4.6,7.4 L10.8,4.2 L12.6,4.6 L12.2,6.2 L6,9.6 C7.4,14 8.6,20 9.2,27 L14,31.5 L16,33.2 L14.6,34.6 L8.8,33 C7,35 4.6,36.4 2,36.8 L0.8,41 L-0.8,41 L-2,36.8 C-4.6,36.4 -7,35 -8.8,33 L-14.6,34.6 L-16,33.2 L-14,31.5 L-9.2,27 C-8.6,20 -7.4,14 -6,9.6 L-12.2,6.2 L-12.6,4.6 L-10.8,4.2 L-4.6,7.4 L-3.6,5.6 L-2.9,2.6 C-2.6,1 -1.8,0 0,0 Z" transform="translate(416.2,245.1) rotate(-7.0) translate(0,-20) scale(1.11,1.03)" fill="#606060" opacity="0.5"/>
<path d="M0,0 C1.8,0 2.6,1 2.9,2.6 L3.6,5.6 L4.6,7.4 L10.8,4.2 L12.6,4.6 L12.2,6.2 L6,9.6 C7.4,14 8.6,20 9.2,27 L14,31.5 L16,33.2 L14.6,34.6 L8.8,33 C7,35 4.6,36.4 2,36.8 L0.8,41 L-0.8,41 L-2,36.8 C-4.6,36.4 -7,35 -8.8,33 L-14.6,34.6 L-16,33.2 L-14,31.5 L-9.2,27 C-8.6,20 -7.4,14 -6,9.6 L-12.2,6.2 L-12.6,4.6 L-10.8,4.2 L-4.6,7.4 L-3.6,5.6 L-2.9,2.6 C-2.6,1 -1.8,0 0,0 Z" transform="translate(416.2,245.1) rotate(-7.0) translate(0,-20) scale(1.01,0.98)" fill="url(#mg)"/>
<path d="M0,0 C1.8,0 2.6,1 2.9,2.6 L3.6,5.6 L4.6,7.4 L10.8,4.2 L12.6,4.6 L12.2,6.2 L6,9.6 C7.4,14 8.6,20 9.2,27 L14,31.5 L16,33.2 L14.6,34.6 L8.8,33 C7,35 4.6,36.4 2,36.8 L0.8,41 L-0.8,41 L-2,36.8 C-4.6,36.4 -7,35 -8.8,33 L-14.6,34.6 L-16,33.2 L-14,31.5 L-9.2,27 C-8.6,20 -7.4,14 -6,9.6 L-12.2,6.2 L-12.6,4.6 L-10.8,4.2 L-4.6,7.4 L-3.6,5.6 L-2.9,2.6 C-2.6,1 -1.8,0 0,0 Z" transform="translate(451.7,245.1) rotate(7.0) translate(0,-20) scale(1.11,1.03)" fill="#606060" opacity="0.5"/>
<path d="M0,0 C1.8,0 2.6,1 2.9,2.6 L3.6,5.6 L4.6,7.4 L10.8,4.2 L12.6,4.6 L12.2,6.2 L6,9.6 C7.4,14 8.6,20 9.2,27 L14,31.5 L16,33.2 L14.6,34.6 L8.8,33 C7,35 4.6,36.4 2,36.8 L0.8,41 L-0.8,41 L-2,36.8 C-4.6,36.4 -7,35 -8.8,33 L-14.6,34.6 L-16,33.2 L-14,31.5 L-9.2,27 C-8.6,20 -7.4,14 -6,9.6 L-12.2,6.2 L-12.6,4.6 L-10.8,4.2 L-4.6,7.4 L-3.6,5.6 L-2.9,2.6 C-2.6,1 -1.8,0 0,0 Z" transform="translate(451.7,245.1) rotate(7.0) translate(0,-20) scale(1.01,0.98)" fill="url(#mg)"/>
<path d="M0,0 C1.8,0 2.6,1 2.9,2.6 L3.6,5.6 L4.6,7.4 L10.8,4.2 L12.6,4.6 L12.2,6.2 L6,9.6 C7.4,14 8.6,20 9.2,27 L14,31.5 L16,33.2 L14.6,34.6 L8.8,33 C7,35 4.6,36.4 2,36.8 L0.8,41 L-0.8,41 L-2,36.8 C-4.6,36.4 -7,35 -8.8,33 L-14.6,34.6 L-16,33.2 L-14,31.5 L-9.2,27 C-8.6,20 -7.4,14 -6,9.6 L-12.2,6.2 L-12.6,4.6 L-10.8,4.2 L-4.6,7.4 L-3.6,5.6 L-2.9,2.6 C-2.6,1 -1.8,0 0,0 Z" transform="translate(324.8,285.3) rotate(2.0) translate(0,-20) scale(1.10,1.03)" fill="#606060" opacity="0.5"/>
<path d="M0,0 C1.8,0 2.6,1 2.9,2.6 L3.6,5.6 L4.6,7.4 L10.8,4.2 L12.6,4.6 L12.2,6.2 L6,9.6 C7.4,14 8.6,20 9.2,27 L14,31.5 L16,33.2 L14.6,34.6 L8.8,33 C7,35 4.6,36.4 2,36.8 L0.8,41 L-0.8,41 L-2,36.8 C-4.6,36.4 -7,35 -8.8,33 L-14.6,34.6 L-16,33.2 L-14,31.5 L-9.2,27 C-8.6,20 -7.4,14 -6,9.6 L-12.2,6.2 L-12.6,4.6 L-10.8,4.2 L-4.6,7.4 L-3.6,5.6 L-2.9,2.6 C-2.6,1 -1.8,0 0,0 Z" transform="translate(324.8,285.3) rotate(2.0) translate(0,-20) scale(1.00,0.98)" fill="url(#mg)"/>
<path d="M0,0 C1.8,0 2.6,1 2.9,2.6 L3.6,5.6 L4.6,7.4 L10.8,4.2 L12.6,4.6 L12.2,6.2 L6,9.6 C7.4,14 8.6,20 9.2,27 L14,31.5 L16,33.2 L14.6,34.6 L8.8,33 C7,35 4.6,36.4 2,36.8 L0.8,41 L-0.8,41 L-2,36.8 C-4.6,36.4 -7,35 -8.8,33 L-14.6,34.6 L-16,33.2 L-14,31.5 L-9.2,27 C-8.6,20 -7.4,14 -6,9.6 L-12.2,6.2 L-12.6,4.6 L-10.8,4.2 L-4.6,7.4 L-3.6,5.6 L-2.9,2.6 C-2.6,1 -1.8,0 0,0 Z" transform="translate(355.0,285.3) rotate(5.0) translate(0,-20) scale(1.10,1.03)" fill="#606060" opacity="0.5"/>
<path d="M0,0 C1.8,0 2.6,1 2.9,2.6 L3.6,5.6 L4.6,7.4 L10.8,4.2 L12.6,4.6 L12.2,6.2 L6,9.6 C7.4,14 8.6,20 9.2,27 L14,31.5 L16,33.2 L14.6,34.6 L8.8,33 C7,35 4.6,36.4 2,36.8 L0.8,41 L-0.8,41 L-2,36.8 C-4.6,36.4 -7,35 -8.8,33 L-14.6,34.6 L-16,33.2 L-14,31.5 L-9.2,27 C-8.6,20 -7.4,14 -6,9.6 L-12.2,6.2 L-12.6,4.6 L-10.8,4.2 L-4.6,7.4 L-3.6,5.6 L-2.9,2.6 C-2.6,1 -1.8,0 0,0 Z" transform="translate(355.0,285.3) rotate(5.0) translate(0,-20) scale(1.00,0.98)" fill="url(#mg)"/>
<path d="M0,0 C1.8,0 2.6,1 2.9,2.6 L3.6,5.6 L4.6,7.4 L10.8,4.2 L12.6,4.6 L12.2,6.2 L6,9.6 C7.4,14 8.6,20 9.2,27 L14,31.5 L16,33.2 L14.6,34.6 L8.8,33 C7,35 4.6,36.4 2,36.8 L0.8,41 L-0.8,41 L-2,36.8 C-4.6,36.4 -7,35 -8.8,33 L-14.6,34.6 L-16,33.2 L-14,31.5 L-9.2,27 C-8.6,20 -7.4,14 -6,9.6 L-12.2,6.2 L-12.6,4.6 L-10.8,4.2 L-4.6,7.4 L-3.6,5.6 L-2.9,2.6 C-2.6,1 -1.8,0 0,0 Z" transform="translate(386.8,285.3) rotate(2.0) translate(0,-20) scale(1.07,1.03)" fill="#606060" opacity="0.5"/>
<path d="M0,0 C1.8,0 2.6,1 2.9,2.6 L3.6,5.6 L4.6,7.4 L10.8,4.2 L12.6,4.6 L12.2,6.2 L6,9.6 C7.4,14 8.6,20 9.2,27 L14,31.5 L16,33.2 L14.6,34.6 L8.8,33 C7,35 4.6,36.4 2,36.8 L0.8,41 L-0.8,41 L-2,36.8 C-4.6,36.4 -7,35 -8.8,33 L-14.6,34.6 L-16,33.2 L-14,31.5 L-9.2,27 C-8.6,20 -7.4,14 -6,9.6 L-12.2,6.2 L-12.6,4.6 L-10.8,4.2 L-4.6,7.4 L-3.6,5.6 L-2.9,2.6 C-2.6,1 -1.8,0 0,0 Z" transform="translate(386.8,285.3) rotate(2.0) translate(0,-20) scale(0.97,0.98)" fill="url(#mg)"/>
<path d="M0,0 C1.8,0 2.6,1 2.9,2.6 L3.6,5.6 L4.6,7.4 L10.8,4.2 L12.6,4.6 L12.2,6.2 L6,9.6 C7.4,14 8.6,20 9.2,27 L14,31.5 L16,33.2 L14.6,34.6 L8.8,33 C7,35 4.6,36.4 2,36.8 L0.8,41 L-0.8,41 L-2,36.8 C-4.6,36.4 -7,35 -8.8,33 L-14.6,34.6 L-16,33.2 L-14,31.5 L-9.2,27 C-8.6,20 -7.4,14 -6,9.6 L-12.2,6.2 L-12.6,4.6 L-10.8,4.2 L-4.6,7.4 L-3.6,5.6 L-2.9,2.6 C-2.6,1 -1.8,0 0,0 Z" transform="translate(416.2,285.3) rotate(2.0) translate(0,-20) scale(1.06,1.03)" fill="#606060" opacity="0.5"/>
<path d="M0,0 C1.8,0 2.6,1 2.9,2.6 L3.6,5.6 L4.6,7.4 L10.8,4.2 L12.6,4.6 L12.2,6.2 L6,9.6 C7.4,14 8.6,20 9.2,27 L14,31.5 L16,33.2 L14.6,34.6 L8.8,33 C7,35 4.6,36.4 2,36.8 L0.8,41 L-0.8,41 L-2,36.8 C-4.6,36.4 -7,35 -8.8,33 L-14.6,34.6 L-16,33.2 L-14,31.5 L-9.2,27 C-8.6,20 -7.4,14 -6,9.6 L-12.2,6.2 L-12.6,4.6 L-10.8,4.2 L-4.6,7.4 L-3.6,5.6 L-2.9,2.6 C-2.6,1 -1.8,0 0,0 Z" transform="translate(416.2,285.3) rotate(2.0) translate(0,-20) scale(0.96,0.98)" fill="url(#mg)"/>
<path d="M0,0 C1.8,0 2.6,1 2.9,2.6 L3.6,5.6 L4.6,7.4 L10.8,4.2 L12.6,4.6 L12.2,6.2 L6,9.6 C7.4,14 8.6,20 9.2,27 L14,31.5 L16,33.2 L14.6,34.6 L8.8,33 C7,35 4.6,36.4 2,36.8 L0.8,41 L-0.8,41 L-2,36.8 C-4.6,36.4 -7,35 -8.8,33 L-14.6,34.6 L-16,33.2 L-14,31.5 L-9.2,27 C-8.6,20 -7.4,14 -6,9.6 L-12.2,6.2 L-12.6,4.6 L-10.8,4.2 L-4.6,7.4 L-3.6,5.6 L-2.9,2.6 C-2.6,1 -1.8,0 0,0 Z" transform="translate(448.7,285.3) rotate(-2.0) translate(0,-20) scale(1.06,1.03)" fill="#606060" opacity="0.5"/>
<path d="M0,0 C1.8,0 2.6,1 2.9,2.6 L3.6,5.6 L4.6,7.4 L10.8,4.2 L12.6,4.6 L12.2,6.2 L6,9.6 C7.4,14 8.6,20 9.2,27 L14,31.5 L16,33.2 L14.6,34.6 L8.8,33 C7,35 4.6,36.4 2,36.8 L0.8,41 L-0.8,41 L-2,36.8 C-4.6,36.4 -7,35 -8.8,33 L-14.6,34.6 L-16,33.2 L-14,31.5 L-9.2,27 C-8.6,20 -7.4,14 -6,9.6 L-12.2,6.2 L-12.6,4.6 L-10.8,4.2 L-4.6,7.4 L-3.6,5.6 L-2.9,2.6 C-2.6,1 -1.8,0 0,0 Z" transform="translate(448.7,285.3) rotate(-2.0) translate(0,-20) scale(0.96,0.98)" fill="url(#mg)"/>
<path d="M0,0 C1.8,0 2.6,1 2.9,2.6 L3.6,5.6 L4.6,7.4 L10.8,4.2 L12.6,4.6 L12.2,6.2 L6,9.6 C7.4,14 8.6,20 9.2,27 L14,31.5 L16,33.2 L14.6,34.6 L8.8,33 C7,35 4.6,36.4 2,36.8 L0.8,41 L-0.8,41 L-2,36.8 C-4.6,36.4 -7,35 -8.8,33 L-14.6,34.6 L-16,33.2 L-14,31.5 L-9.2,27 C-8.6,20 -7.4,14 -6,9.6 L-12.2,6.2 L-12.6,4.6 L-10.8,4.2 L-4.6,7.4 L-3.6,5.6 L-2.9,2.6 C-2.6,1 -1.8,0 0,0 Z" transform="translate(327.2,325.5) rotate(5.0) translate(0,-20) scale(1.06,1.03)" fill="#606060" opacity="0.5"/>
<path d="M0,0 C1.8,0 2.6,1 2.9,2.6 L3.6,5.6 L4.6,7.4 L10.8,4.2 L12.6,4.6 L12.2,6.2 L6,9.6 C7.4,14 8.6,20 9.2,27 L14,31.5 L16,33.2 L14.6,34.6 L8.8,33 C7,35 4.6,36.4 2,36.8 L0.8,41 L-0.8,41 L-2,36.8 C-4.6,36.4 -7,35 -8.8,33 L-14.6,34.6 L-16,33.2 L-14,31.5 L-9.2,27 C-8.6,20 -7.4,14 -6,9.6 L-12.2,6.2 L-12.6,4.6 L-10.8,4.2 L-4.6,7.4 L-3.6,5.6 L-2.9,2.6 C-2.6,1 -1.8,0 0,0 Z" transform="translate(327.2,325.5) rotate(5.0) translate(0,-20) scale(0.96,0.98)" fill="url(#mg)"/>
<path d="M0,0 C1.8,0 2.6,1 2.9,2.6 L3.6,5.6 L4.6,7.4 L10.8,4.2 L12.6,4.6 L12.2,6.2 L6,9.6 C7.4,14 8.6,20 9.2,27 L14,31.5 L16,33.2 L14.6,34.6 L8.8,33 C7,35 4.6,36.4 2,36.8 L0.8,41 L-0.8,41 L-2,36.8 C-4.6,36.4 -7,35 -8.8,33 L-14.6,34.6 L-16,33.2 L-14,31.5 L-9.2,27 C-8.6,20 -7.4,14 -6,9.6 L-12.2,6.2 L-12.6,4.6 L-10.8,4.2 L-4.6,7.4 L-3.6,5.6 L-2.9,2.6 C-2.6,1 -1.8,0 0,0 Z" transform="translate(355.8,325.5) rotate(2.0) translate(0,-20) scale(1.07,1.03)" fill="#606060" opacity="0.5"/>
<path d="M0,0 C1.8,0 2.6,1 2.9,2.6 L3.6,5.6 L4.6,7.4 L10.8,4.2 L12.6,4.6 L12.2,6.2 L6,9.6 C7.4,14 8.6,20 9.2,27 L14,31.5 L16,33.2 L14.6,34.6 L8.8,33 C7,35 4.6,36.4 2,36.8 L0.8,41 L-0.8,41 L-2,36.8 C-4.6,36.4 -7,35 -8.8,33 L-14.6,34.6 L-16,33.2 L-14,31.5 L-9.2,27 C-8.6,20 -7.4,14 -6,9.6 L-12.2,6.2 L-12.6,4.6 L-10.8,4.2 L-4.6,7.4 L-3.6,5.6 L-2.9,2.6 C-2.6,1 -1.8,0 0,0 Z" transform="translate(355.8,325.5) rotate(2.0) translate(0,-20) scale(0.97,0.98)" fill="url(#mg)"/>
<path d="M0,0 C1.8,0 2.6,1 2.9,2.6 L3.6,5.6 L4.6,7.4 L10.8,4.2 L12.6,4.6 L12.2,6.2 L6,9.6 C7.4,14 8.6,20 9.2,27 L14,31.5 L16,33.2 L14.6,34.6 L8.8,33 C7,35 4.6,36.4 2,36.8 L0.8,41 L-0.8,41 L-2,36.8 C-4.6,36.4 -7,35 -8.8,33 L-14.6,34.6 L-16,33.2 L-14,31.5 L-9.2,27 C-8.6,20 -7.4,14 -6,9.6 L-12.2,6.2 L-12.6,4.6 L-10.8,4.2 L-4.6,7.4 L-3.6,5.6 L-2.9,2.6 C-2.6,1 -1.8,0 0,0 Z" transform="translate(386.0,325.5) rotate(0.0) translate(0,-20) scale(1.07,1.03)" fill="#606060" opacity="0.5"/>
<path d="M0,0 C1.8,0 2.6,1 2.9,2.6 L3.6,5.6 L4.6,7.4 L10.8,4.2 L12.6,4.6 L12.2,6.2 L6,9.6 C7.4,14 8.6,20 9.2,27 L14,31.5 L16,33.2 L14.6,34.6 L8.8,33 C7,35 4.6,36.4 2,36.8 L0.8,41 L-0.8,41 L-2,36.8 C-4.6,36.4 -7,35 -8.8,33 L-14.6,34.6 L-16,33.2 L-14,31.5 L-9.2,27 C-8.6,20 -7.4,14 -6,9.6 L-12.2,6.2 L-12.6,4.6 L-10.8,4.2 L-4.6,7.4 L-3.6,5.6 L-2.9,2.6 C-2.6,1 -1.8,0 0,0 Z" transform="translate(386.0,325.5) rotate(0.0) translate(0,-20) scale(0.97,0.98)" fill="url(#mg)"/>
<path d="M0,0 C1.8,0 2.6,1 2.9,2.6 L3.6,5.6 L4.6,7.4 L10.8,4.2 L12.6,4.6 L12.2,6.2 L6,9.6 C7.4,14 8.6,20 9.2,27 L14,31.5 L16,33.2 L14.6,34.6 L8.8,33 C7,35 4.6,36.4 2,36.8 L0.8,41 L-0.8,41 L-2,36.8 C-4.6,36.4 -7,35 -8.8,33 L-14.6,34.6 L-16,33.2 L-14,31.5 L-9.2,27 C-8.6,20 -7.4,14 -6,9.6 L-12.2,6.2 L-12.6,4.6 L-10.8,4.2 L-4.6,7.4 L-3.6,5.6 L-2.9,2.6 C-2.6,1 -1.8,0 0,0 Z" transform="translate(419.3,325.5) rotate(-2.0) translate(0,-20) scale(1.14,1.03)" fill="#606060" opacity="0.5"/>
<path d="M0,0 C1.8,0 2.6,1 2.9,2.6 L3.6,5.6 L4.6,7.4 L10.8,4.2 L12.6,4.6 L12.2,6.2 L6,9.6 C7.4,14 8.6,20 9.2,27 L14,31.5 L16,33.2 L14.6,34.6 L8.8,33 C7,35 4.6,36.4 2,36.8 L0.8,41 L-0.8,41 L-2,36.8 C-4.6,36.4 -7,35 -8.8,33 L-14.6,34.6 L-16,33.2 L-14,31.5 L-9.2,27 C-8.6,20 -7.4,14 -6,9.6 L-12.2,6.2 L-12.6,4.6 L-10.8,4.2 L-4.6,7.4 L-3.6,5.6 L-2.9,2.6 C-2.6,1 -1.8,0 0,0 Z" transform="translate(419.3,325.5) rotate(-2.0) translate(0,-20) scale(1.03,0.98)" fill="url(#mg)"/>
<path d="M0,0 C1.8,0 2.6,1 2.9,2.6 L3.6,5.6 L4.6,7.4 L10.8,4.2 L12.6,4.6 L12.2,6.2 L6,9.6 C7.4,14 8.6,20 9.2,27 L14,31.5 L16,33.2 L14.6,34.6 L8.8,33 C7,35 4.6,36.4 2,36.8 L0.8,41 L-0.8,41 L-2,36.8 C-4.6,36.4 -7,35 -8.8,33 L-14.6,34.6 L-16,33.2 L-14,31.5 L-9.2,27 C-8.6,20 -7.4,14 -6,9.6 L-12.2,6.2 L-12.6,4.6 L-10.8,4.2 L-4.6,7.4 L-3.6,5.6 L-2.9,2.6 C-2.6,1 -1.8,0 0,0 Z" transform="translate(451.8,325.5) rotate(2.0) translate(0,-20) scale(1.07,1.03)" fill="#606060" opacity="0.5"/>
<path d="M0,0 C1.8,0 2.6,1 2.9,2.6 L3.6,5.6 L4.6,7.4 L10.8,4.2 L12.6,4.6 L12.2,6.2 L6,9.6 C7.4,14 8.6,20 9.2,27 L14,31.5 L16,33.2 L14.6,34.6 L8.8,33 C7,35 4.6,36.4 2,36.8 L0.8,41 L-0.8,41 L-2,36.8 C-4.6,36.4 -7,35 -8.8,33 L-14.6,34.6 L-16,33.2 L-14,31.5 L-9.2,27 C-8.6,20 -7.4,14 -6,9.6 L-12.2,6.2 L-12.6,4.6 L-10.8,4.2 L-4.6,7.4 L-3.6,5.6 L-2.9,2.6 C-2.6,1 -1.8,0 0,0 Z" transform="translate(451.8,325.5) rotate(2.0) translate(0,-20) scale(0.97,0.98)" fill="url(#mg)"/>
</g>
<g filter="url(#bl)">
<ellipse cx="329.5" cy="47.0" rx="4.42" ry="13.60" fill="#c0b2f0" opacity="0.4"/>
<ellipse cx="329.5" cy="47.0" rx="2.60" ry="8.00" fill="#3a1f94"/>
<ellipse cx="329.5" cy="47.0" rx="2.03" ry="6.24" fill="#2c3cc4"/>
<ellipse cx="329.5" cy="47.0" rx="1.30" ry="4.00" fill="#5070e0"/>
<ellipse cx="321.0" cy="40.0" rx="3.93" ry="4.64" fill="#c0b2f0" opacity="0.4"/>
<ellipse cx="321.0" cy="40.0" rx="2.31" ry="2.73" fill="#3a1a9a"/>
<ellipse cx="321.0" cy="40.0" rx="1.71" ry="2.02" fill="#4c30b8"/>
<ellipse cx="321.0" cy="40.0" rx="0.97" ry="1.15" fill="#8a7ad4"/>
<ellipse cx="327.9" cy="36.9" rx="5.78" ry="6.46" fill="#c0b2f0" opacity="0.4"/>
<ellipse cx="327.9" cy="36.9" rx="3.40" ry="3.80" fill="#3a1f94"/>
<ellipse cx="327.9" cy="36.9" rx="3.06" ry="3.42" fill="#2c3cc4"/>
<ellipse cx="327.9" cy="36.9" rx="2.86" ry="3.19" fill="#2aa6d4"/>
<ellipse cx="327.9" cy="36.9" rx="2.69" ry="3.00" fill="#62c24a"/>
<ellipse cx="327.9" cy="36.9" rx="2.55" ry="2.85" fill="#e0dc20"/>
<ellipse cx="327.9" cy="36.9" rx="2.41" ry="2.70" fill="#ec6a14"/>
<ellipse cx="327.9" cy="36.9" rx="2.28" ry="2.55" fill="#e01414"/>
<ellipse cx="318.1" cy="53.5" rx="6.12" ry="6.46" fill="#c0b2f0" opacity="0.4"/>
<ellipse cx="318.1" cy="53.5" rx="3.60" ry="3.80" fill="#3a1f94"/>
<ellipse cx="318.1" cy="53.5" rx="3.24" ry="3.42" fill="#2c3cc4"/>
<ellipse cx="318.1" cy="53.5" rx="3.02" ry="3.19" fill="#2aa6d4"/>
<ellipse cx="318.1" cy="53.5" rx="2.84" ry="3.00" fill="#62c24a"/>
<ellipse cx="318.1" cy="53.5" rx="2.70" ry="2.85" fill="#e0dc20"/>
<ellipse cx="318.1" cy="53.5" rx="2.56" ry="2.70" fill="#ec6a14"/>
<ellipse cx="318.1" cy="53.5" rx="2.41" ry="2.55" fill="#e01414"/>
<ellipse cx="325.5" cy="58.3" rx="6.46" ry="5.78" fill="#c0b2f0" opacity="0.4"/>
<ellipse cx="325.5" cy="58.3" rx="3.80" ry="3.40" fill="#3a1f94"/>
<ellipse cx="325.5" cy="58.3" rx="3.12" ry="2.79" fill="#2c3cc4"/>
<ellipse cx="325.5" cy="58.3" rx="2.43" ry="2.18" fill="#2aa6d4"/>
<ellipse cx="325.5" cy="58.3" rx="1.75" ry="1.56" fill="#62c24a"/>
<ellipse cx="325.5" cy="58.3" rx="1.14" ry="1.02" fill="#c8d830"/>
<ellipse cx="330.5" cy="53.0" rx="2.72" ry="4.08" fill="#c0b2f0" opacity="0.4"/>
<ellipse cx="330.5" cy="53.0" rx="1.60" ry="2.40" fill="#3a1f94"/>
<ellipse cx="330.5" cy="53.0" rx="1.25" ry="1.87" fill="#2c3cc4"/>
<ellipse cx="330.5" cy="53.0" rx="0.80" ry="1.20" fill="#5070e0"/>
<ellipse cx="355.6" cy="42.5" rx="4.42" ry="6.80" fill="#c0b2f0" opacity="0.4"/>
<ellipse cx="355.6" cy="42.5" rx="2.60" ry="4.00" fill="#3a1f94"/>
<ellipse cx="355.6" cy="42.5" rx="2.03" ry="3.12" fill="#2c3cc4"/>
<ellipse cx="355.6" cy="42.5" rx="1.30" ry="2.00" fill="#5070e0"/>
<ellipse cx="358.1" cy="54.8" rx="10.54" ry="10.88" fill="#c0b2f0" opacity="0.4"/>
<ellipse cx="358.1" cy="54.8" rx="6.20" ry="6.40" fill="#3a1f94"/>
<ellipse cx="358.1" cy="54.8" rx="5.58" ry="5.76" fill="#2c3cc4"/>
<ellipse cx="358.1" cy="54.8" rx="5.21" ry="5.38" fill="#2aa6d4"/>
<ellipse cx="358.1" cy="54.8" rx="4.90" ry="5.06" fill="#62c24a"/>
<ellipse cx="358.1" cy="54.8" rx="4.65" ry="4.80" fill="#e0dc20"/>
<ellipse cx="358.1" cy="54.8" rx="4.40" ry="4.54" fill="#ec6a14"/>
<ellipse cx="358.1" cy="54.8" rx="4.15" ry="4.29" fill="#e01414"/>
<ellipse cx="354.4" cy="48.0" rx="3.74" ry="3.74" fill="#c0b2f0" opacity="0.4"/>
<ellipse cx="354.4" cy="48.0" rx="2.20" ry="2.20" fill="#3a1f94"/>
<ellipse cx="354.4" cy="48.0" rx="1.98" ry="1.98" fill="#2c3cc4"/>
<ellipse cx="354.4" cy="48.0" rx="1.85" ry="1.85" fill="#2aa6d4"/>
<ellipse cx="354.4" cy="48.0" rx="1.74" ry="1.74" fill="#62c24a"/>
<ellipse cx="354.4" cy="48.0" rx="1.65" ry="1.65" fill="#e0dc20"/>
<ellipse cx="354.4" cy="48.0" rx="1.56" ry="1.56" fill="#ec6a14"/>
<ellipse cx="354.4" cy="48.0" rx="1.47" ry="1.47" fill="#e01414"/>
<ellipse cx="361.0" cy="43.0" rx="2.50" ry="3.57" fill="#c0b2f0" opacity="0.4"/>
<ellipse cx="361.0" cy="43.0" rx="1.47" ry="2.10" fill="#3a1a9a"/>
<ellipse cx="361.0" cy="43.0" rx="1.09" ry="1.55" fill="#4c30b8"/>
<ellipse cx="361.0" cy="43.0" rx="0.62" ry="0.88" fill="#8a7ad4"/>
<ellipse cx="390.2" cy="37.5" rx="6.12" ry="7.82" fill="#c0b2f0" opacity="0.4"/>
<ellipse cx="390.2" cy="37.5" rx="3.60" ry="4.60" fill="#3a1f94"/>
<ellipse cx="390.2" cy="37.5" rx="3.24" ry="4.14" fill="#2c3cc4"/>
<ellipse cx="390.2" cy="37.5" rx="3.02" ry="3.86" fill="#2aa6d4"/>
<ellipse cx="390.2" cy="37.5" rx="2.84" ry="3.63" fill="#62c24a"/>
<ellipse cx="390.2" cy="37.5" rx="2.70" ry="3.45" fill="#e0dc20"/>
<ellipse cx="390.2" cy="37.5" rx="2.56" ry="3.27" fill="#ec6a14"/>
<ellipse cx="390.2" cy="37.5" rx="2.41" ry="3.08" fill="#e01414"/>
<ellipse cx="386.3" cy="43.6" rx="2.38" ry="2.38" fill="#c0b2f0" opacity="0.4"/>
<ellipse cx="386.3" cy="43.6" rx="1.40" ry="1.40" fill="#3a1f94"/>
<ellipse cx="386.3" cy="43.6" rx="1.09" ry="1.09" fill="#2c3cc4"/>
<ellipse cx="386.3" cy="43.6" rx="0.70" ry="0.70" fill="#5070e0"/>
<ellipse cx="391.0" cy="45.0" rx="2.14" ry="2.14" fill="#c0b2f0" opacity="0.4"/>
<ellipse cx="391.0" cy="45.0" rx="1.26" ry="1.26" fill="#3a1a9a"/>
<ellipse cx="391.0" cy="45.0" rx="0.93" ry="0.93" fill="#4c30b8"/>
<ellipse cx="391.0" cy="45.0" rx="0.53" ry="0.53" fill="#8a7ad4"/>
<ellipse cx="419.5" cy="47.0" rx="5.44" ry="6.80" fill="#c0b2f0" opacity="0.4"/>
<ellipse cx="419.5" cy="47.0" rx="3.20" ry="4.00" fill="#3a1f94"/>
<ellipse cx="419.5" cy="47.0" rx="2.50" ry="3.12" fill="#2c3cc4"/>
<ellipse cx="419.5" cy="47.0" rx="1.60" ry="2.00" fill="#5070e0"/>
<ellipse cx="414.6" cy="39.4" rx="6.12" ry="7.82" fill="#c0b2f0" opacity="0.4"/>
<ellipse cx="414.6" cy="39.4" rx="3.60" ry="4.60" fill="#3a1f94"/>
<ellipse cx="414.6" cy="39.4" rx="3.24" ry="4.14" fill="#2c3cc4"/>
<ellipse cx="414.6" cy="39.4" rx="3.02" ry="3.86" fill="#2aa6d4"/>
<ellipse cx="414.6" cy="39.4" rx="2.84" ry="3.63" fill="#62c24a"/>
<ellipse cx="414.6" cy="39.4" rx="2.70" ry="3.45" fill="#e0dc20"/>
<ellipse cx="414.6" cy="39.4" rx="2.56" ry="3.27" fill="#ec6a14"/>
<ellipse cx="414.6" cy="39.4" rx="2.41" ry="3.08" fill="#e01414"/>
<ellipse cx="414.2" cy="55.7" rx="5.44" ry="5.44" fill="#c0b2f0" opacity="0.4"/>
<ellipse cx="414.2" cy="55.7" rx="3.20" ry="3.20" fill="#3a1f94"/>
<ellipse cx="414.2" cy="55.7" rx="2.62" ry="2.62" fill="#2c3cc4"/>
<ellipse cx="414.2" cy="55.7" rx="2.05" ry="2.05" fill="#2aa6d4"/>
<ellipse cx="414.2" cy="55.7" rx="1.47" ry="1.47" fill="#62c24a"/>
<ellipse cx="414.2" cy="55.7" rx="0.96" ry="0.96" fill="#c8d830"/>
<ellipse cx="425.8" cy="58.6" rx="5.44" ry="5.10" fill="#c0b2f0" opacity="0.4"/>
<ellipse cx="425.8" cy="58.6" rx="3.20" ry="3.00" fill="#3a1f94"/>
<ellipse cx="425.8" cy="58.6" rx="2.88" ry="2.70" fill="#2c3cc4"/>
<ellipse cx="425.8" cy="58.6" rx="2.69" ry="2.52" fill="#2aa6d4"/>
<ellipse cx="425.8" cy="58.6" rx="2.53" ry="2.37" fill="#62c24a"/>
<ellipse cx="425.8" cy="58.6" rx="2.40" ry="2.25" fill="#e0dc20"/>
<ellipse cx="425.8" cy="58.6" rx="2.27" ry="2.13" fill="#ec6a14"/>
<ellipse cx="425.8" cy="58.6" rx="2.14" ry="2.01" fill="#e01414"/>
<ellipse cx="420.5" cy="60.5" rx="4.08" ry="3.74" fill="#c0b2f0" opacity="0.4"/>
<ellipse cx="420.5" cy="60.5" rx="2.40" ry="2.20" fill="#3a1f94"/>
<ellipse cx="420.5" cy="60.5" rx="2.16" ry="1.98" fill="#2c3cc4"/>
<ellipse cx="420.5" cy="60.5" rx="2.02" ry="1.85" fill="#2aa6d4"/>
<ellipse cx="420.5" cy="60.5" rx="1.90" ry="1.74" fill="#62c24a"/>
<ellipse cx="420.5" cy="60.5" rx="1.80" ry="1.65" fill="#e0dc20"/>
<ellipse cx="420.5" cy="60.5" rx="1.70" ry="1.56" fill="#ec6a14"/>
<ellipse cx="420.5" cy="60.5" rx="1.61" ry="1.47" fill="#e01414"/>
<ellipse cx="423.0" cy="37.5" rx="2.72" ry="5.10" fill="#c0b2f0" opacity="0.4"/>
<ellipse cx="423.0" cy="37.5" rx="1.60" ry="3.00" fill="#3a1f94"/>
<ellipse cx="423.0" cy="37.5" rx="1.25" ry="2.34" fill="#2c3cc4"/>
<ellipse cx="423.0" cy="37.5" rx="0.80" ry="1.50" fill="#5070e0"/>
<ellipse cx="453.7" cy="36.5" rx="6.43" ry="6.43" fill="#c0b2f0" opacity="0.4"/>
<ellipse cx="453.7" cy="36.5" rx="3.78" ry="3.78" fill="#3a1a9a"/>
<ellipse cx="453.7" cy="36.5" rx="2.80" ry="2.80" fill="#4c30b8"/>
<ellipse cx="453.7" cy="36.5" rx="1.59" ry="1.59" fill="#8a7ad4"/>
<ellipse cx="448.8" cy="40.3" rx="2.50" ry="2.50" fill="#c0b2f0" opacity="0.4"/>
<ellipse cx="448.8" cy="40.3" rx="1.47" ry="1.47" fill="#3a1a9a"/>
<ellipse cx="448.8" cy="40.3" rx="1.09" ry="1.09" fill="#4c30b8"/>
<ellipse cx="448.8" cy="40.3" rx="0.62" ry="0.62" fill="#8a7ad4"/>
<ellipse cx="459.4" cy="40.3" rx="2.50" ry="2.50" fill="#c0b2f0" opacity="0.4"/>
<ellipse cx="459.4" cy="40.3" rx="1.47" ry="1.47" fill="#3a1a9a"/>
<ellipse cx="459.4" cy="40.3" rx="1.09" ry="1.09" fill="#4c30b8"/>
<ellipse cx="459.4" cy="40.3" rx="0.62" ry="0.62" fill="#8a7ad4"/>
<ellipse cx="451.7" cy="58.6" rx="8.50" ry="9.18" fill="#c0b2f0" opacity="0.4"/>
<ellipse cx="451.7" cy="58.6" rx="5.00" ry="5.40" fill="#3a1f94"/>
<ellipse cx="451.7" cy="58.6" rx="4.50" ry="4.86" fill="#2c3cc4"/>
<ellipse cx="451.7" cy="58.6" rx="4.20" ry="4.54" fill="#2aa6d4"/>
<ellipse cx="451.7" cy="58.6" rx="3.95" ry="4.27" fill="#62c24a"/>
<ellipse cx="451.7" cy="58.6" rx="3.75" ry="4.05" fill="#e0dc20"/>
<ellipse cx="451.7" cy="58.6" rx="3.55" ry="3.83" fill="#ec6a14"/>
<ellipse cx="451.7" cy="58.6" rx="3.35" ry="3.62" fill="#e01414"/>
<ellipse cx="452.0" cy="46.0" rx="1.78" ry="1.78" fill="#c0b2f0" opacity="0.4"/>
<ellipse cx="452.0" cy="46.0" rx="1.05" ry="1.05" fill="#3a1a9a"/>
<ellipse cx="452.0" cy="46.0" rx="0.78" ry="0.78" fill="#4c30b8"/>
<ellipse cx="452.0" cy="46.0" rx="0.44" ry="0.44" fill="#8a7ad4"/>
<ellipse cx="317.0" cy="74.0" rx="4.64" ry="4.64" fill="#c0b2f0" opacity="0.4"/>
<ellipse cx="317.0" cy="74.0" rx="2.73" ry="2.73" fill="#3a1a9a"/>
<ellipse cx="317.0" cy="74.0" rx="2.02" ry="2.02" fill="#4c30b8"/>
<ellipse cx="317.0" cy="74.0" rx="1.15" ry="1.15" fill="#8a7ad4"/>
<ellipse cx="326.5" cy="82.0" rx="4.64" ry="4.64" fill="#c0b2f0" opacity="0.4"/>
<ellipse cx="326.5" cy="82.0" rx="2.73" ry="2.73" fill="#3a1a9a"/>
<ellipse cx="326.5" cy="82.0" rx="2.02" ry="2.02" fill="#4c30b8"/>
<ellipse cx="326.5" cy="82.0" rx="1.15" ry="1.15" fill="#8a7ad4"/>
<ellipse cx="318.6" cy="91.4" rx="4.64" ry="4.64" fill="#c0b2f0" opacity="0.4"/>
<ellipse cx="318.6" cy="91.4" rx="2.73" ry="2.73" fill="#3a1a9a"/>
<ellipse cx="318.6" cy="91.4" rx="2.02" ry="2.02" fill="#4c30b8"/>
<ellipse cx="318.6" cy="91.4" rx="1.15" ry="1.15" fill="#8a7ad4"/>
<ellipse cx="325.0" cy="96.0" rx="4.64" ry="4.64" fill="#c0b2f0" opacity="0.4"/>
<ellipse cx="325.0" cy="96.0" rx="2.73" ry="2.73" fill="#3a1a9a"/>
<ellipse cx="325.0" cy="96.0" rx="2.02" ry="2.02" fill="#4c30b8"/>
<ellipse cx="325.0" cy="96.0" rx="1.15" ry="1.15" fill="#8a7ad4"/>
<ellipse cx="321.0" cy="85.0" rx="2.86" ry="2.86" fill="#c0b2f0" opacity="0.4"/>
<ellipse cx="321.0" cy="85.0" rx="1.68" ry="1.68" fill="#3a1a9a"/>
<ellipse cx="321.0" cy="85.0" rx="1.24" ry="1.24" fill="#4c30b8"/>
<ellipse cx="321.0" cy="85.0" rx="0.71" ry="0.71" fill="#8a7ad4"/>
<ellipse cx="322.0" cy="77.0" rx="2.32" ry="2.32" fill="#c0b2f0" opacity="0.4"/>
<ellipse cx="322.0" cy="77.0" rx="1.37" ry="1.37" fill="#3a1a9a"/>
<ellipse cx="322.0" cy="77.0" rx="1.01" ry="1.01" fill="#4c30b8"/>
<ellipse cx="322.0" cy="77.0" rx="0.57" ry="0.57" fill="#8a7ad4"/>
<ellipse cx="347.0" cy="75.6" rx="5.44" ry="6.12" fill="#c0b2f0" opacity="0.4"/>
<ellipse cx="347.0" cy="75.6" rx="3.20" ry="3.60" fill="#3a1f94"/>
<ellipse cx="347.0" cy="75.6" rx="2.62" ry="2.95" fill="#2c3cc4"/>
<ellipse cx="347.0" cy="75.6" rx="2.05" ry="2.30" fill="#2aa6d4"/>
<ellipse cx="347.0" cy="75.6" rx="1.47" ry="1.66" fill="#62c24a"/>
<ellipse cx="347.0" cy="75.6" rx="0.96" ry="1.08" fill="#c8d830"/>
<ellipse cx="343.9" cy="89.8" rx="4.64" ry="4.64" fill="#c0b2f0" opacity="0.4"/>
<ellipse cx="343.9" cy="89.8" rx="2.73" ry="2.73" fill="#3a1a9a"/>
<ellipse cx="343.9" cy="89.8" rx="2.02" ry="2.02" fill="#4c30b8"/>
<ellipse cx="343.9" cy="89.8" rx="1.15" ry="1.15" fill="#8a7ad4"/>
<ellipse cx="352.7" cy="94.6" rx="3.93" ry="3.93" fill="#c0b2f0" opacity="0.4"/>
<ellipse cx="352.7" cy="94.6" rx="2.31" ry="2.31" fill="#3a1a9a"/>
<ellipse cx="352.7" cy="94.6" rx="1.71" ry="1.71" fill="#4c30b8"/>
<ellipse cx="352.7" cy="94.6" rx="0.97" ry="0.97" fill="#8a7ad4"/>
<ellipse cx="346.4" cy="97.5" rx="3.93" ry="3.93" fill="#c0b2f0" opacity="0.4"/>
<ellipse cx="346.4" cy="97.5" rx="2.31" ry="2.31" fill="#3a1a9a"/>
<ellipse cx="346.4" cy="97.5" rx="1.71" ry="1.71" fill="#4c30b8"/>
<ellipse cx="346.4" cy="97.5" rx="0.97" ry="0.97" fill="#8a7ad4"/>
<ellipse cx="353.0" cy="82.0" rx="2.50" ry="2.50" fill="#c0b2f0" opacity="0.4"/>
<ellipse cx="353.0" cy="82.0" rx="1.47" ry="1.47" fill="#3a1a9a"/>
<ellipse cx="353.0" cy="82.0" rx="1.09" ry="1.09" fill="#4c30b8"/>
<ellipse cx="353.0" cy="82.0" rx="0.62" ry="0.62" fill="#8a7ad4"/>
<ellipse cx="382.7" cy="80.4" rx="5.44" ry="6.12" fill="#c0b2f0" opacity="0.4"/>
<ellipse cx="382.7" cy="80.4" rx="3.20" ry="3.60" fill="#3a1f94"/>
<ellipse cx="382.7" cy="80.4" rx="2.69" ry="3.02" fill="#2c3cc4"/>
<ellipse cx="382.7" cy="80.4" rx="2.24" ry="2.52" fill="#2aa6d4"/>
<ellipse cx="382.7" cy="80.4" rx="1.79" ry="2.02" fill="#62c24a"/>
<ellipse cx="382.7" cy="80.4" rx="1.34" ry="1.51" fill="#e0dc20"/>
<ellipse cx="382.7" cy="80.4" rx="0.80" ry="0.90" fill="#e83818"/>
<ellipse cx="378.6" cy="72.5" rx="4.64" ry="4.64" fill="#c0b2f0" opacity="0.4"/>
<ellipse cx="378.6" cy="72.5" rx="2.73" ry="2.73" fill="#3a1a9a"/>
<ellipse cx="378.6" cy="72.5" rx="2.02" ry="2.02" fill="#4c30b8"/>
<ellipse cx="378.6" cy="72.5" rx="1.15" ry="1.15" fill="#8a7ad4"/>
<ellipse cx="388.0" cy="93.0" rx="4.64" ry="4.64" fill="#c0b2f0" opacity="0.4"/>
<ellipse cx="388.0" cy="93.0" rx="2.73" ry="2.73" fill="#3a1a9a"/>
<ellipse cx="388.0" cy="93.0" rx="2.02" ry="2.02" fill="#4c30b8"/>
<ellipse cx="388.0" cy="93.0" rx="1.15" ry="1.15" fill="#8a7ad4"/>
<ellipse cx="379.2" cy="97.5" rx="4.64" ry="4.64" fill="#c0b2f0" opacity="0.4"/>
<ellipse cx="379.2" cy="97.5" rx="2.73" ry="2.73" fill="#3a1a9a"/>
<ellipse cx="379.2" cy="97.5" rx="2.02" ry="2.02" fill="#4c30b8"/>
<ellipse cx="379.2" cy="97.5" rx="1.15" ry="1.15" fill="#8a7ad4"/>
<ellipse cx="386.0" cy="75.0" rx="2.50" ry="2.50" fill="#c0b2f0" opacity="0.4"/>
<ellipse cx="386.0" cy="75.0" rx="1.47" ry="1.47" fill="#3a1a9a"/>
<ellipse cx="386.0" cy="75.0" rx="1.09" ry="1.09" fill="#4c30b8"/>
<ellipse cx="386.0" cy="75.0" rx="0.62" ry="0.62" fill="#8a7ad4"/>
<ellipse cx="416.4" cy="83.5" rx="4.64" ry="4.64" fill="#c0b2f0" opacity="0.4"/>
<ellipse cx="416.4" cy="83.5" rx="2.73" ry="2.73" fill="#3a1a9a"/>
<ellipse cx="416.4" cy="83.5" rx="2.02" ry="2.02" fill="#4c30b8"/>
<ellipse cx="416.4" cy="83.5" rx="1.15" ry="1.15" fill="#8a7ad4"/>
<ellipse cx="413.3" cy="96.1" rx="5.71" ry="5.36" fill="#c0b2f0" opacity="0.4"/>
<ellipse cx="413.3" cy="96.1" rx="3.36" ry="3.15" fill="#3a1a9a"/>
<ellipse cx="413.3" cy="96.1" rx="2.49" ry="2.33" fill="#4c30b8"/>
<ellipse cx="413.3" cy="96.1" rx="1.41" ry="1.32" fill="#8a7ad4"/>
<ellipse cx="418.5" cy="91.4" rx="3.93" ry="3.93" fill="#c0b2f0" opacity="0.4"/>
<ellipse cx="418.5" cy="91.4" rx="2.31" ry="2.31" fill="#3a1a9a"/>
<ellipse cx="418.5" cy="91.4" rx="1.71" ry="1.71" fill="#4c30b8"/>
<ellipse cx="418.5" cy="91.4" rx="0.97" ry="0.97" fill="#8a7ad4"/>
<ellipse cx="414.0" cy="76.0" rx="2.86" ry="2.86" fill="#c0b2f0" opacity="0.4"/>
<ellipse cx="414.0" cy="76.0" rx="1.68" ry="1.68" fill="#3a1a9a"/>
<ellipse cx="414.0" cy="76.0" rx="1.24" ry="1.24" fill="#4c30b8"/>
<ellipse cx="414.0" cy="76.0" rx="0.71" ry="0.71" fill="#8a7ad4"/>
<ellipse cx="420.0" cy="80.0" rx="2.14" ry="2.14" fill="#c0b2f0" opacity="0.4"/>
<ellipse cx="420.0" cy="80.0" rx="1.26" ry="1.26" fill="#3a1a9a"/>
<ellipse cx="420.0" cy="80.0" rx="0.93" ry="0.93" fill="#4c30b8"/>
<ellipse cx="420.0" cy="80.0" rx="0.53" ry="0.53" fill="#8a7ad4"/>
<ellipse cx="451.1" cy="74.0" rx="4.64" ry="4.64" fill="#c0b2f0" opacity="0.4"/>
<ellipse cx="451.1" cy="74.0" rx="2.73" ry="2.73" fill="#3a1a9a"/>
<ellipse cx="451.1" cy="74.0" rx="2.02" ry="2.02" fill="#4c30b8"/>
<ellipse cx="451.1" cy="74.0" rx="1.15" ry="1.15" fill="#8a7ad4"/>
<ellipse cx="453.6" cy="79.0" rx="3.93" ry="3.93" fill="#c0b2f0" opacity="0.4"/>
<ellipse cx="453.6" cy="79.0" rx="2.31" ry="2.31" fill="#3a1a9a"/>
<ellipse cx="453.6" cy="79.0" rx="1.71" ry="1.71" fill="#4c30b8"/>
<ellipse cx="453.6" cy="79.0" rx="0.97" ry="0.97" fill="#8a7ad4"/>
<ellipse cx="449.5" cy="86.7" rx="4.64" ry="4.64" fill="#c0b2f0" opacity="0.4"/>
<ellipse cx="449.5" cy="86.7" rx="2.73" ry="2.73" fill="#3a1a9a"/>
<ellipse cx="449.5" cy="86.7" rx="2.02" ry="2.02" fill="#4c30b8"/>
<ellipse cx="449.5" cy="86.7" rx="1.15" ry="1.15" fill="#8a7ad4"/>
<ellipse cx="449.5" cy="96.1" rx="6.43" ry="5.36" fill="#c0b2f0" opacity="0.4"/>
<ellipse cx="449.5" cy="96.1" rx="3.78" ry="3.15" fill="#3a1a9a"/>
<ellipse cx="449.5" cy="96.1" rx="2.80" ry="2.33" fill="#4c30b8"/>
<ellipse cx="449.5" cy="96.1" rx="1.59" ry="1.32" fill="#8a7ad4"/>
<ellipse cx="456.0" cy="96.0" rx="4.64" ry="4.64" fill="#c0b2f0" opacity="0.4"/>
<ellipse cx="456.0" cy="96.0" rx="2.73" ry="2.73" fill="#3a1a9a"/>
<ellipse cx="456.0" cy="96.0" rx="2.02" ry="2.02" fill="#4c30b8"/>
<ellipse cx="456.0" cy="96.0" rx="1.15" ry="1.15" fill="#8a7ad4"/>
<ellipse cx="447.0" cy="79.0" rx="2.50" ry="2.50" fill="#c0b2f0" opacity="0.4"/>
<ellipse cx="447.0" cy="79.0" rx="1.47" ry="1.47" fill="#3a1a9a"/>
<ellipse cx="447.0" cy="79.0" rx="1.09" ry="1.09" fill="#4c30b8"/>
<ellipse cx="447.0" cy="79.0" rx="0.62" ry="0.62" fill="#8a7ad4"/>
<ellipse cx="320.2" cy="116.0" rx="4.64" ry="4.64" fill="#c0b2f0" opacity="0.4"/>
<ellipse cx="320.2" cy="116.0" rx="2.73" ry="2.73" fill="#3a1a9a"/>
<ellipse cx="320.2" cy="116.0" rx="2.02" ry="2.02" fill="#4c30b8"/>
<ellipse cx="320.2" cy="116.0" rx="1.15" ry="1.15" fill="#8a7ad4"/>
<ellipse cx="329.7" cy="126.7" rx="4.42" ry="4.76" fill="#c0b2f0" opacity="0.4"/>
<ellipse cx="329.7" cy="126.7" rx="2.60" ry="2.80" fill="#3a1f94"/>
<ellipse cx="329.7" cy="126.7" rx="2.18" ry="2.35" fill="#2c3cc4"/>
<ellipse cx="329.7" cy="126.7" rx="1.82" ry="1.96" fill="#2aa6d4"/>
<ellipse cx="329.7" cy="126.7" rx="1.46" ry="1.57" fill="#62c24a"/>
<ellipse cx="329.7" cy="126.7" rx="1.09" ry="1.18" fill="#e0dc20"/>
<ellipse cx="329.7" cy="126.7" rx="0.65" ry="0.70" fill="#e83818"/>
<ellipse cx="326.5" cy="119.8" rx="2.86" ry="2.86" fill="#c0b2f0" opacity="0.4"/>
<ellipse cx="326.5" cy="119.8" rx="1.68" ry="1.68" fill="#3a1a9a"/>
<ellipse cx="326.5" cy="119.8" rx="1.24" ry="1.24" fill="#4c30b8"/>
<ellipse cx="326.5" cy="119.8" rx="0.71" ry="0.71" fill="#8a7ad4"/>
<ellipse cx="318.6" cy="134.9" rx="5.71" ry="4.64" fill="#c0b2f0" opacity="0.4"/>
<ellipse cx="318.6" cy="134.9" rx="3.36" ry="2.73" fill="#3a1a9a"/>
<ellipse cx="318.6" cy="134.9" rx="2.49" ry="2.02" fill="#4c30b8"/>
<ellipse cx="318.6" cy="134.9" rx="1.41" ry="1.15" fill="#8a7ad4"/>
<ellipse cx="328.1" cy="134.0" rx="5.71" ry="5.36" fill="#c0b2f0" opacity="0.4"/>
<ellipse cx="328.1" cy="134.0" rx="3.36" ry="3.15" fill="#3a1a9a"/>
<ellipse cx="328.1" cy="134.0" rx="2.49" ry="2.33" fill="#4c30b8"/>
<ellipse cx="328.1" cy="134.0" rx="1.41" ry="1.32" fill="#8a7ad4"/>
<ellipse cx="354.9" cy="122.9" rx="9.52" ry="6.80" fill="#c0b2f0" opacity="0.4"/>
<ellipse cx="354.9" cy="122.9" rx="5.60" ry="4.00" fill="#3a1f94"/>
<ellipse cx="354.9" cy="122.9" rx="4.59" ry="3.28" fill="#2c3cc4"/>
<ellipse cx="354.9" cy="122.9" rx="3.58" ry="2.56" fill="#2aa6d4"/>
<ellipse cx="354.9" cy="122.9" rx="2.58" ry="1.84" fill="#62c24a"/>
<ellipse cx="354.9" cy="122.9" rx="1.68" ry="1.20" fill="#c8d830"/>
<ellipse cx="347.0" cy="118.2" rx="3.93" ry="3.93" fill="#c0b2f0" opacity="0.4"/>
<ellipse cx="347.0" cy="118.2" rx="2.31" ry="2.31" fill="#3a1a9a"/>
<ellipse cx="347.0" cy="118.2" rx="1.71" ry="1.71" fill="#4c30b8"/>
<ellipse cx="347.0" cy="118.2" rx="0.97" ry="0.97" fill="#8a7ad4"/>
<ellipse cx="361.2" cy="116.6" rx="3.93" ry="3.93" fill="#c0b2f0" opacity="0.4"/>
<ellipse cx="361.2" cy="116.6" rx="2.31" ry="2.31" fill="#3a1a9a"/>
<ellipse cx="361.2" cy="116.6" rx="1.71" ry="1.71" fill="#4c30b8"/>
<ellipse cx="361.2" cy="116.6" rx="0.97" ry="0.97" fill="#8a7ad4"/>
<ellipse cx="356.5" cy="137.1" rx="3.93" ry="3.93" fill="#c0b2f0" opacity="0.4"/>
<ellipse cx="356.5" cy="137.1" rx="2.31" ry="2.31" fill="#3a1a9a"/>
<ellipse cx="356.5" cy="137.1" rx="1.71" ry="1.71" fill="#4c30b8"/>
<ellipse cx="356.5" cy="137.1" rx="0.97" ry="0.97" fill="#8a7ad4"/>
<ellipse cx="350.0" cy="136.0" rx="2.86" ry="2.86" fill="#c0b2f0" opacity="0.4"/>
<ellipse cx="350.0" cy="136.0" rx="1.68" ry="1.68" fill="#3a1a9a"/>
<ellipse cx="350.0" cy="136.0" rx="1.24" ry="1.24" fill="#4c30b8"/>
<ellipse cx="350.0" cy="136.0" rx="0.71" ry="0.71" fill="#8a7ad4"/>
<ellipse cx="381.7" cy="115.0" rx="4.64" ry="4.64" fill="#c0b2f0" opacity="0.4"/>
<ellipse cx="381.7" cy="115.0" rx="2.73" ry="2.73" fill="#3a1a9a"/>
<ellipse cx="381.7" cy="115.0" rx="2.02" ry="2.02" fill="#4c30b8"/>
<ellipse cx="381.7" cy="115.0" rx="1.15" ry="1.15" fill="#8a7ad4"/>
<ellipse cx="389.6" cy="126.1" rx="3.93" ry="4.64" fill="#c0b2f0" opacity="0.4"/>
<ellipse cx="389.6" cy="126.1" rx="2.31" ry="2.73" fill="#3a1a9a"/>
<ellipse cx="389.6" cy="126.1" rx="1.71" ry="2.02" fill="#4c30b8"/>
<ellipse cx="389.6" cy="126.1" rx="0.97" ry="1.15" fill="#8a7ad4"/>
<ellipse cx="380.1" cy="134.0" rx="5.36" ry="5.36" fill="#c0b2f0" opacity="0.4"/>
<ellipse cx="380.1" cy="134.0" rx="3.15" ry="3.15" fill="#3a1a9a"/>
<ellipse cx="380.1" cy="134.0" rx="2.33" ry="2.33" fill="#4c30b8"/>
<ellipse cx="380.1" cy="134.0" rx="1.32" ry="1.32" fill="#8a7ad4"/>
<ellipse cx="391.2" cy="135.5" rx="5.36" ry="5.36" fill="#c0b2f0" opacity="0.4"/>
<ellipse cx="391.2" cy="135.5" rx="3.15" ry="3.15" fill="#3a1a9a"/>
<ellipse cx="391.2" cy="135.5" rx="2.33" ry="2.33" fill="#4c30b8"/>
<ellipse cx="391.2" cy="135.5" rx="1.32" ry="1.32" fill="#8a7ad4"/>
<ellipse cx="414.8" cy="108.7" rx="4.64" ry="4.64" fill="#c0b2f0" opacity="0.4"/>
<ellipse cx="414.8" cy="108.7" rx="2.73" ry="2.73" fill="#3a1a9a"/>
<ellipse cx="414.8" cy="108.7" rx="2.02" ry="2.02" fill="#4c30b8"/>
<ellipse cx="414.8" cy="108.7" rx="1.15" ry="1.15" fill="#8a7ad4"/>
<ellipse cx="416.4" cy="127.7" rx="8.21" ry="5.71" fill="#c0b2f0" opacity="0.4"/>
<ellipse cx="416.4" cy="127.7" rx="4.83" ry="3.36" fill="#3a1a9a"/>
<ellipse cx="416.4" cy="127.7" rx="3.57" ry="2.49" fill="#4c30b8"/>
<ellipse cx="416.4" cy="127.7" rx="2.03" ry="1.41" fill="#8a7ad4"/>
<ellipse cx="411.7" cy="135.5" rx="5.36" ry="5.36" fill="#c0b2f0" opacity="0.4"/>
<ellipse cx="411.7" cy="135.5" rx="3.15" ry="3.15" fill="#3a1a9a"/>
<ellipse cx="411.7" cy="135.5" rx="2.33" ry="2.33" fill="#4c30b8"/>
<ellipse cx="411.7" cy="135.5" rx="1.32" ry="1.32" fill="#8a7ad4"/>
<ellipse cx="421.1" cy="134.0" rx="5.36" ry="5.36" fill="#c0b2f0" opacity="0.4"/>
<ellipse cx="421.1" cy="134.0" rx="3.15" ry="3.15" fill="#3a1a9a"/>
<ellipse cx="421.1" cy="134.0" rx="2.33" ry="2.33" fill="#4c30b8"/>
<ellipse cx="421.1" cy="134.0" rx="1.32" ry="1.32" fill="#8a7ad4"/>
<ellipse cx="418.0" cy="117.0" rx="2.86" ry="2.86" fill="#c0b2f0" opacity="0.4"/>
<ellipse cx="418.0" cy="117.0" rx="1.68" ry="1.68" fill="#3a1a9a"/>
<ellipse cx="418.0" cy="117.0" rx="1.24" ry="1.24" fill="#4c30b8"/>
<ellipse cx="418.0" cy="117.0" rx="0.71" ry="0.71" fill="#8a7ad4"/>
<ellipse cx="453.6" cy="117.2" rx="4.64" ry="4.64" fill="#c0b2f0" opacity="0.4"/>
<ellipse cx="453.6" cy="117.2" rx="2.73" ry="2.73" fill="#3a1a9a"/>
<ellipse cx="453.6" cy="117.2" rx="2.02" ry="2.02" fill="#4c30b8"/>
<ellipse cx="453.6" cy="117.2" rx="1.15" ry="1.15" fill="#8a7ad4"/>
<ellipse cx="449.5" cy="124.5" rx="3.93" ry="3.93" fill="#c0b2f0" opacity="0.4"/>
<ellipse cx="449.5" cy="124.5" rx="2.31" ry="2.31" fill="#3a1a9a"/>
<ellipse cx="449.5" cy="124.5" rx="1.71" ry="1.71" fill="#4c30b8"/>
<ellipse cx="449.5" cy="124.5" rx="0.97" ry="0.97" fill="#8a7ad4"/>
<ellipse cx="449.5" cy="135.5" rx="6.12" ry="5.10" fill="#c0b2f0" opacity="0.4"/>
<ellipse cx="449.5" cy="135.5" rx="3.60" ry="3.00" fill="#3a1f94"/>
<ellipse cx="449.5" cy="135.5" rx="3.02" ry="2.52" fill="#2c3cc4"/>
<ellipse cx="449.5" cy="135.5" rx="2.52" ry="2.10" fill="#2aa6d4"/>
<ellipse cx="449.5" cy="135.5" rx="2.02" ry="1.68" fill="#62c24a"/>
<ellipse cx="449.5" cy="135.5" rx="1.51" ry="1.26" fill="#e0dc20"/>
<ellipse cx="449.5" cy="135.5" rx="0.90" ry="0.75" fill="#e83818"/>
<ellipse cx="455.8" cy="134.0" rx="5.36" ry="5.36" fill="#c0b2f0" opacity="0.4"/>
<ellipse cx="455.8" cy="134.0" rx="3.15" ry="3.15" fill="#3a1a9a"/>
<ellipse cx="455.8" cy="134.0" rx="2.33" ry="2.33" fill="#4c30b8"/>
<ellipse cx="455.8" cy="134.0" rx="1.32" ry="1.32" fill="#8a7ad4"/>
<ellipse cx="325.6" cy="153.8" rx="5.36" ry="5.36" fill="#c0b2f0" opacity="0.4"/>
<ellipse cx="325.6" cy="153.8" rx="3.15" ry="3.15" fill="#3a1a9a"/>
<ellipse cx="325.6" cy="153.8" rx="2.33" ry="2.33" fill="#4c30b8"/>
<ellipse cx="325.6" cy="153.8" rx="1.32" ry="1.32" fill="#8a7ad4"/>
<ellipse cx="320.2" cy="171.8" rx="3.93" ry="3.93" fill="#c0b2f0" opacity="0.4"/>
<ellipse cx="320.2" cy="171.8" rx="2.31" ry="2.31" fill="#3a1a9a"/>
<ellipse cx="320.2" cy="171.8" rx="1.71" ry="1.71" fill="#4c30b8"/>
<ellipse cx="320.2" cy="171.8" rx="0.97" ry="0.97" fill="#8a7ad4"/>
<ellipse cx="318.6" cy="175.5" rx="3.93" ry="3.93" fill="#c0b2f0" opacity="0.4"/>
<ellipse cx="318.6" cy="175.5" rx="2.31" ry="2.31" fill="#3a1a9a"/>
<ellipse cx="318.6" cy="175.5" rx="1.71" ry="1.71" fill="#4c30b8"/>
<ellipse cx="318.6" cy="175.5" rx="0.97" ry="0.97" fill="#8a7ad4"/>
<ellipse cx="350.2" cy="152.0" rx="4.64" ry="4.64" fill="#c0b2f0" opacity="0.4"/>
<ellipse cx="350.2" cy="152.0" rx="2.73" ry="2.73" fill="#3a1a9a"/>
<ellipse cx="350.2" cy="152.0" rx="2.02" ry="2.02" fill="#4c30b8"/>
<ellipse cx="350.2" cy="152.0" rx="1.15" ry="1.15" fill="#8a7ad4"/>
<ellipse cx="354.9" cy="160.8" rx="5.36" ry="5.36" fill="#c0b2f0" opacity="0.4"/>
<ellipse cx="354.9" cy="160.8" rx="3.15" ry="3.15" fill="#3a1a9a"/>
<ellipse cx="354.9" cy="160.8" rx="2.33" ry="2.33" fill="#4c30b8"/>
<ellipse cx="354.9" cy="160.8" rx="1.32" ry="1.32" fill="#8a7ad4"/>
<ellipse cx="361.2" cy="168.7" rx="4.64" ry="4.64" fill="#c0b2f0" opacity="0.4"/>
<ellipse cx="361.2" cy="168.7" rx="2.73" ry="2.73" fill="#3a1a9a"/>
<ellipse cx="361.2" cy="168.7" rx="2.02" ry="2.02" fill="#4c30b8"/>
<ellipse cx="361.2" cy="168.7" rx="1.15" ry="1.15" fill="#8a7ad4"/>
<ellipse cx="381.7" cy="160.8" rx="5.36" ry="5.36" fill="#c0b2f0" opacity="0.4"/>
<ellipse cx="381.7" cy="160.8" rx="3.15" ry="3.15" fill="#3a1a9a"/>
<ellipse cx="381.7" cy="160.8" rx="2.33" ry="2.33" fill="#4c30b8"/>
<ellipse cx="381.7" cy="160.8" rx="1.32" ry="1.32" fill="#8a7ad4"/>
<ellipse cx="386.4" cy="179.7" rx="3.93" ry="3.93" fill="#c0b2f0" opacity="0.4"/>
<ellipse cx="386.4" cy="179.7" rx="2.31" ry="2.31" fill="#3a1a9a"/>
<ellipse cx="386.4" cy="179.7" rx="1.71" ry="1.71" fill="#4c30b8"/>
<ellipse cx="386.4" cy="179.7" rx="0.97" ry="0.97" fill="#8a7ad4"/>
<ellipse cx="416.4" cy="162.4" rx="4.64" ry="7.14" fill="#c0b2f0" opacity="0.4"/>
<ellipse cx="416.4" cy="162.4" rx="2.73" ry="4.20" fill="#3a1a9a"/>
<ellipse cx="416.4" cy="162.4" rx="2.02" ry="3.11" fill="#4c30b8"/>
<ellipse cx="416.4" cy="162.4" rx="1.15" ry="1.76" fill="#8a7ad4"/>
<ellipse cx="449.5" cy="160.8" rx="4.64" ry="4.64" fill="#c0b2f0" opacity="0.4"/>
<ellipse cx="449.5" cy="160.8" rx="2.73" ry="2.73" fill="#3a1a9a"/>
<ellipse cx="449.5" cy="160.8" rx="2.02" ry="2.02" fill="#4c30b8"/>
<ellipse cx="449.5" cy="160.8" rx="1.15" ry="1.15" fill="#8a7ad4"/>
<ellipse cx="454.3" cy="157.6" rx="3.93" ry="3.93" fill="#c0b2f0" opacity="0.4"/>
<ellipse cx="454.3" cy="157.6" rx="2.31" ry="2.31" fill="#3a1a9a"/>
<ellipse cx="454.3" cy="157.6" rx="1.71" ry="1.71" fill="#4c30b8"/>
<ellipse cx="454.3" cy="157.6" rx="0.97" ry="0.97" fill="#8a7ad4"/>
<ellipse cx="444.8" cy="175.0" rx="4.64" ry="4.64" fill="#c0b2f0" opacity="0.4"/>
<ellipse cx="444.8" cy="175.0" rx="2.73" ry="2.73" fill="#3a1a9a"/>
<ellipse cx="444.8" cy="175.0" rx="2.02" ry="2.02" fill="#4c30b8"/>
<ellipse cx="444.8" cy="175.0" rx="1.15" ry="1.15" fill="#8a7ad4"/>
<ellipse cx="323.4" cy="201.4" rx="3.93" ry="3.93" fill="#c0b2f0" opacity="0.4"/>
<ellipse cx="323.4" cy="201.4" rx="2.31" ry="2.31" fill="#3a1a9a"/>
<ellipse cx="323.4" cy="201.4" rx="1.71" ry="1.71" fill="#4c30b8"/>
<ellipse cx="323.4" cy="201.4" rx="0.97" ry="0.97" fill="#8a7ad4"/>
<ellipse cx="319.2" cy="210.8" rx="6.43" ry="7.14" fill="#c0b2f0" opacity="0.4"/>
<ellipse cx="319.2" cy="210.8" rx="3.78" ry="4.20" fill="#3a1a9a"/>
<ellipse cx="319.2" cy="210.8" rx="2.80" ry="3.11" fill="#4c30b8"/>
<ellipse cx="319.2" cy="210.8" rx="1.59" ry="1.76" fill="#8a7ad4"/>
<ellipse cx="361.2" cy="193.5" rx="3.93" ry="3.93" fill="#c0b2f0" opacity="0.4"/>
<ellipse cx="361.2" cy="193.5" rx="2.31" ry="2.31" fill="#3a1a9a"/>
<ellipse cx="361.2" cy="193.5" rx="1.71" ry="1.71" fill="#4c30b8"/>
<ellipse cx="361.2" cy="193.5" rx="0.97" ry="0.97" fill="#8a7ad4"/>
<ellipse cx="358.0" cy="201.4" rx="3.93" ry="3.93" fill="#c0b2f0" opacity="0.4"/>
<ellipse cx="358.0" cy="201.4" rx="2.31" ry="2.31" fill="#3a1a9a"/>
<ellipse cx="358.0" cy="201.4" rx="1.71" ry="1.71" fill="#4c30b8"/>
<ellipse cx="358.0" cy="201.4" rx="0.97" ry="0.97" fill="#8a7ad4"/>
<ellipse cx="359.6" cy="206.0" rx="3.93" ry="3.93" fill="#c0b2f0" opacity="0.4"/>
<ellipse cx="359.6" cy="206.0" rx="2.31" ry="2.31" fill="#3a1a9a"/>
<ellipse cx="359.6" cy="206.0" rx="1.71" ry="1.71" fill="#4c30b8"/>
<ellipse cx="359.6" cy="206.0" rx="0.97" ry="0.97" fill="#8a7ad4"/>
<ellipse cx="356.5" cy="214.0" rx="5.36" ry="5.36" fill="#c0b2f0" opacity="0.4"/>
<ellipse cx="356.5" cy="214.0" rx="3.15" ry="3.15" fill="#3a1a9a"/>
<ellipse cx="356.5" cy="214.0" rx="2.33" ry="2.33" fill="#4c30b8"/>
<ellipse cx="356.5" cy="214.0" rx="1.32" ry="1.32" fill="#8a7ad4"/>
<ellipse cx="388.6" cy="201.4" rx="7.14" ry="7.14" fill="#c0b2f0" opacity="0.4"/>
<ellipse cx="388.6" cy="201.4" rx="4.20" ry="4.20" fill="#3a1a9a"/>
<ellipse cx="388.6" cy="201.4" rx="3.11" ry="3.11" fill="#4c30b8"/>
<ellipse cx="388.6" cy="201.4" rx="1.76" ry="1.76" fill="#8a7ad4"/>
<ellipse cx="422.7" cy="198.2" rx="3.93" ry="3.93" fill="#c0b2f0" opacity="0.4"/>
<ellipse cx="422.7" cy="198.2" rx="2.31" ry="2.31" fill="#3a1a9a"/>
<ellipse cx="422.7" cy="198.2" rx="1.71" ry="1.71" fill="#4c30b8"/>
<ellipse cx="422.7" cy="198.2" rx="0.97" ry="0.97" fill="#8a7ad4"/>
<ellipse cx="421.1" cy="202.8" rx="3.93" ry="3.93" fill="#c0b2f0" opacity="0.4"/>
<ellipse cx="421.1" cy="202.8" rx="2.31" ry="2.31" fill="#3a1a9a"/>
<ellipse cx="421.1" cy="202.8" rx="1.71" ry="1.71" fill="#4c30b8"/>
<ellipse cx="421.1" cy="202.8" rx="0.97" ry="0.97" fill="#8a7ad4"/>
<ellipse cx="416.4" cy="210.8" rx="3.57" ry="3.57" fill="#c0b2f0" opacity="0.4"/>
<ellipse cx="416.4" cy="210.8" rx="2.10" ry="2.10" fill="#3a1a9a"/>
<ellipse cx="416.4" cy="210.8" rx="1.55" ry="1.55" fill="#4c30b8"/>
<ellipse cx="416.4" cy="210.8" rx="0.88" ry="0.88" fill="#8a7ad4"/>
<ellipse cx="454.3" cy="201.4" rx="5.36" ry="5.36" fill="#c0b2f0" opacity="0.4"/>
<ellipse cx="454.3" cy="201.4" rx="3.15" ry="3.15" fill="#3a1a9a"/>
<ellipse cx="454.3" cy="201.4" rx="2.33" ry="2.33" fill="#4c30b8"/>
<ellipse cx="454.3" cy="201.4" rx="1.32" ry="1.32" fill="#8a7ad4"/>
<ellipse cx="323.4" cy="236.0" rx="3.93" ry="3.93" fill="#c0b2f0" opacity="0.4"/>
<ellipse cx="323.4" cy="236.0" rx="2.31" ry="2.31" fill="#3a1a9a"/>
<ellipse cx="323.4" cy="236.0" rx="1.71" ry="1.71" fill="#4c30b8"/>
<ellipse cx="323.4" cy="236.0" rx="0.97" ry="0.97" fill="#8a7ad4"/>
<ellipse cx="325.0" cy="242.4" rx="3.93" ry="3.93" fill="#c0b2f0" opacity="0.4"/>
<ellipse cx="325.0" cy="242.4" rx="2.31" ry="2.31" fill="#3a1a9a"/>
<ellipse cx="325.0" cy="242.4" rx="1.71" ry="1.71" fill="#4c30b8"/>
<ellipse cx="325.0" cy="242.4" rx="0.97" ry="0.97" fill="#8a7ad4"/>
<ellipse cx="317.0" cy="251.8" rx="4.64" ry="4.64" fill="#c0b2f0" opacity="0.4"/>
<ellipse cx="317.0" cy="251.8" rx="2.73" ry="2.73" fill="#3a1a9a"/>
<ellipse cx="317.0" cy="251.8" rx="2.02" ry="2.02" fill="#4c30b8"/>
<ellipse cx="317.0" cy="251.8" rx="1.15" ry="1.15" fill="#8a7ad4"/>
<ellipse cx="354.9" cy="238.3" rx="7.14" ry="6.43" fill="#c0b2f0" opacity="0.4"/>
<ellipse cx="354.9" cy="238.3" rx="4.20" ry="3.78" fill="#3a1a9a"/>
<ellipse cx="354.9" cy="238.3" rx="3.11" ry="2.80" fill="#4c30b8"/>
<ellipse cx="354.9" cy="238.3" rx="1.76" ry="1.59" fill="#8a7ad4"/>
<ellipse cx="381.7" cy="237.6" rx="5.36" ry="5.36" fill="#c0b2f0" opacity="0.4"/>
<ellipse cx="381.7" cy="237.6" rx="3.15" ry="3.15" fill="#3a1a9a"/>
<ellipse cx="381.7" cy="237.6" rx="2.33" ry="2.33" fill="#4c30b8"/>
<ellipse cx="381.7" cy="237.6" rx="1.32" ry="1.32" fill="#8a7ad4"/>
<ellipse cx="411.7" cy="231.3" rx="3.93" ry="3.93" fill="#c0b2f0" opacity="0.4"/>
<ellipse cx="411.7" cy="231.3" rx="2.31" ry="2.31" fill="#3a1a9a"/>
<ellipse cx="411.7" cy="231.3" rx="1.71" ry="1.71" fill="#4c30b8"/>
<ellipse cx="411.7" cy="231.3" rx="0.97" ry="0.97" fill="#8a7ad4"/>
<ellipse cx="418.0" cy="234.5" rx="3.93" ry="3.93" fill="#c0b2f0" opacity="0.4"/>
<ellipse cx="418.0" cy="234.5" rx="2.31" ry="2.31" fill="#3a1a9a"/>
<ellipse cx="418.0" cy="234.5" rx="1.71" ry="1.71" fill="#4c30b8"/>
<ellipse cx="418.0" cy="234.5" rx="0.97" ry="0.97" fill="#8a7ad4"/>
<ellipse cx="416.4" cy="242.4" rx="3.93" ry="3.93" fill="#c0b2f0" opacity="0.4"/>
<ellipse cx="416.4" cy="242.4" rx="2.31" ry="2.31" fill="#3a1a9a"/>
<ellipse cx="416.4" cy="242.4" rx="1.71" ry="1.71" fill="#4c30b8"/>
<ellipse cx="416.4" cy="242.4" rx="0.97" ry="0.97" fill="#8a7ad4"/>
<ellipse cx="451.1" cy="239.2" rx="5.36" ry="5.36" fill="#c0b2f0" opacity="0.4"/>
<ellipse cx="451.1" cy="239.2" rx="3.15" ry="3.15" fill="#3a1a9a"/>
<ellipse cx="451.1" cy="239.2" rx="2.33" ry="2.33" fill="#4c30b8"/>
<ellipse cx="451.1" cy="239.2" rx="1.32" ry="1.32" fill="#8a7ad4"/>
<ellipse cx="448.0" cy="251.8" rx="3.93" ry="3.93" fill="#c0b2f0" opacity="0.4"/>
<ellipse cx="448.0" cy="251.8" rx="2.31" ry="2.31" fill="#3a1a9a"/>
<ellipse cx="448.0" cy="251.8" rx="1.71" ry="1.71" fill="#4c30b8"/>
<ellipse cx="448.0" cy="251.8" rx="0.97" ry="0.97" fill="#8a7ad4"/>
<ellipse cx="328.1" cy="273.5" rx="4.42" ry="4.42" fill="#c0b2f0" opacity="0.4"/>
<ellipse cx="328.1" cy="273.5" rx="2.60" ry="2.60" fill="#3a1f94"/>
<ellipse cx="328.1" cy="273.5" rx="2.18" ry="2.18" fill="#2c3cc4"/>
<ellipse cx="328.1" cy="273.5" rx="1.82" ry="1.82" fill="#2aa6d4"/>
<ellipse cx="328.1" cy="273.5" rx="1.46" ry="1.46" fill="#62c24a"/>
<ellipse cx="328.1" cy="273.5" rx="1.09" ry="1.09" fill="#e0dc20"/>
<ellipse cx="328.1" cy="273.5" rx="0.65" ry="0.65" fill="#e83818"/>
<ellipse cx="355.8" cy="278.2" rx="6.43" ry="6.43" fill="#c0b2f0" opacity="0.4"/>
<ellipse cx="355.8" cy="278.2" rx="3.78" ry="3.78" fill="#3a1a9a"/>
<ellipse cx="355.8" cy="278.2" rx="2.80" ry="2.80" fill="#4c30b8"/>
<ellipse cx="355.8" cy="278.2" rx="1.59" ry="1.59" fill="#8a7ad4"/>
<ellipse cx="351.7" cy="297.1" rx="3.93" ry="3.93" fill="#c0b2f0" opacity="0.4"/>
<ellipse cx="351.7" cy="297.1" rx="2.31" ry="2.31" fill="#3a1a9a"/>
<ellipse cx="351.7" cy="297.1" rx="1.71" ry="1.71" fill="#4c30b8"/>
<ellipse cx="351.7" cy="297.1" rx="0.97" ry="0.97" fill="#8a7ad4"/>
<ellipse cx="386.4" cy="281.4" rx="8.16" ry="8.16" fill="#c0b2f0" opacity="0.4"/>
<ellipse cx="386.4" cy="281.4" rx="4.80" ry="4.80" fill="#3a1f94"/>
<ellipse cx="386.4" cy="281.4" rx="3.84" ry="3.84" fill="#2c3cc4"/>
<ellipse cx="386.4" cy="281.4" rx="2.88" ry="2.88" fill="#2aa6d4"/>
<ellipse cx="386.4" cy="281.4" rx="1.68" ry="1.68" fill="#8ad4e8"/>
<ellipse cx="416.4" cy="278.2" rx="2.86" ry="2.86" fill="#c0b2f0" opacity="0.4"/>
<ellipse cx="416.4" cy="278.2" rx="1.68" ry="1.68" fill="#3a1a9a"/>
<ellipse cx="416.4" cy="278.2" rx="1.24" ry="1.24" fill="#4c30b8"/>
<ellipse cx="416.4" cy="278.2" rx="0.71" ry="0.71" fill="#8a7ad4"/>
<ellipse cx="411.7" cy="295.5" rx="5.36" ry="5.36" fill="#c0b2f0" opacity="0.4"/>
<ellipse cx="411.7" cy="295.5" rx="3.15" ry="3.15" fill="#3a1a9a"/>
<ellipse cx="411.7" cy="295.5" rx="2.33" ry="2.33" fill="#4c30b8"/>
<ellipse cx="411.7" cy="295.5" rx="1.32" ry="1.32" fill="#8a7ad4"/>
<ellipse cx="446.4" cy="270.3" rx="4.64" ry="4.64" fill="#c0b2f0" opacity="0.4"/>
<ellipse cx="446.4" cy="270.3" rx="2.73" ry="2.73" fill="#3a1a9a"/>
<ellipse cx="446.4" cy="270.3" rx="2.02" ry="2.02" fill="#4c30b8"/>
<ellipse cx="446.4" cy="270.3" rx="1.15" ry="1.15" fill="#8a7ad4"/>
<ellipse cx="444.8" cy="275.5" rx="4.64" ry="4.64" fill="#c0b2f0" opacity="0.4"/>
<ellipse cx="444.8" cy="275.5" rx="2.73" ry="2.73" fill="#3a1a9a"/>
<ellipse cx="444.8" cy="275.5" rx="2.02" ry="2.02" fill="#4c30b8"/>
<ellipse cx="444.8" cy="275.5" rx="1.15" ry="1.15" fill="#8a7ad4"/>
<ellipse cx="454.3" cy="276.6" rx="4.64" ry="4.64" fill="#c0b2f0" opacity="0.4"/>
<ellipse cx="454.3" cy="276.6" rx="2.73" ry="2.73" fill="#3a1a9a"/>
<ellipse cx="454.3" cy="276.6" rx="2.02" ry="2.02" fill="#4c30b8"/>
<ellipse cx="454.3" cy="276.6" rx="1.15" ry="1.15" fill="#8a7ad4"/>
<ellipse cx="451.1" cy="284.5" rx="4.64" ry="4.64" fill="#c0b2f0" opacity="0.4"/>
<ellipse cx="451.1" cy="284.5" rx="2.73" ry="2.73" fill="#3a1a9a"/>
<ellipse cx="451.1" cy="284.5" rx="2.02" ry="2.02" fill="#4c30b8"/>
<ellipse cx="451.1" cy="284.5" rx="1.15" ry="1.15" fill="#8a7ad4"/>
<ellipse cx="444.8" cy="294.9" rx="4.64" ry="4.64" fill="#c0b2f0" opacity="0.4"/>
<ellipse cx="444.8" cy="294.9" rx="2.73" ry="2.73" fill="#3a1a9a"/>
<ellipse cx="444.8" cy="294.9" rx="2.02" ry="2.02" fill="#4c30b8"/>
<ellipse cx="444.8" cy="294.9" rx="1.15" ry="1.15" fill="#8a7ad4"/>
<ellipse cx="325.5" cy="321.5" rx="5.36" ry="5.36" fill="#c0b2f0" opacity="0.4"/>
<ellipse cx="325.5" cy="321.5" rx="3.15" ry="3.15" fill="#3a1a9a"/>
<ellipse cx="325.5" cy="321.5" rx="2.33" ry="2.33" fill="#4c30b8"/>
<ellipse cx="325.5" cy="321.5" rx="1.32" ry="1.32" fill="#8a7ad4"/>
<ellipse cx="353.3" cy="315.1" rx="2.86" ry="2.86" fill="#c0b2f0" opacity="0.4"/>
<ellipse cx="353.3" cy="315.1" rx="1.68" ry="1.68" fill="#3a1a9a"/>
<ellipse cx="353.3" cy="315.1" rx="1.24" ry="1.24" fill="#4c30b8"/>
<ellipse cx="353.3" cy="315.1" rx="0.71" ry="0.71" fill="#8a7ad4"/>
<ellipse cx="388.6" cy="312.9" rx="3.93" ry="3.93" fill="#c0b2f0" opacity="0.4"/>
<ellipse cx="388.6" cy="312.9" rx="2.31" ry="2.31" fill="#3a1a9a"/>
<ellipse cx="388.6" cy="312.9" rx="1.71" ry="1.71" fill="#4c30b8"/>
<ellipse cx="388.6" cy="312.9" rx="0.97" ry="0.97" fill="#8a7ad4"/>
<ellipse cx="421.1" cy="320.8" rx="4.64" ry="4.64" fill="#c0b2f0" opacity="0.4"/>
<ellipse cx="421.1" cy="320.8" rx="2.73" ry="2.73" fill="#3a1a9a"/>
<ellipse cx="421.1" cy="320.8" rx="2.02" ry="2.02" fill="#4c30b8"/>
<ellipse cx="421.1" cy="320.8" rx="1.15" ry="1.15" fill="#8a7ad4"/>
<ellipse cx="417.0" cy="339.7" rx="4.64" ry="4.64" fill="#c0b2f0" opacity="0.4"/>
<ellipse cx="417.0" cy="339.7" rx="2.73" ry="2.73" fill="#3a1a9a"/>
<ellipse cx="417.0" cy="339.7" rx="2.02" ry="2.02" fill="#4c30b8"/>
<ellipse cx="417.0" cy="339.7" rx="1.15" ry="1.15" fill="#8a7ad4"/>
<ellipse cx="444.8" cy="336.6" rx="4.64" ry="4.64" fill="#c0b2f0" opacity="0.4"/>
<ellipse cx="444.8" cy="336.6" rx="2.73" ry="2.73" fill="#3a1a9a"/>
<ellipse cx="444.8" cy="336.6" rx="2.02" ry="2.02" fill="#4c30b8"/>
<ellipse cx="444.8" cy="336.6" rx="1.15" ry="1.15" fill="#8a7ad4"/>
</g>
</g>
<text x="304.30" y="47.28" font-size="6.6" fill="#262626" stroke="#262626" stroke-width="0.2" text-anchor="end" textLength="11.89" lengthAdjust="spacingAndGlyphs">PBS</text>
<text x="304.30" y="87.08" font-size="6.6" fill="#262626" stroke="#262626" stroke-width="0.2" text-anchor="end" textLength="20.47" lengthAdjust="spacingAndGlyphs">PC-Exo</text>
<text x="304.30" y="117.68" font-size="6.6" fill="#262626" stroke="#262626" stroke-width="0.2" text-anchor="end" textLength="22.44" lengthAdjust="spacingAndGlyphs">PC-Anti-</text>
<text x="304.30" y="127.08" font-size="6.6" fill="#262626" stroke="#262626" stroke-width="0.2" text-anchor="end" textLength="29.38" lengthAdjust="spacingAndGlyphs">BCMA-Exo</text>
<text x="304.30" y="171.08" font-size="6.6" fill="#262626" stroke="#262626" stroke-width="0.2" text-anchor="end" textLength="8.58" lengthAdjust="spacingAndGlyphs">Btz</text>
<text x="304.30" y="203.18" font-size="6.6" fill="#262626" stroke="#262626" stroke-width="0.2" text-anchor="end" textLength="31.03" lengthAdjust="spacingAndGlyphs">PC-Exo-Btz</text>
<text x="304.30" y="241.38" font-size="6.6" fill="#262626" stroke="#262626" stroke-width="0.2" text-anchor="end" textLength="22.44" lengthAdjust="spacingAndGlyphs">PC-Anti-</text>
<text x="304.30" y="251.38" font-size="6.6" fill="#262626" stroke="#262626" stroke-width="0.2" text-anchor="end" textLength="39.94" lengthAdjust="spacingAndGlyphs">BCMA-Exo-Btz</text>
<text x="304.30" y="283.78" font-size="6.6" fill="#262626" stroke="#262626" stroke-width="0.2" text-anchor="end" textLength="21.78" lengthAdjust="spacingAndGlyphs">CL-Anti-</text>
<text x="304.30" y="293.48" font-size="6.6" fill="#262626" stroke="#262626" stroke-width="0.2" text-anchor="end" textLength="29.38" lengthAdjust="spacingAndGlyphs">BCMA-Exo</text>
<text x="304.30" y="326.38" font-size="6.6" fill="#262626" stroke="#262626" stroke-width="0.2" text-anchor="end" textLength="21.78" lengthAdjust="spacingAndGlyphs">CL-Anti-</text>
<text x="304.30" y="336.38" font-size="6.6" fill="#262626" stroke="#262626" stroke-width="0.2" text-anchor="end" textLength="39.94" lengthAdjust="spacingAndGlyphs">BCMA-Exo-Btz</text>
<rect x="480" y="33.4" width="5" height="176.8" fill="url(#cb)"/>
<line x1="485.30" y1="33.40" x2="485.30" y2="210.20" stroke="#333" stroke-width="0.5" />
<line x1="485.30" y1="33.82" x2="487.20" y2="33.82" stroke="#333" stroke-width="0.6" />
<line x1="485.30" y1="41.47" x2="486.60" y2="41.47" stroke="#333" stroke-width="0.6" />
<line x1="485.30" y1="49.13" x2="486.60" y2="49.13" stroke="#333" stroke-width="0.6" />
<line x1="485.30" y1="56.78" x2="486.60" y2="56.78" stroke="#333" stroke-width="0.6" />
<line x1="485.30" y1="64.44" x2="486.60" y2="64.44" stroke="#333" stroke-width="0.6" />
<line x1="485.30" y1="72.09" x2="487.20" y2="72.09" stroke="#333" stroke-width="0.6" />
<line x1="485.30" y1="79.74" x2="486.60" y2="79.74" stroke="#333" stroke-width="0.6" />
<line x1="485.30" y1="87.40" x2="486.60" y2="87.40" stroke="#333" stroke-width="0.6" />
<line x1="485.30" y1="95.05" x2="486.60" y2="95.05" stroke="#333" stroke-width="0.6" />
<line x1="485.30" y1="102.71" x2="486.60" y2="102.71" stroke="#333" stroke-width="0.6" />
<line x1="485.30" y1="110.36" x2="487.20" y2="110.36" stroke="#333" stroke-width="0.6" />
<line x1="485.30" y1="118.01" x2="486.60" y2="118.01" stroke="#333" stroke-width="0.6" />
<line x1="485.30" y1="125.67" x2="486.60" y2="125.67" stroke="#333" stroke-width="0.6" />
<line x1="485.30" y1="133.32" x2="486.60" y2="133.32" stroke="#333" stroke-width="0.6" />
<line x1="485.30" y1="140.98" x2="486.60" y2="140.98" stroke="#333" stroke-width="0.6" />
<line x1="485.30" y1="148.63" x2="487.20" y2="148.63" stroke="#333" stroke-width="0.6" />
<line x1="485.30" y1="156.28" x2="486.60" y2="156.28" stroke="#333" stroke-width="0.6" />
<line x1="485.30" y1="163.94" x2="486.60" y2="163.94" stroke="#333" stroke-width="0.6" />
<line x1="485.30" y1="171.59" x2="486.60" y2="171.59" stroke="#333" stroke-width="0.6" />
<line x1="485.30" y1="179.25" x2="486.60" y2="179.25" stroke="#333" stroke-width="0.6" />
<line x1="485.30" y1="186.90" x2="487.20" y2="186.90" stroke="#333" stroke-width="0.6" />
<line x1="485.30" y1="194.55" x2="486.60" y2="194.55" stroke="#333" stroke-width="0.6" />
<line x1="485.30" y1="202.21" x2="486.60" y2="202.21" stroke="#333" stroke-width="0.6" />
<line x1="485.30" y1="209.86" x2="486.60" y2="209.86" stroke="#333" stroke-width="0.6" />
<text x="489.00" y="36.20" font-size="6.6" fill="#262626" stroke="#262626" stroke-width="0.2" textLength="8.44" lengthAdjust="spacingAndGlyphs">5.0</text>
<text x="489.00" y="74.47" font-size="6.6" fill="#262626" stroke="#262626" stroke-width="0.2" textLength="8.44" lengthAdjust="spacingAndGlyphs">4.0</text>
<text x="489.00" y="112.74" font-size="6.6" fill="#262626" stroke="#262626" stroke-width="0.2" textLength="8.44" lengthAdjust="spacingAndGlyphs">3.0</text>
<text x="489.00" y="151.01" font-size="6.6" fill="#262626" stroke="#262626" stroke-width="0.2" textLength="8.44" lengthAdjust="spacingAndGlyphs">2.0</text>
<text x="489.00" y="189.28" font-size="6.6" fill="#262626" stroke="#262626" stroke-width="0.2" textLength="8.44" lengthAdjust="spacingAndGlyphs">1.0</text>
<text x="492.50" y="27.74" font-size="6.5" fill="#262626" stroke="#262626" stroke-width="0.2" text-anchor="middle" textLength="38.00" lengthAdjust="spacingAndGlyphs">Luminescence</text>
<text transform="translate(505.6,123) rotate(90)" x="0" y="2.34" font-size="6.5" fill="#333" text-anchor="middle">×10<tspan font-size="4.5" dy="-2.4">8</tspan></text>
<text x="493.50" y="221.54" font-size="6.5" fill="#262626" stroke="#262626" stroke-width="0.2" text-anchor="middle" textLength="25.26" lengthAdjust="spacingAndGlyphs">Radiance</text>
<text x="493.5" y="229.04" font-size="6.5" fill="#333" text-anchor="middle" textLength="39" lengthAdjust="spacingAndGlyphs">(p/sec/cm<tspan font-size="4.5" dy="-2.4">2</tspan><tspan dy="2.4">/sr)</tspan></text>
<rect x="0" y="0" width="520" height="1" fill="#5e5e5e"/>
<rect x="0" y="0" width="1" height="636" fill="#626262"/>
<rect x="519" y="0" width="1" height="636" fill="#3e3e3e"/>
<rect x="0" y="635" width="520" height="1" fill="#3e3e3e"/>
</svg>
</body></html>
